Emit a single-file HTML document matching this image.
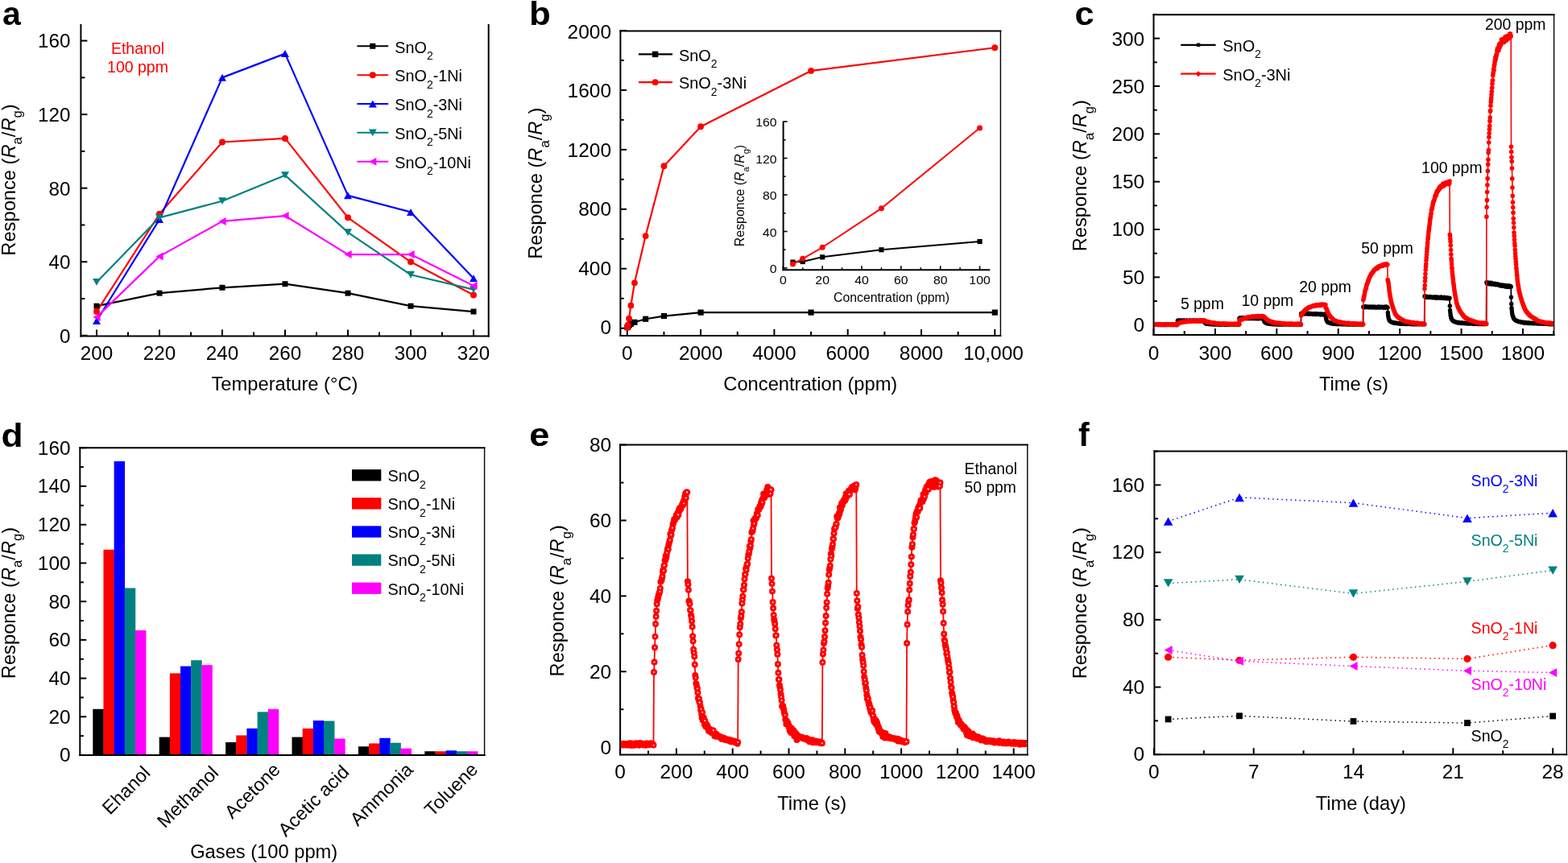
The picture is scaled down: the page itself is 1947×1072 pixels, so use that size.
<!DOCTYPE html>
<html><head><meta charset="utf-8"><title>Figure</title>
<style>html,body{margin:0;padding:0;background:#fff;overflow:hidden}svg{display:block}text{font-family:"Liberation Sans", sans-serif}</style>
</head><body>
<svg width="1947" height="1072" viewBox="0 0 1947 1072">
<rect width="1947" height="1072" fill="#fff"/>
<text x="3" y="31" font-size="41" text-anchor="start" fill="#000" font-weight="bold">a</text>
<line x1="100.4" y1="30" x2="100.4" y2="418.5" stroke="#000" stroke-width="2" />
<line x1="99.4" y1="417.5" x2="607.7" y2="417.5" stroke="#000" stroke-width="2" />
<line x1="606.7" y1="30" x2="606.7" y2="418.5" stroke="#000" stroke-width="2" />
<line x1="100.4" y1="416.8" x2="108.4" y2="416.8" stroke="#000" stroke-width="2" />
<text transform="translate(87.5,425.6) scale(1.045,1)" x="0" y="0" font-size="23.2" text-anchor="end" fill="#000" >0</text>
<line x1="100.4" y1="371.02" x2="105.4" y2="371.02" stroke="#000" stroke-width="2" />
<line x1="100.4" y1="325.25" x2="108.4" y2="325.25" stroke="#000" stroke-width="2" />
<text transform="translate(87.5,334.05) scale(1.045,1)" x="0" y="0" font-size="23.2" text-anchor="end" fill="#000" >40</text>
<line x1="100.4" y1="279.47" x2="105.4" y2="279.47" stroke="#000" stroke-width="2" />
<line x1="100.4" y1="233.7" x2="108.4" y2="233.7" stroke="#000" stroke-width="2" />
<text transform="translate(87.5,242.5) scale(1.045,1)" x="0" y="0" font-size="23.2" text-anchor="end" fill="#000" >80</text>
<line x1="100.4" y1="187.92" x2="105.4" y2="187.92" stroke="#000" stroke-width="2" />
<line x1="100.4" y1="142.14" x2="108.4" y2="142.14" stroke="#000" stroke-width="2" />
<text transform="translate(87.5,150.94) scale(1.045,1)" x="0" y="0" font-size="23.2" text-anchor="end" fill="#000" >120</text>
<line x1="100.4" y1="96.37" x2="105.4" y2="96.37" stroke="#000" stroke-width="2" />
<line x1="100.4" y1="50.59" x2="108.4" y2="50.59" stroke="#000" stroke-width="2" />
<text transform="translate(87.5,59.39) scale(1.045,1)" x="0" y="0" font-size="23.2" text-anchor="end" fill="#000" >160</text>
<line x1="120" y1="417.5" x2="120" y2="409.5" stroke="#000" stroke-width="2" />
<text transform="translate(120,447.3) scale(1.045,1)" x="0" y="0" font-size="23.2" text-anchor="middle" fill="#000" >200</text>
<line x1="159" y1="417.5" x2="159" y2="412.5" stroke="#000" stroke-width="2" />
<line x1="198" y1="417.5" x2="198" y2="409.5" stroke="#000" stroke-width="2" />
<text transform="translate(198,447.3) scale(1.045,1)" x="0" y="0" font-size="23.2" text-anchor="middle" fill="#000" >220</text>
<line x1="237" y1="417.5" x2="237" y2="412.5" stroke="#000" stroke-width="2" />
<line x1="276" y1="417.5" x2="276" y2="409.5" stroke="#000" stroke-width="2" />
<text transform="translate(276,447.3) scale(1.045,1)" x="0" y="0" font-size="23.2" text-anchor="middle" fill="#000" >240</text>
<line x1="315" y1="417.5" x2="315" y2="412.5" stroke="#000" stroke-width="2" />
<line x1="354" y1="417.5" x2="354" y2="409.5" stroke="#000" stroke-width="2" />
<text transform="translate(354,447.3) scale(1.045,1)" x="0" y="0" font-size="23.2" text-anchor="middle" fill="#000" >260</text>
<line x1="393" y1="417.5" x2="393" y2="412.5" stroke="#000" stroke-width="2" />
<line x1="432" y1="417.5" x2="432" y2="409.5" stroke="#000" stroke-width="2" />
<text transform="translate(432,447.3) scale(1.045,1)" x="0" y="0" font-size="23.2" text-anchor="middle" fill="#000" >280</text>
<line x1="471" y1="417.5" x2="471" y2="412.5" stroke="#000" stroke-width="2" />
<line x1="510" y1="417.5" x2="510" y2="409.5" stroke="#000" stroke-width="2" />
<text transform="translate(510,447.3) scale(1.045,1)" x="0" y="0" font-size="23.2" text-anchor="middle" fill="#000" >300</text>
<line x1="549" y1="417.5" x2="549" y2="412.5" stroke="#000" stroke-width="2" />
<line x1="588" y1="417.5" x2="588" y2="409.5" stroke="#000" stroke-width="2" />
<text transform="translate(588,447.3) scale(1.045,1)" x="0" y="0" font-size="23.2" text-anchor="middle" fill="#000" >320</text>
<text x="353.5" y="485.3" font-size="23.7" text-anchor="middle" fill="#000" >Temperature (°C)</text>
<text transform="translate(18.5,223.5) rotate(-90)" x="0" y="0" font-size="23.7" text-anchor="middle" fill="#000">Responce (<tspan font-style="italic">R</tspan><tspan dy="8.8" font-size="16.6">a</tspan><tspan dy="-8.8">/</tspan><tspan font-style="italic">R</tspan><tspan dy="8.8" font-size="16.6">g</tspan><tspan dy="-8.8">)</tspan></text>
<text x="171" y="67" font-size="19.5" text-anchor="middle" fill="#ff0000" >Ethanol</text>
<text x="171" y="90.1" font-size="19.5" text-anchor="middle" fill="#ff0000" >100 ppm</text>
<polyline points="120,380.18 198,364.16 276,357.29 354,352.71 432,364.16 510,380.18 588,387.05" fill="none" stroke="#000000" stroke-width="2.2" stroke-linejoin="round" />
<polyline points="120,387.05 198,265.74 276,176.48 354,171.9 432,270.32 510,325.25 588,366.45" fill="none" stroke="#ff0000" stroke-width="2.2" stroke-linejoin="round" />
<polyline points="120,398.49 198,272.61 276,96.37 354,66.61 432,242.85 510,263.45 588,345.85" fill="none" stroke="#0000ff" stroke-width="2.2" stroke-linejoin="round" />
<polyline points="120,350.42 198,270.32 276,249.72 354,217.67 432,288.63 510,341.27 588,359.58" fill="none" stroke="#008080" stroke-width="2.2" stroke-linejoin="round" />
<polyline points="120,393.91 198,318.38 276,274.89 354,268.03 432,316.09 510,316.09 588,355" fill="none" stroke="#ff00ff" stroke-width="2.2" stroke-linejoin="round" />
<rect x="116.5" y="376.68" width="7" height="7" fill="#000000"/>
<rect x="194.5" y="360.66" width="7" height="7" fill="#000000"/>
<rect x="272.5" y="353.79" width="7" height="7" fill="#000000"/>
<rect x="350.5" y="349.21" width="7" height="7" fill="#000000"/>
<rect x="428.5" y="360.66" width="7" height="7" fill="#000000"/>
<rect x="506.5" y="376.68" width="7" height="7" fill="#000000"/>
<rect x="584.5" y="383.55" width="7" height="7" fill="#000000"/>
<circle cx="120" cy="387.05" r="4" fill="#ff0000"/>
<circle cx="198" cy="265.74" r="4" fill="#ff0000"/>
<circle cx="276" cy="176.48" r="4" fill="#ff0000"/>
<circle cx="354" cy="171.9" r="4" fill="#ff0000"/>
<circle cx="432" cy="270.32" r="4" fill="#ff0000"/>
<circle cx="510" cy="325.25" r="4" fill="#ff0000"/>
<circle cx="588" cy="366.45" r="4" fill="#ff0000"/>
<polygon points="115,402.99 125,402.99 120,393.99" fill="#0000ff"/>
<polygon points="193,277.11 203,277.11 198,268.11" fill="#0000ff"/>
<polygon points="271,100.87 281,100.87 276,91.87" fill="#0000ff"/>
<polygon points="349,71.11 359,71.11 354,62.11" fill="#0000ff"/>
<polygon points="427,247.35 437,247.35 432,238.35" fill="#0000ff"/>
<polygon points="505,267.95 515,267.95 510,258.95" fill="#0000ff"/>
<polygon points="583,350.35 593,350.35 588,341.35" fill="#0000ff"/>
<polygon points="115,346.02 125,346.02 120,354.82" fill="#008080"/>
<polygon points="193,265.92 203,265.92 198,274.72" fill="#008080"/>
<polygon points="271,245.32 281,245.32 276,254.12" fill="#008080"/>
<polygon points="349,213.27 359,213.27 354,222.07" fill="#008080"/>
<polygon points="427,284.23 437,284.23 432,293.03" fill="#008080"/>
<polygon points="505,336.87 515,336.87 510,345.67" fill="#008080"/>
<polygon points="583,355.18 593,355.18 588,363.98" fill="#008080"/>
<polygon points="124.6,388.91 124.6,398.91 115.4,393.91" fill="#ff00ff"/>
<polygon points="202.6,313.38 202.6,323.38 193.4,318.38" fill="#ff00ff"/>
<polygon points="280.6,269.89 280.6,279.89 271.4,274.89" fill="#ff00ff"/>
<polygon points="358.6,263.03 358.6,273.03 349.4,268.03" fill="#ff00ff"/>
<polygon points="436.6,311.09 436.6,321.09 427.4,316.09" fill="#ff00ff"/>
<polygon points="514.6,311.09 514.6,321.09 505.4,316.09" fill="#ff00ff"/>
<polygon points="592.6,350 592.6,360 583.4,355" fill="#ff00ff"/>
<line x1="443.4" y1="57.3" x2="482.2" y2="57.3" stroke="#000000" stroke-width="2.0" />
<rect x="459.3" y="53.8" width="7" height="7" fill="#000000"/>
<text x="490.3" y="65.5" font-size="19.8" text-anchor="start" fill="#000" >SnO<tspan dy="8.4" font-size="14">2</tspan></text>
<line x1="443.4" y1="93.15" x2="482.2" y2="93.15" stroke="#ff0000" stroke-width="2.0" />
<circle cx="462.8" cy="93.15" r="4" fill="#ff0000"/>
<text x="490.3" y="101.35" font-size="19.8" text-anchor="start" fill="#000" >SnO<tspan dy="8.4" font-size="14">2</tspan><tspan dy="-8.4">-1Ni</tspan></text>
<line x1="443.4" y1="129" x2="482.2" y2="129" stroke="#0000ff" stroke-width="2.0" />
<polygon points="457.8,133.5 467.8,133.5 462.8,124.5" fill="#0000ff"/>
<text x="490.3" y="137.2" font-size="19.8" text-anchor="start" fill="#000" >SnO<tspan dy="8.4" font-size="14">2</tspan><tspan dy="-8.4">-3Ni</tspan></text>
<line x1="443.4" y1="164.85" x2="482.2" y2="164.85" stroke="#008080" stroke-width="2.0" />
<polygon points="457.8,160.45 467.8,160.45 462.8,169.25" fill="#008080"/>
<text x="490.3" y="173.05" font-size="19.8" text-anchor="start" fill="#000" >SnO<tspan dy="8.4" font-size="14">2</tspan><tspan dy="-8.4">-5Ni</tspan></text>
<line x1="443.4" y1="200.7" x2="482.2" y2="200.7" stroke="#ff00ff" stroke-width="2.0" />
<polygon points="467.4,195.7 467.4,205.7 458.2,200.7" fill="#ff00ff"/>
<text x="490.3" y="208.9" font-size="19.8" text-anchor="start" fill="#000" >SnO<tspan dy="8.4" font-size="14">2</tspan><tspan dy="-8.4">-10Ni</tspan></text>
<text transform="translate(657.1,31) scale(1.07,1)" x="0" y="0" font-size="41" text-anchor="start" fill="#000" font-weight="bold">b</text>
<line x1="770.4" y1="37.5" x2="770.4" y2="417.9" stroke="#000" stroke-width="2" />
<line x1="769.4" y1="416.9" x2="1243.4" y2="416.9" stroke="#000" stroke-width="2" />
<line x1="769.4" y1="38.5" x2="1243.4" y2="38.5" stroke="#000" stroke-width="2" />
<line x1="1242.4" y1="38.5" x2="1242.4" y2="417.9" stroke="#000" stroke-width="1.4" />
<line x1="770.4" y1="407.7" x2="778" y2="407.7" stroke="#000" stroke-width="2" />
<text transform="translate(759,415.4) scale(1.045,1)" x="0" y="0" font-size="23.4" text-anchor="end" fill="#000" >0</text>
<line x1="770.4" y1="370.73" x2="774.7" y2="370.73" stroke="#000" stroke-width="2" />
<line x1="770.4" y1="333.76" x2="778" y2="333.76" stroke="#000" stroke-width="2" />
<text transform="translate(759,341.89) scale(1.045,1)" x="0" y="0" font-size="23.4" text-anchor="end" fill="#000" >400</text>
<line x1="770.4" y1="296.79" x2="774.7" y2="296.79" stroke="#000" stroke-width="2" />
<line x1="770.4" y1="259.82" x2="778" y2="259.82" stroke="#000" stroke-width="2" />
<text transform="translate(759,268.38) scale(1.045,1)" x="0" y="0" font-size="23.4" text-anchor="end" fill="#000" >800</text>
<line x1="770.4" y1="222.85" x2="774.7" y2="222.85" stroke="#000" stroke-width="2" />
<line x1="770.4" y1="185.88" x2="778" y2="185.88" stroke="#000" stroke-width="2" />
<text transform="translate(759,194.87) scale(1.045,1)" x="0" y="0" font-size="23.4" text-anchor="end" fill="#000" >1200</text>
<line x1="770.4" y1="148.91" x2="774.7" y2="148.91" stroke="#000" stroke-width="2" />
<line x1="770.4" y1="111.94" x2="778" y2="111.94" stroke="#000" stroke-width="2" />
<text transform="translate(759,121.36) scale(1.045,1)" x="0" y="0" font-size="23.4" text-anchor="end" fill="#000" >1600</text>
<line x1="770.4" y1="74.97" x2="774.7" y2="74.97" stroke="#000" stroke-width="2" />
<line x1="770.4" y1="38" x2="778" y2="38" stroke="#000" stroke-width="2" />
<text transform="translate(759,47.85) scale(1.045,1)" x="0" y="0" font-size="23.4" text-anchor="end" fill="#000" >2000</text>
<line x1="778.8" y1="416.9" x2="778.8" y2="408.9" stroke="#000" stroke-width="2" />
<text transform="translate(778.8,447.3) scale(1.045,1)" x="0" y="0" font-size="23.4" text-anchor="middle" fill="#000" >0</text>
<line x1="824.45" y1="416.9" x2="824.45" y2="411.9" stroke="#000" stroke-width="2" />
<line x1="870.1" y1="416.9" x2="870.1" y2="408.9" stroke="#000" stroke-width="2" />
<text transform="translate(870.1,447.3) scale(1.045,1)" x="0" y="0" font-size="23.4" text-anchor="middle" fill="#000" >2000</text>
<line x1="915.75" y1="416.9" x2="915.75" y2="411.9" stroke="#000" stroke-width="2" />
<line x1="961.4" y1="416.9" x2="961.4" y2="408.9" stroke="#000" stroke-width="2" />
<text transform="translate(961.4,447.3) scale(1.045,1)" x="0" y="0" font-size="23.4" text-anchor="middle" fill="#000" >4000</text>
<line x1="1007.05" y1="416.9" x2="1007.05" y2="411.9" stroke="#000" stroke-width="2" />
<line x1="1052.7" y1="416.9" x2="1052.7" y2="408.9" stroke="#000" stroke-width="2" />
<text transform="translate(1052.7,447.3) scale(1.045,1)" x="0" y="0" font-size="23.4" text-anchor="middle" fill="#000" >6000</text>
<line x1="1098.35" y1="416.9" x2="1098.35" y2="411.9" stroke="#000" stroke-width="2" />
<line x1="1144" y1="416.9" x2="1144" y2="408.9" stroke="#000" stroke-width="2" />
<text transform="translate(1144,447.3) scale(1.045,1)" x="0" y="0" font-size="23.4" text-anchor="middle" fill="#000" >8000</text>
<line x1="1189.65" y1="416.9" x2="1189.65" y2="411.9" stroke="#000" stroke-width="2" />
<line x1="1235.3" y1="416.9" x2="1235.3" y2="408.9" stroke="#000" stroke-width="2" />
<text transform="translate(1233.5,447.3) scale(1.045,1)" x="0" y="0" font-size="23.4" text-anchor="middle" fill="#000" >10,000</text>
<text x="1006.3" y="485.3" font-size="23.7" text-anchor="middle" fill="#000" >Concentration (ppm)</text>
<text transform="translate(673,227.7) rotate(-90)" x="0" y="0" font-size="23.7" text-anchor="middle" fill="#000">Responce (<tspan font-style="italic">R</tspan><tspan dy="8.8" font-size="16.6">a</tspan><tspan dy="-8.8">/</tspan><tspan font-style="italic">R</tspan><tspan dy="8.8" font-size="16.6">g</tspan><tspan dy="-8.8">)</tspan></text>
<polyline points="779.03,406.59 779.26,406.41 779.71,405.48 781.08,404 783.37,402.34 787.93,400.31 801.62,396.24 824.45,392.54 870.1,388.11 1007.05,388.11 1235.3,388.11" fill="none" stroke="#000000" stroke-width="2.2" stroke-linejoin="round" />
<polyline points="779.03,406.87 779.26,405.8 779.71,403.54 781.08,395.68 783.37,379.42 787.93,351.32 801.62,293.09 824.45,206.21 870.1,157.23 1007.05,87.91 1235.3,59.26" fill="none" stroke="#ff0000" stroke-width="2.2" stroke-linejoin="round" />
<rect x="775.43" y="402.99" width="7.2" height="7.2" fill="#000000"/>
<rect x="775.66" y="402.81" width="7.2" height="7.2" fill="#000000"/>
<rect x="776.11" y="401.88" width="7.2" height="7.2" fill="#000000"/>
<rect x="777.48" y="400.4" width="7.2" height="7.2" fill="#000000"/>
<rect x="779.76" y="398.74" width="7.2" height="7.2" fill="#000000"/>
<rect x="784.33" y="396.71" width="7.2" height="7.2" fill="#000000"/>
<rect x="798.02" y="392.64" width="7.2" height="7.2" fill="#000000"/>
<rect x="820.85" y="388.94" width="7.2" height="7.2" fill="#000000"/>
<rect x="866.5" y="384.51" width="7.2" height="7.2" fill="#000000"/>
<rect x="1003.45" y="384.51" width="7.2" height="7.2" fill="#000000"/>
<rect x="1231.7" y="384.51" width="7.2" height="7.2" fill="#000000"/>
<circle cx="779.03" cy="406.87" r="3.9" fill="#ff0000"/>
<circle cx="779.26" cy="405.8" r="3.9" fill="#ff0000"/>
<circle cx="779.71" cy="403.54" r="3.9" fill="#ff0000"/>
<circle cx="781.08" cy="395.68" r="3.9" fill="#ff0000"/>
<circle cx="783.37" cy="379.42" r="3.9" fill="#ff0000"/>
<circle cx="787.93" cy="351.32" r="3.9" fill="#ff0000"/>
<circle cx="801.62" cy="293.09" r="3.9" fill="#ff0000"/>
<circle cx="824.45" cy="206.21" r="3.9" fill="#ff0000"/>
<circle cx="870.1" cy="157.23" r="3.9" fill="#ff0000"/>
<circle cx="1007.05" cy="87.91" r="3.9" fill="#ff0000"/>
<circle cx="1235.3" cy="59.26" r="3.9" fill="#ff0000"/>
<line x1="792.9" y1="67.4" x2="835" y2="67.4" stroke="#000000" stroke-width="2.2" />
<rect x="809.9" y="63.7" width="7.4" height="7.4" fill="#000000"/>
<text x="843" y="75.6" font-size="19.9" text-anchor="start" fill="#000" >SnO<tspan dy="8.4" font-size="14">2</tspan></text>
<line x1="792.9" y1="102.2" x2="835" y2="102.2" stroke="#ff0000" stroke-width="2.2" />
<circle cx="813.6" cy="102.2" r="3.9" fill="#ff0000"/>
<text x="843" y="110.4" font-size="19.9" text-anchor="start" fill="#000" >SnO<tspan dy="8.4" font-size="14">2</tspan><tspan dy="-8.4">-3Ni</tspan></text>
<line x1="972.6" y1="150.5" x2="972.6" y2="336.3" stroke="#000" stroke-width="2" />
<line x1="971.6" y1="335.3" x2="1229.3" y2="335.3" stroke="#000" stroke-width="2" />
<line x1="972.6" y1="333" x2="977.6" y2="333" stroke="#000" stroke-width="1.6" />
<text transform="translate(964.6,339) scale(1.04,1)" x="0" y="0" font-size="15.2" text-anchor="end" fill="#000" >0</text>
<line x1="972.6" y1="310.25" x2="975.6" y2="310.25" stroke="#000" stroke-width="1.6" />
<line x1="972.6" y1="287.5" x2="977.6" y2="287.5" stroke="#000" stroke-width="1.6" />
<text transform="translate(964.6,293.5) scale(1.04,1)" x="0" y="0" font-size="15.2" text-anchor="end" fill="#000" >40</text>
<line x1="972.6" y1="264.75" x2="975.6" y2="264.75" stroke="#000" stroke-width="1.6" />
<line x1="972.6" y1="242" x2="977.6" y2="242" stroke="#000" stroke-width="1.6" />
<text transform="translate(964.6,248) scale(1.04,1)" x="0" y="0" font-size="15.2" text-anchor="end" fill="#000" >80</text>
<line x1="972.6" y1="219.25" x2="975.6" y2="219.25" stroke="#000" stroke-width="1.6" />
<line x1="972.6" y1="196.5" x2="977.6" y2="196.5" stroke="#000" stroke-width="1.6" />
<text transform="translate(964.6,202.5) scale(1.04,1)" x="0" y="0" font-size="15.2" text-anchor="end" fill="#000" >120</text>
<line x1="972.6" y1="173.75" x2="975.6" y2="173.75" stroke="#000" stroke-width="1.6" />
<line x1="972.6" y1="151" x2="977.6" y2="151" stroke="#000" stroke-width="1.6" />
<text transform="translate(964.6,157) scale(1.04,1)" x="0" y="0" font-size="15.2" text-anchor="end" fill="#000" >160</text>
<line x1="972.3" y1="335.3" x2="972.3" y2="330.3" stroke="#000" stroke-width="1.6" />
<text transform="translate(972.3,353.4) scale(1.04,1)" x="0" y="0" font-size="15.2" text-anchor="middle" fill="#000" >0</text>
<line x1="996.72" y1="335.3" x2="996.72" y2="332.3" stroke="#000" stroke-width="1.6" />
<line x1="1021.15" y1="335.3" x2="1021.15" y2="330.3" stroke="#000" stroke-width="1.6" />
<text transform="translate(1021.15,353.4) scale(1.04,1)" x="0" y="0" font-size="15.2" text-anchor="middle" fill="#000" >20</text>
<line x1="1045.58" y1="335.3" x2="1045.58" y2="332.3" stroke="#000" stroke-width="1.6" />
<line x1="1070" y1="335.3" x2="1070" y2="330.3" stroke="#000" stroke-width="1.6" />
<text transform="translate(1070,353.4) scale(1.04,1)" x="0" y="0" font-size="15.2" text-anchor="middle" fill="#000" >40</text>
<line x1="1094.42" y1="335.3" x2="1094.42" y2="332.3" stroke="#000" stroke-width="1.6" />
<line x1="1118.85" y1="335.3" x2="1118.85" y2="330.3" stroke="#000" stroke-width="1.6" />
<text transform="translate(1118.85,353.4) scale(1.04,1)" x="0" y="0" font-size="15.2" text-anchor="middle" fill="#000" >60</text>
<line x1="1143.27" y1="335.3" x2="1143.27" y2="332.3" stroke="#000" stroke-width="1.6" />
<line x1="1167.7" y1="335.3" x2="1167.7" y2="330.3" stroke="#000" stroke-width="1.6" />
<text transform="translate(1167.7,353.4) scale(1.04,1)" x="0" y="0" font-size="15.2" text-anchor="middle" fill="#000" >80</text>
<line x1="1192.12" y1="335.3" x2="1192.12" y2="332.3" stroke="#000" stroke-width="1.6" />
<line x1="1216.55" y1="335.3" x2="1216.55" y2="330.3" stroke="#000" stroke-width="1.6" />
<text transform="translate(1216.55,353.4) scale(1.04,1)" x="0" y="0" font-size="15.2" text-anchor="middle" fill="#000" >100</text>
<text x="1107" y="375" font-size="15.8" text-anchor="middle" fill="#000" >Concentration (ppm)</text>
<text transform="translate(924.2,243) rotate(-90)" x="0" y="0" font-size="15.9" text-anchor="middle" fill="#000">Responce (<tspan font-style="italic">R</tspan><tspan dy="5.9" font-size="11.1">a</tspan><tspan dy="-5.9">/</tspan><tspan font-style="italic">R</tspan><tspan dy="5.9" font-size="11.1">g</tspan><tspan dy="-5.9">)</tspan></text>
<polyline points="984.51,325.61 996.72,325.04 1021.15,319.35 1094.42,310.25 1216.55,300.01" fill="none" stroke="#000000" stroke-width="2" stroke-linejoin="round" />
<polyline points="984.51,327.88 996.72,321.28 1021.15,307.29 1094.42,258.83 1216.55,158.96" fill="none" stroke="#ff0000" stroke-width="2" stroke-linejoin="round" />
<rect x="981.41" y="322.51" width="6.2" height="6.2" fill="#000000"/>
<rect x="993.62" y="321.94" width="6.2" height="6.2" fill="#000000"/>
<rect x="1018.05" y="316.25" width="6.2" height="6.2" fill="#000000"/>
<rect x="1091.33" y="307.15" width="6.2" height="6.2" fill="#000000"/>
<rect x="1213.45" y="296.91" width="6.2" height="6.2" fill="#000000"/>
<circle cx="984.51" cy="327.88" r="3.5" fill="#ff0000"/>
<circle cx="996.72" cy="321.28" r="3.5" fill="#ff0000"/>
<circle cx="1021.15" cy="307.29" r="3.5" fill="#ff0000"/>
<circle cx="1094.42" cy="258.83" r="3.5" fill="#ff0000"/>
<circle cx="1216.55" cy="158.96" r="3.5" fill="#ff0000"/>
<text transform="translate(1334.5,31) scale(1.06,1)" x="0" y="0" font-size="41" text-anchor="start" fill="#000" font-weight="bold">c</text>
<line x1="1432.5" y1="17.3" x2="1432.5" y2="417.1" stroke="#000" stroke-width="2" />
<line x1="1431.5" y1="416.1" x2="1930.6" y2="416.1" stroke="#000" stroke-width="2" />
<line x1="1431.5" y1="18.3" x2="1930.6" y2="18.3" stroke="#000" stroke-width="2" />
<line x1="1929.6" y1="18.3" x2="1929.6" y2="417.1" stroke="#000" stroke-width="1.4" />
<line x1="1432.5" y1="403.7" x2="1440.1" y2="403.7" stroke="#000" stroke-width="2" />
<text transform="translate(1421.2,411.6) scale(1.045,1)" x="0" y="0" font-size="23.4" text-anchor="end" fill="#000" >0</text>
<line x1="1432.5" y1="374.03" x2="1436.8" y2="374.03" stroke="#000" stroke-width="2" />
<line x1="1432.5" y1="344.37" x2="1440.1" y2="344.37" stroke="#000" stroke-width="2" />
<text transform="translate(1421.2,352.54) scale(1.045,1)" x="0" y="0" font-size="23.4" text-anchor="end" fill="#000" >50</text>
<line x1="1432.5" y1="314.7" x2="1436.8" y2="314.7" stroke="#000" stroke-width="2" />
<line x1="1432.5" y1="285.03" x2="1440.1" y2="285.03" stroke="#000" stroke-width="2" />
<text transform="translate(1421.2,293.48) scale(1.045,1)" x="0" y="0" font-size="23.4" text-anchor="end" fill="#000" >100</text>
<line x1="1432.5" y1="255.36" x2="1436.8" y2="255.36" stroke="#000" stroke-width="2" />
<line x1="1432.5" y1="225.69" x2="1440.1" y2="225.69" stroke="#000" stroke-width="2" />
<text transform="translate(1421.2,234.42) scale(1.045,1)" x="0" y="0" font-size="23.4" text-anchor="end" fill="#000" >150</text>
<line x1="1432.5" y1="196.03" x2="1436.8" y2="196.03" stroke="#000" stroke-width="2" />
<line x1="1432.5" y1="166.36" x2="1440.1" y2="166.36" stroke="#000" stroke-width="2" />
<text transform="translate(1421.2,175.37) scale(1.045,1)" x="0" y="0" font-size="23.4" text-anchor="end" fill="#000" >200</text>
<line x1="1432.5" y1="136.69" x2="1436.8" y2="136.69" stroke="#000" stroke-width="2" />
<line x1="1432.5" y1="107.02" x2="1440.1" y2="107.02" stroke="#000" stroke-width="2" />
<text transform="translate(1421.2,116.31) scale(1.045,1)" x="0" y="0" font-size="23.4" text-anchor="end" fill="#000" >250</text>
<line x1="1432.5" y1="77.36" x2="1436.8" y2="77.36" stroke="#000" stroke-width="2" />
<line x1="1432.5" y1="47.69" x2="1440.1" y2="47.69" stroke="#000" stroke-width="2" />
<text transform="translate(1421.2,57.25) scale(1.045,1)" x="0" y="0" font-size="23.4" text-anchor="end" fill="#000" >300</text>
<line x1="1432.5" y1="18.02" x2="1436.8" y2="18.02" stroke="#000" stroke-width="2" />
<line x1="1432.5" y1="416.1" x2="1432.5" y2="408.1" stroke="#000" stroke-width="2" />
<text transform="translate(1432.5,447.3) scale(1.045,1)" x="0" y="0" font-size="23.4" text-anchor="middle" fill="#000" >0</text>
<line x1="1470.7" y1="416.1" x2="1470.7" y2="411.1" stroke="#000" stroke-width="2" />
<line x1="1508.91" y1="416.1" x2="1508.91" y2="408.1" stroke="#000" stroke-width="2" />
<text transform="translate(1508.91,447.3) scale(1.045,1)" x="0" y="0" font-size="23.4" text-anchor="middle" fill="#000" >300</text>
<line x1="1547.12" y1="416.1" x2="1547.12" y2="411.1" stroke="#000" stroke-width="2" />
<line x1="1585.32" y1="416.1" x2="1585.32" y2="408.1" stroke="#000" stroke-width="2" />
<text transform="translate(1585.32,447.3) scale(1.045,1)" x="0" y="0" font-size="23.4" text-anchor="middle" fill="#000" >600</text>
<line x1="1623.53" y1="416.1" x2="1623.53" y2="411.1" stroke="#000" stroke-width="2" />
<line x1="1661.73" y1="416.1" x2="1661.73" y2="408.1" stroke="#000" stroke-width="2" />
<text transform="translate(1661.73,447.3) scale(1.045,1)" x="0" y="0" font-size="23.4" text-anchor="middle" fill="#000" >900</text>
<line x1="1699.93" y1="416.1" x2="1699.93" y2="411.1" stroke="#000" stroke-width="2" />
<line x1="1738.14" y1="416.1" x2="1738.14" y2="408.1" stroke="#000" stroke-width="2" />
<text transform="translate(1738.14,447.3) scale(1.045,1)" x="0" y="0" font-size="23.4" text-anchor="middle" fill="#000" >1200</text>
<line x1="1776.35" y1="416.1" x2="1776.35" y2="411.1" stroke="#000" stroke-width="2" />
<line x1="1814.55" y1="416.1" x2="1814.55" y2="408.1" stroke="#000" stroke-width="2" />
<text transform="translate(1814.55,447.3) scale(1.045,1)" x="0" y="0" font-size="23.4" text-anchor="middle" fill="#000" >1500</text>
<line x1="1852.76" y1="416.1" x2="1852.76" y2="411.1" stroke="#000" stroke-width="2" />
<line x1="1890.96" y1="416.1" x2="1890.96" y2="408.1" stroke="#000" stroke-width="2" />
<text transform="translate(1890.96,447.3) scale(1.045,1)" x="0" y="0" font-size="23.4" text-anchor="middle" fill="#000" >1800</text>
<line x1="1929.16" y1="416.1" x2="1929.16" y2="411.1" stroke="#000" stroke-width="2" />
<text x="1681" y="485.3" font-size="23.7" text-anchor="middle" fill="#000" >Time (s)</text>
<text transform="translate(1349,218.2) rotate(-90)" x="0" y="0" font-size="23.7" text-anchor="middle" fill="#000">Responce (<tspan font-style="italic">R</tspan><tspan dy="8.8" font-size="16.6">a</tspan><tspan dy="-8.8">/</tspan><tspan font-style="italic">R</tspan><tspan dy="8.8" font-size="16.6">g</tspan><tspan dy="-8.8">)</tspan></text>
<clipPath id="clipc"><rect x="1433.5" y="19.3" width="495.3" height="395.8"/></clipPath><g clip-path="url(#clipc)">
<polyline points="1432.5,403.09 1432.75,403.41 1433.01,403.35 1433.26,403.42 1433.52,403.28 1433.77,403.47 1434.03,403.24 1434.28,403.53 1434.54,403.24 1434.79,403.35 1435.05,403.19 1435.3,403.24 1435.56,403.25 1435.81,403.24 1436.07,403.37 1436.32,403.37 1436.58,403.37 1436.83,403.33 1437.08,403.3 1437.34,403.57 1437.59,403.38 1437.85,403.37 1438.1,403.19 1438.36,403.31 1438.61,403.59 1438.87,403.26 1439.12,403.19 1439.38,403.29 1439.63,403.17 1439.89,403.36 1440.14,403.57 1440.4,403.46 1440.65,403.03 1440.91,403.42 1441.16,403.5 1441.41,403.27 1441.67,403.26 1441.92,403.15 1442.18,403.26 1442.43,403.45 1442.69,403.24 1442.94,403.22 1443.2,403.5 1443.45,403.41 1443.71,403.47 1443.96,403.42 1444.22,403.16 1444.47,403.33 1444.73,403.22 1444.98,403.18 1445.23,403.22 1445.49,403.58 1445.74,403.23 1446,403.35 1446.25,403.03 1446.51,403.06 1446.76,403.64 1447.02,403.38 1447.27,403.27 1447.53,403.25 1447.78,403.57 1448.04,403.32 1448.29,403.51 1448.55,403.41 1448.8,403.1 1449.06,403.41 1449.31,403.23 1449.56,403.38 1449.82,403.22 1450.07,403.41 1450.33,403.57 1450.58,403.29 1450.84,403.53 1451.09,403.27 1451.35,403.42 1451.6,403.21 1451.86,403.42 1452.11,403.51 1452.37,403.27 1452.62,403.51 1452.88,403.35 1453.13,403.33 1453.39,403.25 1453.64,403.12 1453.89,403.33 1454.15,403.4 1454.4,403.4 1454.66,403.44 1454.91,403.3 1455.17,403.51 1455.42,403.55 1455.68,403.36 1455.93,403.36 1456.19,403.54 1456.44,403.13 1456.7,403.45 1456.95,403.59 1457.21,403.4 1457.46,403.4 1457.72,403.37 1457.97,403.11 1458.22,403.57 1458.48,403.18 1458.73,403.48 1458.99,403.54 1459.24,403.32 1459.5,403.12 1459.75,403.63 1460.01,403.39 1460.26,403.36 1460.52,403.28 1460.77,403.44 1461.03,403.29 1461.28,403.69 1461.54,403.24 1461.79,403.25 1462.05,403.25 1462.3,398.41 1462.55,398.28 1462.81,398.06 1463.06,398.02 1463.32,398.24 1463.57,398.42 1463.83,398.4 1464.08,398.42 1464.34,398.23 1464.59,398.3 1464.85,397.99 1465.1,398.31 1465.36,398.32 1465.61,398.16 1465.87,397.97 1466.12,398.32 1466.38,398.11 1466.63,398.18 1466.88,398.09 1467.14,398.43 1467.39,398.1 1467.65,398.46 1467.9,398.38 1468.16,398.26 1468.41,398.36 1468.67,398.33 1468.92,398.24 1469.18,398.31 1469.43,398.35 1469.69,398.48 1469.94,398.3 1470.2,398.79 1470.45,398.53 1470.7,398.31 1470.96,398.29 1471.21,398.6 1471.47,398.5 1471.72,398.24 1471.98,398.39 1472.23,398.39 1472.49,398.48 1472.74,398.56 1473,398.41 1473.25,398.1 1473.51,398.34 1473.76,398.27 1474.02,398.21 1474.27,398.24 1474.53,398.81 1474.78,398.53 1475.03,398.56 1475.29,398.41 1475.54,398.44 1475.8,398.6 1476.05,398.62 1476.31,398.12 1476.56,398.55 1476.82,398.43 1477.07,398.2 1477.33,398.18 1477.58,398.61 1477.84,398.17 1478.09,398.49 1478.35,398.24 1478.6,398.68 1478.86,398.45 1479.11,398.43 1479.36,398.6 1479.62,398.2 1479.87,398.86 1480.13,398.38 1480.38,398.14 1480.64,398.41 1480.89,398.23 1481.15,398.59 1481.4,398.5 1481.66,398.26 1481.91,398.52 1482.17,398.19 1482.42,398.53 1482.68,398.48 1482.93,398.24 1483.19,398.38 1483.44,398.27 1483.69,398.47 1483.95,398.43 1484.2,398.37 1484.46,398.39 1484.71,398.62 1484.97,398.3 1485.22,398.53 1485.48,398.5 1485.73,398.26 1485.99,398.5 1486.24,398.69 1486.5,398.54 1486.75,398.29 1487.01,398.84 1487.26,398.71 1487.52,398.88 1487.77,398.65 1488.02,398.43 1488.28,398.28 1488.53,398.77 1488.79,398.58 1489.04,398.4 1489.3,398.31 1489.55,398.54 1489.81,398.53 1490.06,398.63 1490.32,398.93 1490.57,398.27 1490.83,398.37 1491.08,398.61 1491.34,398.5 1491.59,398.8 1491.85,398.66 1492.1,398.58 1492.35,398.51 1492.61,398.61 1492.86,398.69 1493.12,398.53 1493.37,398.81 1493.63,398.58 1493.88,398.43 1494.14,398.62 1494.39,398.55 1494.65,398.63 1494.9,398.52 1495.16,398.94 1495.41,399.87 1495.67,400.2 1495.92,400.69 1496.17,400.76 1496.43,400.99 1496.68,401.32 1496.94,401.49 1497.19,401.89 1497.45,401.66 1497.7,402.02 1497.96,402.24 1498.21,401.91 1498.47,402.07 1498.72,402.17 1498.98,402.05 1499.23,402.13 1499.49,402.02 1499.74,402.34 1500,402.21 1500.25,402.39 1500.5,402.37 1500.76,402.51 1501.01,402.5 1501.27,402.62 1501.52,402.21 1501.78,402.17 1502.03,402.29 1502.29,402.74 1502.54,402.29 1502.8,402.52 1503.05,402.73 1503.31,402.64 1503.56,402.44 1503.82,402.74 1504.07,402.31 1504.33,402.74 1504.58,402.36 1504.83,402.73 1505.09,402.59 1505.34,402.89 1505.6,402.69 1505.85,403.06 1506.11,402.59 1506.36,402.67 1506.62,402.66 1506.87,402.72 1507.13,402.85 1507.38,402.61 1507.64,402.84 1507.89,402.93 1508.15,402.73 1508.4,402.7 1508.66,402.86 1508.91,402.83 1509.16,402.96 1509.42,402.77 1509.67,402.88 1509.93,402.77 1510.18,402.86 1510.44,402.78 1510.69,403.1 1510.95,402.78 1511.2,403.01 1511.46,402.79 1511.71,402.66 1511.97,402.8 1512.22,402.75 1512.48,402.83 1512.73,403.03 1512.99,403.08 1513.24,402.75 1513.49,403.31 1513.75,403.05 1514,403.12 1514.26,403.03 1514.51,402.99 1514.77,403.05 1515.02,402.95 1515.28,403.18 1515.53,402.8 1515.79,403 1516.04,403.09 1516.3,403.17 1516.55,402.83 1516.81,402.86 1517.06,402.75 1517.32,403.24 1517.57,403.04 1517.82,402.93 1518.08,402.92 1518.33,402.91 1518.59,402.83 1518.84,402.85 1519.1,402.89 1519.35,402.9 1519.61,403.02 1519.86,403.04 1520.12,403.34 1520.37,403.35 1520.63,403.06 1520.88,402.98 1521.14,403 1521.39,402.67 1521.64,403.32 1521.9,402.96 1522.15,403.14 1522.41,402.94 1522.66,403.22 1522.92,403.22 1523.17,402.84 1523.43,403.08 1523.68,403.07 1523.94,403.12 1524.19,403.27 1524.45,403.26 1524.7,402.86 1524.96,403.11 1525.21,403.15 1525.47,402.88 1525.72,403.18 1525.97,402.84 1526.23,402.98 1526.48,403.08 1526.74,402.9 1526.99,402.87 1527.25,402.93 1527.5,403.12 1527.76,403.01 1528.01,403.31 1528.27,402.97 1528.52,402.9 1528.78,403.01 1529.03,403.2 1529.29,403.16 1529.54,403.05 1529.8,403.17 1530.05,403.42 1530.3,403.19 1530.56,403.06 1530.81,403.05 1531.07,403.26 1531.32,402.94 1531.58,403.22 1531.83,403.13 1532.09,402.99 1532.34,403.13 1532.6,403.33 1532.85,403.03 1533.11,403.21 1533.36,402.96 1533.62,403.01 1533.87,402.99 1534.13,403.09 1534.38,403.13 1534.63,403.28 1534.89,403.37 1535.14,403.2 1535.4,403.24 1535.65,402.89 1535.91,402.95 1536.16,403.24 1536.42,402.97 1536.67,403.17 1536.93,403.04 1537.18,402.76 1537.44,402.72 1537.69,403.14 1537.95,402.99 1538.2,403.06 1538.46,403.28 1538.71,403.01 1538.96,395.52 1539.22,395.14 1539.47,395.01 1539.73,395.32 1539.98,394.91 1540.24,395.09 1540.49,395.35 1540.75,395.21 1541,395.2 1541.26,395 1541.51,395.07 1541.77,394.95 1542.02,395.15 1542.28,395.06 1542.53,395.51 1542.79,395.07 1543.04,394.9 1543.29,395.04 1543.55,395.1 1543.8,395.47 1544.06,395.11 1544.31,395.02 1544.57,395.6 1544.82,395.32 1545.08,395.23 1545.33,395.1 1545.59,394.8 1545.84,395.3 1546.1,395.62 1546.35,395.35 1546.61,395.64 1546.86,394.95 1547.12,395.22 1547.37,395.37 1547.62,395.03 1547.88,395.47 1548.13,394.78 1548.39,395.54 1548.64,395.1 1548.9,395.61 1549.15,395.13 1549.41,395.11 1549.66,395.32 1549.92,395.65 1550.17,395.18 1550.43,395.09 1550.68,394.99 1550.94,395.35 1551.19,395.37 1551.44,395.19 1551.7,395.05 1551.95,395.17 1552.21,395.27 1552.46,395.47 1552.72,395.37 1552.97,395.5 1553.23,395.18 1553.48,395.25 1553.74,395.01 1553.99,395.32 1554.25,395.37 1554.5,395.3 1554.76,395.23 1555.01,395.5 1555.27,395.15 1555.52,395.54 1555.77,395.41 1556.03,395.64 1556.28,395.39 1556.54,395.46 1556.79,395.01 1557.05,395.49 1557.3,395.5 1557.56,395.52 1557.81,395.76 1558.07,395.37 1558.32,395.49 1558.58,395.32 1558.83,395.58 1559.09,395.1 1559.34,395.31 1559.6,395.58 1559.85,395.59 1560.1,395.65 1560.36,395.21 1560.61,395.05 1560.87,395.89 1561.12,395.1 1561.38,395.51 1561.63,395.84 1561.89,395.3 1562.14,395.27 1562.4,395.87 1562.65,395.63 1562.91,395.43 1563.16,395.73 1563.42,395.19 1563.67,395.63 1563.93,395.58 1564.18,395.25 1564.43,395.67 1564.69,395.36 1564.94,395.49 1565.2,395.36 1565.45,395.65 1565.71,395.54 1565.96,395.34 1566.22,395.78 1566.47,395.68 1566.73,395.5 1566.98,395.39 1567.24,395.65 1567.49,395.46 1567.75,395.44 1568,395.64 1568.26,395.65 1568.51,395.73 1568.76,395.57 1569.02,395.76 1569.27,396.56 1569.53,397.64 1569.78,398.92 1570.04,399.21 1570.29,399.94 1570.55,400.16 1570.8,400.26 1571.06,400.59 1571.31,400.68 1571.57,400.81 1571.82,400.85 1572.08,401.35 1572.33,401.56 1572.59,401.49 1572.84,401.55 1573.09,401.49 1573.35,401.68 1573.6,401.6 1573.86,401.88 1574.11,401.77 1574.37,401.83 1574.62,402.06 1574.88,402.16 1575.13,402.02 1575.39,402.01 1575.64,402.21 1575.9,402.14 1576.15,402.22 1576.41,402.38 1576.66,402.03 1576.91,402.3 1577.17,402.46 1577.42,402.49 1577.68,402.48 1577.93,402.4 1578.19,402.59 1578.44,402.33 1578.7,402.53 1578.95,402.44 1579.21,402.53 1579.46,402.67 1579.72,402.58 1579.97,402.86 1580.23,402.52 1580.48,402.67 1580.74,402.28 1580.99,402.47 1581.24,402.6 1581.5,402.7 1581.75,402.62 1582.01,402.77 1582.26,402.57 1582.52,402.66 1582.77,402.55 1583.03,402.41 1583.28,402.61 1583.54,402.71 1583.79,402.71 1584.05,402.59 1584.3,403.05 1584.56,402.75 1584.81,402.95 1585.07,402.62 1585.32,402.73 1585.57,402.64 1585.83,402.65 1586.08,402.81 1586.34,402.76 1586.59,402.86 1586.85,403 1587.1,402.69 1587.36,402.63 1587.61,402.55 1587.87,402.79 1588.12,403.04 1588.38,402.92 1588.63,402.57 1588.89,402.76 1589.14,403.11 1589.4,402.84 1589.65,402.85 1589.9,402.87 1590.16,402.87 1590.41,403.1 1590.67,402.85 1590.92,402.79 1591.18,402.59 1591.43,402.67 1591.69,403.33 1591.94,403 1592.2,403.08 1592.45,403.06 1592.71,403 1592.96,402.74 1593.22,402.9 1593.47,402.74 1593.73,402.68 1593.98,402.68 1594.23,402.64 1594.49,402.7 1594.74,402.95 1595,403.06 1595.25,403 1595.51,402.85 1595.76,403.04 1596.02,403 1596.27,402.87 1596.53,403.07 1596.78,402.78 1597.04,402.74 1597.29,403 1597.55,402.92 1597.8,402.9 1598.06,402.75 1598.31,403.1 1598.56,402.86 1598.82,402.84 1599.07,403.07 1599.33,403.03 1599.58,402.81 1599.84,402.98 1600.09,403.06 1600.35,403.11 1600.6,402.8 1600.86,403.04 1601.11,403.37 1601.37,403.04 1601.62,402.76 1601.88,402.94 1602.13,402.77 1602.38,403.05 1602.64,402.96 1602.89,403.03 1603.15,402.82 1603.4,402.95 1603.66,403.05 1603.91,402.95 1604.17,402.73 1604.42,403.08 1604.68,402.96 1604.93,402.89 1605.19,402.95 1605.44,403.07 1605.7,402.85 1605.95,402.63 1606.21,403.09 1606.46,403.29 1606.71,403.12 1606.97,403.31 1607.22,402.98 1607.48,403.01 1607.73,402.77 1607.99,402.77 1608.24,403.13 1608.5,402.78 1608.75,402.92 1609.01,402.98 1609.26,402.8 1609.52,403.2 1609.77,402.99 1610.03,402.91 1610.28,402.84 1610.54,402.96 1610.79,402.82 1611.04,402.91 1611.3,403.02 1611.55,403.05 1611.81,403.06 1612.06,402.82 1612.32,402.96 1612.57,402.93 1612.83,403.34 1613.08,403.08 1613.34,403.25 1613.59,402.81 1613.85,403.15 1614.1,402.8 1614.36,402.91 1614.61,402.9 1614.87,402.99 1615.12,402.95 1615.37,403.22 1615.63,389.55 1615.88,389.48 1616.14,389.26 1616.39,389.41 1616.65,389.78 1616.9,389.13 1617.16,389.32 1617.41,389.95 1617.67,389.55 1617.92,389.46 1618.18,389.69 1618.43,389.75 1618.69,389.47 1618.94,389.55 1619.2,389.35 1619.45,389.85 1619.7,389.74 1619.96,389.98 1620.21,389.7 1620.47,389.53 1620.72,389.46 1620.98,389.62 1621.23,389.6 1621.49,389.53 1621.74,389.69 1622,389.8 1622.25,389.8 1622.51,389.82 1622.76,389.63 1623.02,389.5 1623.27,389.75 1623.53,389.9 1623.78,389.94 1624.03,389.21 1624.29,389.84 1624.54,390.03 1624.8,390.08 1625.05,389.96 1625.31,389.69 1625.56,389.47 1625.82,389.74 1626.07,390.01 1626.33,389.55 1626.58,389.81 1626.84,389.82 1627.09,390.13 1627.35,390.07 1627.6,389.96 1627.85,389.74 1628.11,389.88 1628.36,389.86 1628.62,389.9 1628.87,389.59 1629.13,389.83 1629.38,390.06 1629.64,390.3 1629.89,390.08 1630.15,390.09 1630.4,390.43 1630.66,389.97 1630.91,390.17 1631.17,390.14 1631.42,390.41 1631.68,390.06 1631.93,390.12 1632.18,389.92 1632.44,390.07 1632.69,390.32 1632.95,390.08 1633.2,390.45 1633.46,389.94 1633.71,390.31 1633.97,390.02 1634.22,390.52 1634.48,389.98 1634.73,390.26 1634.99,390.31 1635.24,389.74 1635.5,390.36 1635.75,389.97 1636.01,390.07 1636.26,390.28 1636.51,390.26 1636.77,390.22 1637.02,390.21 1637.28,390.44 1637.53,390.58 1637.79,390.18 1638.04,390.27 1638.3,390.47 1638.55,390.2 1638.81,390.31 1639.06,390.72 1639.32,390.43 1639.57,389.92 1639.83,390.48 1640.08,390.36 1640.34,390.97 1640.59,390.07 1640.84,390.78 1641.1,390.43 1641.35,390.52 1641.61,390.77 1641.86,390.57 1642.12,390.88 1642.37,390.19 1642.63,390.55 1642.88,390.73 1643.14,390.4 1643.39,390.95 1643.65,390.53 1643.9,390.6 1644.16,390.93 1644.41,390.54 1644.67,390.22 1644.92,390.23 1645.17,390.47 1645.43,390.53 1645.68,390.47 1645.94,390.62 1646.19,391.5 1646.45,394.41 1646.7,395.86 1646.96,397.3 1647.21,397.98 1647.47,398.44 1647.72,398.77 1647.98,399.09 1648.23,399.43 1648.49,400.16 1648.74,400.19 1648.99,400.13 1649.25,400.43 1649.5,400.63 1649.76,400.58 1650.01,400.79 1650.27,401 1650.52,401.05 1650.78,401.32 1651.03,401.36 1651.29,401.18 1651.54,401.36 1651.8,401.29 1652.05,401.16 1652.31,401.45 1652.56,401.28 1652.82,401.47 1653.07,401.39 1653.32,401.74 1653.58,401.93 1653.83,401.7 1654.09,401.95 1654.34,401.73 1654.6,401.92 1654.85,402.02 1655.11,402 1655.36,402.3 1655.62,402.21 1655.87,402.12 1656.13,402.24 1656.38,402.12 1656.64,402.02 1656.89,401.85 1657.15,402.16 1657.4,402.13 1657.65,402.12 1657.91,402.1 1658.16,402.17 1658.42,402.43 1658.67,402.37 1658.93,402.25 1659.18,402.25 1659.44,402.21 1659.69,402.16 1659.95,402.42 1660.2,402.54 1660.46,402.25 1660.71,402.43 1660.97,402.36 1661.22,402.35 1661.48,402.73 1661.73,402.35 1661.98,402.1 1662.24,402.29 1662.49,402.65 1662.75,402.19 1663,402.5 1663.26,402.37 1663.51,402.47 1663.77,402.66 1664.02,402.51 1664.28,402.26 1664.53,402.59 1664.79,402.15 1665.04,402.49 1665.3,402.74 1665.55,402.66 1665.81,402.8 1666.06,402.63 1666.31,402.65 1666.57,402.7 1666.82,402.54 1667.08,402.51 1667.33,402.59 1667.59,402.86 1667.84,402.31 1668.1,402.54 1668.35,402.64 1668.61,402.41 1668.86,402.86 1669.12,402.6 1669.37,402.35 1669.63,402.86 1669.88,402.84 1670.14,402.54 1670.39,402.54 1670.64,402.71 1670.9,402.43 1671.15,402.85 1671.41,402.53 1671.66,402.98 1671.92,402.76 1672.17,402.68 1672.43,402.57 1672.68,402.95 1672.94,402.73 1673.19,402.72 1673.45,402.79 1673.7,402.46 1673.96,402.66 1674.21,402.51 1674.46,402.74 1674.72,402.63 1674.97,402.93 1675.23,402.78 1675.48,402.59 1675.74,402.62 1675.99,402.54 1676.25,402.68 1676.5,402.7 1676.76,403.15 1677.01,402.98 1677.27,402.86 1677.52,402.79 1677.78,402.81 1678.03,402.65 1678.29,402.96 1678.54,402.84 1678.79,402.82 1679.05,402.77 1679.3,402.65 1679.56,402.57 1679.81,402.96 1680.07,402.85 1680.32,403.18 1680.58,402.62 1680.83,403.08 1681.09,402.78 1681.34,402.99 1681.6,402.79 1681.85,402.92 1682.11,402.65 1682.36,402.7 1682.62,402.94 1682.87,402.66 1683.12,402.88 1683.38,402.96 1683.63,402.62 1683.89,403.12 1684.14,402.99 1684.4,402.84 1684.65,402.84 1684.91,402.94 1685.16,402.78 1685.42,402.82 1685.67,402.8 1685.93,402.68 1686.18,402.72 1686.44,402.75 1686.69,402.74 1686.95,403.05 1687.2,403.08 1687.45,402.68 1687.71,403.04 1687.96,402.92 1688.22,402.78 1688.47,402.73 1688.73,402.74 1688.98,402.98 1689.24,402.78 1689.49,403.03 1689.75,402.91 1690,402.96 1690.26,403.1 1690.51,402.77 1690.77,403.04 1691.02,402.76 1691.28,403.02 1691.53,402.85 1691.78,402.92 1692.04,402.95 1692.29,402.89 1692.55,402.77 1692.8,381.23 1693.06,381.43 1693.31,381.23 1693.57,381.45 1693.82,381.04 1694.08,381.34 1694.33,381.03 1694.59,381.12 1694.84,380.93 1695.1,381.86 1695.35,381.43 1695.61,381.45 1695.86,380.87 1696.11,381.67 1696.37,381.04 1696.62,380.98 1696.88,381.14 1697.13,381.2 1697.39,380.96 1697.64,381.31 1697.9,381.29 1698.15,381.5 1698.41,381.15 1698.66,381.33 1698.92,381.75 1699.17,381.19 1699.43,381.58 1699.68,381.3 1699.93,381.48 1700.19,381.55 1700.44,381.24 1700.7,380.92 1700.95,381.12 1701.21,381.68 1701.46,381.31 1701.72,381.28 1701.97,381.66 1702.23,381.34 1702.48,381.2 1702.74,381.25 1702.99,381.38 1703.25,381.83 1703.5,381.27 1703.76,381.04 1704.01,381.55 1704.26,381.8 1704.52,381.67 1704.77,381.97 1705.03,381.12 1705.28,381.87 1705.54,381.48 1705.79,381.35 1706.05,380.92 1706.3,381.21 1706.56,381.23 1706.81,381.7 1707.07,381.22 1707.32,381.74 1707.58,381.35 1707.83,381.69 1708.09,382.13 1708.34,381.25 1708.59,381.64 1708.85,381.46 1709.1,381.76 1709.36,381.71 1709.61,382.14 1709.87,381.98 1710.12,381.77 1710.38,381.52 1710.63,381.13 1710.89,381.85 1711.14,381.68 1711.4,381.33 1711.65,380.96 1711.91,381.28 1712.16,381.65 1712.42,380.9 1712.67,382.06 1712.92,381.44 1713.18,381.35 1713.43,381.61 1713.69,381.9 1713.94,382.05 1714.2,381.89 1714.45,381.74 1714.71,381.5 1714.96,381.22 1715.22,381.52 1715.47,381.71 1715.73,381.62 1715.98,381.51 1716.24,381.67 1716.49,381.3 1716.75,381.65 1717,381.6 1717.25,381.63 1717.51,381.79 1717.76,382.3 1718.02,381.65 1718.27,381.52 1718.53,381.87 1718.78,381.66 1719.04,381.49 1719.29,381.58 1719.55,381.39 1719.8,381.46 1720.06,381.95 1720.31,382.2 1720.57,382.18 1720.82,381.66 1721.08,381.58 1721.33,381.94 1721.58,381.06 1721.84,382.1 1722.09,382.13 1722.35,381.82 1722.6,381.79 1722.86,382.04 1723.11,382.12 1723.37,388.31 1723.62,391.41 1723.88,393.24 1724.13,394.7 1724.39,395.63 1724.64,396.22 1724.9,397.24 1725.15,397.87 1725.4,398.19 1725.66,398.43 1725.91,398.62 1726.17,398.93 1726.42,399.23 1726.68,399.41 1726.93,399.58 1727.19,399.78 1727.44,399.61 1727.7,400.08 1727.95,400.32 1728.21,400.1 1728.46,400.22 1728.72,400.52 1728.97,400.42 1729.23,400.67 1729.48,400.74 1729.73,400.75 1729.99,400.93 1730.24,401.09 1730.5,401.23 1730.75,400.67 1731.01,400.81 1731.26,401.09 1731.52,401.19 1731.77,401.37 1732.03,401.07 1732.28,401.27 1732.54,400.9 1732.79,401.56 1733.05,401.51 1733.3,401.43 1733.56,401.44 1733.81,401.53 1734.06,401.49 1734.32,401.67 1734.57,401.56 1734.83,401.72 1735.08,401.43 1735.34,401.6 1735.59,401.84 1735.85,401.65 1736.1,401.91 1736.36,401.59 1736.61,401.86 1736.87,401.64 1737.12,402.1 1737.38,401.68 1737.63,401.65 1737.89,402.15 1738.14,402.13 1738.39,401.83 1738.65,402.18 1738.9,401.72 1739.16,401.86 1739.41,401.88 1739.67,401.71 1739.92,402.16 1740.18,401.99 1740.43,402.09 1740.69,401.93 1740.94,402.19 1741.2,402.07 1741.45,402.19 1741.71,402.1 1741.96,401.97 1742.22,402.21 1742.47,402.1 1742.72,402.27 1742.98,402.26 1743.23,402.2 1743.49,402.37 1743.74,402.1 1744,402.28 1744.25,402.31 1744.51,402.05 1744.76,402.51 1745.02,402.32 1745.27,402.56 1745.53,402.07 1745.78,402.52 1746.04,402.35 1746.29,402.3 1746.55,402.28 1746.8,402.41 1747.05,402.55 1747.31,402.56 1747.56,402.24 1747.82,402.36 1748.07,402.33 1748.33,402.39 1748.58,402.37 1748.84,402.41 1749.09,402.21 1749.35,402.14 1749.6,402.42 1749.86,402.58 1750.11,402.61 1750.37,402.39 1750.62,402.64 1750.88,402.61 1751.13,402.61 1751.38,402.36 1751.64,402.17 1751.89,402.31 1752.15,402.37 1752.4,402.32 1752.66,402.25 1752.91,402.47 1753.17,402.53 1753.42,402.48 1753.68,402.7 1753.93,402.57 1754.19,402.53 1754.44,402.78 1754.7,402.67 1754.95,402.23 1755.2,402.27 1755.46,402.51 1755.71,402.43 1755.97,402.5 1756.22,402.73 1756.48,402.53 1756.73,402.34 1756.99,402.74 1757.24,402.5 1757.5,402.58 1757.75,402.71 1758.01,402.68 1758.26,402.51 1758.52,402.32 1758.77,402.55 1759.03,402.62 1759.28,402.61 1759.53,402.64 1759.79,402.53 1760.04,402.54 1760.3,402.74 1760.55,402.81 1760.81,402.61 1761.06,402.62 1761.32,402.54 1761.57,402.44 1761.83,402.64 1762.08,402.6 1762.34,402.77 1762.59,402.64 1762.85,402.85 1763.1,402.76 1763.36,402.47 1763.61,402.71 1763.86,402.39 1764.12,402.53 1764.37,402.69 1764.63,402.56 1764.88,402.5 1765.14,402.7 1765.39,402.69 1765.65,402.75 1765.9,402.52 1766.16,402.81 1766.41,402.82 1766.67,402.92 1766.92,402.91 1767.18,402.81 1767.43,402.78 1767.69,402.58 1767.94,402.57 1768.19,402.85 1768.45,402.91 1768.7,402.92 1768.96,367.94 1769.21,367.75 1769.47,368.41 1769.72,368.67 1769.98,368.77 1770.23,369.02 1770.49,368.51 1770.74,368.98 1771,369.23 1771.25,368.48 1771.51,369.09 1771.76,368.68 1772.02,368.96 1772.27,368.42 1772.52,368.78 1772.78,369.37 1773.03,368.83 1773.29,369.19 1773.54,369.03 1773.8,369.48 1774.05,369.06 1774.31,368.75 1774.56,369.36 1774.82,369.21 1775.07,369.15 1775.33,369.22 1775.58,368.98 1775.84,368.45 1776.09,368.85 1776.35,369.08 1776.6,369.2 1776.85,369.43 1777.11,369.46 1777.36,369.35 1777.62,369.13 1777.87,369.62 1778.13,369.3 1778.38,369.35 1778.64,368.96 1778.89,369.71 1779.15,369.59 1779.4,369.24 1779.66,369.62 1779.91,369.5 1780.17,369.4 1780.42,369.76 1780.67,369.2 1780.93,369 1781.18,369.57 1781.44,368.98 1781.69,369.55 1781.95,369.36 1782.2,369.58 1782.46,369.72 1782.71,369.21 1782.97,369.59 1783.22,370.26 1783.48,369.35 1783.73,369.72 1783.99,369.03 1784.24,369.11 1784.5,369.31 1784.75,370.04 1785,369.32 1785.26,370.06 1785.51,369.93 1785.77,369.28 1786.02,369.83 1786.28,369.64 1786.53,369.73 1786.79,369.53 1787.04,370.09 1787.3,369.93 1787.55,369.4 1787.81,369.79 1788.06,369.25 1788.32,370.15 1788.57,369.7 1788.83,370.34 1789.08,370.35 1789.33,369.19 1789.59,369.3 1789.84,369.73 1790.1,369.17 1790.35,370.38 1790.61,369.54 1790.86,369.85 1791.12,370.17 1791.37,370.35 1791.63,369.77 1791.88,369.79 1792.14,370.39 1792.39,370.06 1792.65,370.12 1792.9,369.51 1793.16,369.81 1793.41,369.29 1793.66,369.9 1793.92,370.1 1794.17,370.12 1794.43,370.12 1794.68,370.66 1794.94,370.3 1795.19,369.94 1795.45,370.39 1795.7,370.56 1795.96,369.83 1796.21,369.78 1796.47,370.14 1796.72,370.73 1796.98,370.75 1797.23,369.75 1797.49,370.27 1797.74,370.81 1797.99,370.35 1798.25,369.91 1798.5,370.55 1798.76,370.1 1799.01,370.31 1799.27,370.45 1799.52,371.03 1799.78,370.65 1800.03,370.27 1800.29,380.01 1800.54,385.4 1800.8,388.11 1801.05,390.55 1801.31,391.95 1801.56,393.44 1801.82,394.63 1802.07,395.05 1802.32,395.9 1802.58,396.44 1802.83,396.98 1803.09,397.13 1803.34,397.52 1803.6,397.59 1803.85,398.22 1804.11,398.09 1804.36,398.28 1804.62,398.77 1804.87,398.85 1805.13,399.23 1805.38,399.34 1805.64,399.3 1805.89,399.28 1806.14,399.4 1806.4,399.84 1806.65,399.92 1806.91,399.88 1807.16,399.68 1807.42,400.03 1807.67,400.15 1807.93,400.25 1808.18,400.31 1808.44,400.42 1808.69,400.22 1808.95,400.42 1809.2,400.52 1809.46,400.38 1809.71,400.79 1809.97,401.01 1810.22,400.54 1810.47,400.88 1810.73,400.81 1810.98,400.53 1811.24,400.7 1811.49,400.73 1811.75,401.12 1812,401.01 1812.26,400.87 1812.51,401.16 1812.77,401.07 1813.02,401.14 1813.28,401.08 1813.53,401.12 1813.79,401.21 1814.04,401.07 1814.3,401.31 1814.55,401.67 1814.8,401.21 1815.06,401.57 1815.31,401.19 1815.57,401.57 1815.82,401.11 1816.08,401.17 1816.33,401.3 1816.59,401.46 1816.84,401.46 1817.1,401.46 1817.35,401.41 1817.61,401.44 1817.86,401.3 1818.12,401.4 1818.37,401.61 1818.63,401.81 1818.88,401.7 1819.13,401.62 1819.39,401.47 1819.64,401.76 1819.9,401.72 1820.15,401.9 1820.41,401.66 1820.66,401.63 1820.92,401.44 1821.17,401.64 1821.43,401.78 1821.68,401.82 1821.94,402.08 1822.19,401.67 1822.45,401.77 1822.7,401.84 1822.96,401.78 1823.21,401.42 1823.46,401.83 1823.72,402.14 1823.97,401.65 1824.23,401.88 1824.48,401.86 1824.74,401.82 1824.99,401.9 1825.25,401.83 1825.5,401.99 1825.76,401.94 1826.01,401.98 1826.27,402.15 1826.52,402.09 1826.78,402.08 1827.03,401.91 1827.28,402.03 1827.54,402.03 1827.79,401.89 1828.05,401.95 1828.3,402.27 1828.56,402.37 1828.81,402.03 1829.07,402.27 1829.32,402.31 1829.58,402.04 1829.83,401.95 1830.09,402.47 1830.34,402.08 1830.6,402.17 1830.85,402.19 1831.11,402.01 1831.36,402.25 1831.61,402.04 1831.87,402.14 1832.12,402.11 1832.38,401.98 1832.63,402.03 1832.89,402.01 1833.14,402.2 1833.4,401.96 1833.65,402.22 1833.91,402.32 1834.16,402.13 1834.42,402.23 1834.67,401.97 1834.93,402.21 1835.18,402.54 1835.44,402.11 1835.69,402.27 1835.94,402.07 1836.2,402.22 1836.45,402.09 1836.71,402.27 1836.96,402.48 1837.22,402.26 1837.47,402.32 1837.73,402.47 1837.98,402.37 1838.24,402.65 1838.49,402.23 1838.75,402.3 1839,402.29 1839.26,402.59 1839.51,402.67 1839.77,402.34 1840.02,402.42 1840.27,402.57 1840.53,402.26 1840.78,402.33 1841.04,402.38 1841.29,402.59 1841.55,402.35 1841.8,402.49 1842.06,402.4 1842.31,402.52 1842.57,402.33 1842.82,402.56 1843.08,402.55 1843.33,402.37 1843.59,402.68 1843.84,402.5 1844.1,402.67 1844.35,402.44 1844.6,402.57 1844.86,402.23 1845.11,402.54 1845.37,402.53 1845.62,402.62 1845.88,350.69 1846.13,351.29 1846.39,351.96 1846.64,351.94 1846.9,351.19 1847.15,351.74 1847.41,351.68 1847.66,351.63 1847.92,350.93 1848.17,351.11 1848.43,351.93 1848.68,352.39 1848.93,352.83 1849.19,352.42 1849.44,352.38 1849.7,352.02 1849.95,352.28 1850.21,351.87 1850.46,351.32 1850.72,352.83 1850.97,352.56 1851.23,352.1 1851.48,352.02 1851.74,352.96 1851.99,352.65 1852.25,351.45 1852.5,352 1852.76,352.96 1853.01,352.77 1853.26,352.82 1853.52,352.99 1853.77,352.62 1854.03,352.42 1854.28,353.01 1854.54,352.63 1854.79,353.04 1855.05,353.27 1855.3,352.6 1855.56,353.39 1855.81,353.04 1856.07,352.19 1856.32,352.55 1856.58,352.93 1856.83,352.46 1857.08,353.8 1857.34,353.54 1857.59,352.65 1857.85,353.36 1858.1,353.03 1858.36,353.17 1858.61,353.33 1858.87,353.44 1859.12,353.3 1859.38,352.93 1859.63,353.29 1859.89,352.94 1860.14,354.04 1860.4,353.99 1860.65,354.28 1860.91,353.54 1861.16,353.63 1861.41,353.62 1861.67,354.5 1861.92,353.74 1862.18,354.02 1862.43,354.44 1862.69,353.88 1862.94,354.15 1863.2,355.05 1863.45,353.85 1863.71,354.73 1863.96,354.58 1864.22,355.24 1864.47,354.91 1864.73,354.66 1864.98,355.31 1865.24,354.54 1865.49,353.97 1865.74,354.82 1866,354.88 1866.25,354.99 1866.51,354.08 1866.76,354.34 1867.02,354.78 1867.27,355.06 1867.53,354.73 1867.78,354.97 1868.04,354.99 1868.29,354.46 1868.55,355.35 1868.8,355.95 1869.06,354.89 1869.31,355.19 1869.57,355.11 1869.82,355.47 1870.07,355.62 1870.33,355.07 1870.58,354.88 1870.84,355.31 1871.09,355.63 1871.35,355.02 1871.6,356.47 1871.86,355.43 1872.11,355.66 1872.37,355.3 1872.62,355.34 1872.88,355.69 1873.13,355.8 1873.39,354.7 1873.64,355.65 1873.9,356.19 1874.15,356.4 1874.4,355.57 1874.66,356.39 1874.91,356.45 1875.17,356.63 1875.42,355.65 1875.68,355.57 1875.93,356.17 1876.19,356.23 1876.44,369.21 1876.7,377.41 1876.95,382.45 1877.21,384.54 1877.46,387.55 1877.72,389.67 1877.97,390.94 1878.22,391.57 1878.48,392.75 1878.73,393.27 1878.99,393.78 1879.24,394.73 1879.5,395.46 1879.75,395.71 1880.01,395.84 1880.26,396.32 1880.52,396.34 1880.77,396.92 1881.03,397.14 1881.28,397.27 1881.54,397.48 1881.79,397.53 1882.05,397.79 1882.3,397.98 1882.55,398.02 1882.81,398.51 1883.06,398.65 1883.32,398.35 1883.57,398.67 1883.83,398.67 1884.08,399.05 1884.34,398.64 1884.59,399.22 1884.85,399.09 1885.1,399.23 1885.36,399.45 1885.61,399.47 1885.87,399.22 1886.12,399.57 1886.38,399.8 1886.63,399.91 1886.88,399.76 1887.14,399.84 1887.39,399.83 1887.65,399.92 1887.9,400.08 1888.16,400.04 1888.41,400.09 1888.67,399.85 1888.92,400.19 1889.18,400.48 1889.43,400.26 1889.69,400.3 1889.94,400.34 1890.2,400.36 1890.45,400.24 1890.71,400.52 1890.96,400.52 1891.21,400.7 1891.47,400.72 1891.72,400.66 1891.98,400.7 1892.23,400.44 1892.49,400.53 1892.74,401.18 1893,400.68 1893.25,400.99 1893.51,400.9 1893.76,400.96 1894.02,400.97 1894.27,400.79 1894.53,401.01 1894.78,400.83 1895.04,400.96 1895.29,400.7 1895.54,400.94 1895.8,400.79 1896.05,401.28 1896.31,401.12 1896.56,401.45 1896.82,401.08 1897.07,401.18 1897.33,401.59 1897.58,401.31 1897.84,400.95 1898.09,401.23 1898.35,401.1 1898.6,401.05 1898.86,401.61 1899.11,401.38 1899.37,401.42 1899.62,401.32 1899.87,401.33 1900.13,401.54 1900.38,401.4 1900.64,401.61 1900.89,401.29 1901.15,401.42 1901.4,401.66 1901.66,401.38 1901.91,401.48 1902.17,401.22 1902.42,401.36 1902.68,401.49 1902.93,401.67 1903.19,401.44 1903.44,401.62 1903.69,401.78 1903.95,401.37 1904.2,401.72 1904.46,401.44 1904.71,401.47 1904.97,401.78 1905.22,401.75 1905.48,401.44 1905.73,401.58 1905.99,401.36 1906.24,401.55 1906.5,401.8 1906.75,401.63 1907.01,401.51 1907.26,401.67 1907.52,401.71 1907.77,401.5 1908.02,401.29 1908.28,401.56 1908.53,401.88 1908.79,401.78 1909.04,401.85 1909.3,401.82 1909.55,402.16 1909.81,401.74 1910.06,401.89 1910.32,401.71 1910.57,401.73 1910.83,401.73 1911.08,401.87 1911.34,401.92 1911.59,401.91 1911.85,401.74 1912.1,402 1912.35,401.91 1912.61,402.08 1912.86,401.95 1913.12,401.78 1913.37,402.13 1913.63,401.8 1913.88,402.13 1914.14,401.83 1914.39,401.98 1914.65,401.69 1914.9,401.93 1915.16,401.93 1915.41,402.11 1915.67,402.18 1915.92,401.79 1916.18,402.34 1916.43,402.28 1916.68,402.28 1916.94,402.12 1917.19,402.12 1917.45,402.16 1917.7,402.02 1917.96,402.29 1918.21,402.17 1918.47,402.16 1918.72,402.28 1918.98,402.27 1919.23,402.21 1919.49,402.33 1919.74,402.24 1920,402.34 1920.25,402.13 1920.51,402.16 1920.76,402.05 1921.01,402.28 1921.27,402.37 1921.52,402.2 1921.78,402.2 1922.03,402.39 1922.29,402.65 1922.54,402.47 1922.8,402.41 1923.05,402.41 1923.31,402.45 1923.56,402.43 1923.82,402.74 1924.07,402.36 1924.33,402.42 1924.58,402.32 1924.84,402.48 1925.09,402.67 1925.34,402.6 1925.6,402.6 1925.85,402.68 1926.11,402.6 1926.36,402.31 1926.62,402.77 1926.87,402.42 1927.13,402.41 1927.38,402.19 1927.64,402.81 1927.89,402.37 1928.15,402.23 1928.4,402.58 1928.66,402.71 1928.91,402.72 1929.16,402.84" fill="none" stroke="#000000" stroke-width="1.8" stroke-linejoin="round" />
<path d="M1432.5 403.09h0M1432.75 403.41h0M1433.01 403.35h0M1433.26 403.42h0M1433.52 403.28h0M1433.77 403.47h0M1434.03 403.24h0M1434.28 403.53h0M1434.54 403.24h0M1434.79 403.35h0M1435.05 403.19h0M1435.3 403.24h0M1435.56 403.25h0M1435.81 403.24h0M1436.07 403.37h0M1436.32 403.37h0M1436.58 403.37h0M1436.83 403.33h0M1437.08 403.3h0M1437.34 403.57h0M1437.59 403.38h0M1437.85 403.37h0M1438.1 403.19h0M1438.36 403.31h0M1438.61 403.59h0M1438.87 403.26h0M1439.12 403.19h0M1439.38 403.29h0M1439.63 403.17h0M1439.89 403.36h0M1440.14 403.57h0M1440.4 403.46h0M1440.65 403.03h0M1440.91 403.42h0M1441.16 403.5h0M1441.41 403.27h0M1441.67 403.26h0M1441.92 403.15h0M1442.18 403.26h0M1442.43 403.45h0M1442.69 403.24h0M1442.94 403.22h0M1443.2 403.5h0M1443.45 403.41h0M1443.71 403.47h0M1443.96 403.42h0M1444.22 403.16h0M1444.47 403.33h0M1444.73 403.22h0M1444.98 403.18h0M1445.23 403.22h0M1445.49 403.58h0M1445.74 403.23h0M1446 403.35h0M1446.25 403.03h0M1446.51 403.06h0M1446.76 403.64h0M1447.02 403.38h0M1447.27 403.27h0M1447.53 403.25h0M1447.78 403.57h0M1448.04 403.32h0M1448.29 403.51h0M1448.55 403.41h0M1448.8 403.1h0M1449.06 403.41h0M1449.31 403.23h0M1449.56 403.38h0M1449.82 403.22h0M1450.07 403.41h0M1450.33 403.57h0M1450.58 403.29h0M1450.84 403.53h0M1451.09 403.27h0M1451.35 403.42h0M1451.6 403.21h0M1451.86 403.42h0M1452.11 403.51h0M1452.37 403.27h0M1452.62 403.51h0M1452.88 403.35h0M1453.13 403.33h0M1453.39 403.25h0M1453.64 403.12h0M1453.89 403.33h0M1454.15 403.4h0M1454.4 403.4h0M1454.66 403.44h0M1454.91 403.3h0M1455.17 403.51h0M1455.42 403.55h0M1455.68 403.36h0M1455.93 403.36h0M1456.19 403.54h0M1456.44 403.13h0M1456.7 403.45h0M1456.95 403.59h0M1457.21 403.4h0M1457.46 403.4h0M1457.72 403.37h0M1457.97 403.11h0M1458.22 403.57h0M1458.48 403.18h0M1458.73 403.48h0M1458.99 403.54h0M1459.24 403.32h0M1459.5 403.12h0M1459.75 403.63h0M1460.01 403.39h0M1460.26 403.36h0M1460.52 403.28h0M1460.77 403.44h0M1461.03 403.29h0M1461.28 403.69h0M1461.54 403.24h0M1461.79 403.25h0M1462.05 403.25h0M1462.3 398.41h0M1462.55 398.28h0M1462.81 398.06h0M1463.06 398.02h0M1463.32 398.24h0M1463.57 398.42h0M1463.83 398.4h0M1464.08 398.42h0M1464.34 398.23h0M1464.59 398.3h0M1464.85 397.99h0M1465.1 398.31h0M1465.36 398.32h0M1465.61 398.16h0M1465.87 397.97h0M1466.12 398.32h0M1466.38 398.11h0M1466.63 398.18h0M1466.88 398.09h0M1467.14 398.43h0M1467.39 398.1h0M1467.65 398.46h0M1467.9 398.38h0M1468.16 398.26h0M1468.41 398.36h0M1468.67 398.33h0M1468.92 398.24h0M1469.18 398.31h0M1469.43 398.35h0M1469.69 398.48h0M1469.94 398.3h0M1470.2 398.79h0M1470.45 398.53h0M1470.7 398.31h0M1470.96 398.29h0M1471.21 398.6h0M1471.47 398.5h0M1471.72 398.24h0M1471.98 398.39h0M1472.23 398.39h0M1472.49 398.48h0M1472.74 398.56h0M1473 398.41h0M1473.25 398.1h0M1473.51 398.34h0M1473.76 398.27h0M1474.02 398.21h0M1474.27 398.24h0M1474.53 398.81h0M1474.78 398.53h0M1475.03 398.56h0M1475.29 398.41h0M1475.54 398.44h0M1475.8 398.6h0M1476.05 398.62h0M1476.31 398.12h0M1476.56 398.55h0M1476.82 398.43h0M1477.07 398.2h0M1477.33 398.18h0M1477.58 398.61h0M1477.84 398.17h0M1478.09 398.49h0M1478.35 398.24h0M1478.6 398.68h0M1478.86 398.45h0M1479.11 398.43h0M1479.36 398.6h0M1479.62 398.2h0M1479.87 398.86h0M1480.13 398.38h0M1480.38 398.14h0M1480.64 398.41h0M1480.89 398.23h0M1481.15 398.59h0M1481.4 398.5h0M1481.66 398.26h0M1481.91 398.52h0M1482.17 398.19h0M1482.42 398.53h0M1482.68 398.48h0M1482.93 398.24h0M1483.19 398.38h0M1483.44 398.27h0M1483.69 398.47h0M1483.95 398.43h0M1484.2 398.37h0M1484.46 398.39h0M1484.71 398.62h0M1484.97 398.3h0M1485.22 398.53h0M1485.48 398.5h0M1485.73 398.26h0M1485.99 398.5h0M1486.24 398.69h0M1486.5 398.54h0M1486.75 398.29h0M1487.01 398.84h0M1487.26 398.71h0M1487.52 398.88h0M1487.77 398.65h0M1488.02 398.43h0M1488.28 398.28h0M1488.53 398.77h0M1488.79 398.58h0M1489.04 398.4h0M1489.3 398.31h0M1489.55 398.54h0M1489.81 398.53h0M1490.06 398.63h0M1490.32 398.93h0M1490.57 398.27h0M1490.83 398.37h0M1491.08 398.61h0M1491.34 398.5h0M1491.59 398.8h0M1491.85 398.66h0M1492.1 398.58h0M1492.35 398.51h0M1492.61 398.61h0M1492.86 398.69h0M1493.12 398.53h0M1493.37 398.81h0M1493.63 398.58h0M1493.88 398.43h0M1494.14 398.62h0M1494.39 398.55h0M1494.65 398.63h0M1494.9 398.52h0M1495.16 398.94h0M1495.41 399.87h0M1495.67 400.2h0M1495.92 400.69h0M1496.17 400.76h0M1496.43 400.99h0M1496.68 401.32h0M1496.94 401.49h0M1497.19 401.89h0M1497.45 401.66h0M1497.7 402.02h0M1497.96 402.24h0M1498.21 401.91h0M1498.47 402.07h0M1498.72 402.17h0M1498.98 402.05h0M1499.23 402.13h0M1499.49 402.02h0M1499.74 402.34h0M1500 402.21h0M1500.25 402.39h0M1500.5 402.37h0M1500.76 402.51h0M1501.01 402.5h0M1501.27 402.62h0M1501.52 402.21h0M1501.78 402.17h0M1502.03 402.29h0M1502.29 402.74h0M1502.54 402.29h0M1502.8 402.52h0M1503.05 402.73h0M1503.31 402.64h0M1503.56 402.44h0M1503.82 402.74h0M1504.07 402.31h0M1504.33 402.74h0M1504.58 402.36h0M1504.83 402.73h0M1505.09 402.59h0M1505.34 402.89h0M1505.6 402.69h0M1505.85 403.06h0M1506.11 402.59h0M1506.36 402.67h0M1506.62 402.66h0M1506.87 402.72h0M1507.13 402.85h0M1507.38 402.61h0M1507.64 402.84h0M1507.89 402.93h0M1508.15 402.73h0M1508.4 402.7h0M1508.66 402.86h0M1508.91 402.83h0M1509.16 402.96h0M1509.42 402.77h0M1509.67 402.88h0M1509.93 402.77h0M1510.18 402.86h0M1510.44 402.78h0M1510.69 403.1h0M1510.95 402.78h0M1511.2 403.01h0M1511.46 402.79h0M1511.71 402.66h0M1511.97 402.8h0M1512.22 402.75h0M1512.48 402.83h0M1512.73 403.03h0M1512.99 403.08h0M1513.24 402.75h0M1513.49 403.31h0M1513.75 403.05h0M1514 403.12h0M1514.26 403.03h0M1514.51 402.99h0M1514.77 403.05h0M1515.02 402.95h0M1515.28 403.18h0M1515.53 402.8h0M1515.79 403h0M1516.04 403.09h0M1516.3 403.17h0M1516.55 402.83h0M1516.81 402.86h0M1517.06 402.75h0M1517.32 403.24h0M1517.57 403.04h0M1517.82 402.93h0M1518.08 402.92h0M1518.33 402.91h0M1518.59 402.83h0M1518.84 402.85h0M1519.1 402.89h0M1519.35 402.9h0M1519.61 403.02h0M1519.86 403.04h0M1520.12 403.34h0M1520.37 403.35h0M1520.63 403.06h0M1520.88 402.98h0M1521.14 403h0M1521.39 402.67h0M1521.64 403.32h0M1521.9 402.96h0M1522.15 403.14h0M1522.41 402.94h0M1522.66 403.22h0M1522.92 403.22h0M1523.17 402.84h0M1523.43 403.08h0M1523.68 403.07h0M1523.94 403.12h0M1524.19 403.27h0M1524.45 403.26h0M1524.7 402.86h0M1524.96 403.11h0M1525.21 403.15h0M1525.47 402.88h0M1525.72 403.18h0M1525.97 402.84h0M1526.23 402.98h0M1526.48 403.08h0M1526.74 402.9h0M1526.99 402.87h0M1527.25 402.93h0M1527.5 403.12h0M1527.76 403.01h0M1528.01 403.31h0M1528.27 402.97h0M1528.52 402.9h0M1528.78 403.01h0M1529.03 403.2h0M1529.29 403.16h0M1529.54 403.05h0M1529.8 403.17h0M1530.05 403.42h0M1530.3 403.19h0M1530.56 403.06h0M1530.81 403.05h0M1531.07 403.26h0M1531.32 402.94h0M1531.58 403.22h0M1531.83 403.13h0M1532.09 402.99h0M1532.34 403.13h0M1532.6 403.33h0M1532.85 403.03h0M1533.11 403.21h0M1533.36 402.96h0M1533.62 403.01h0M1533.87 402.99h0M1534.13 403.09h0M1534.38 403.13h0M1534.63 403.28h0M1534.89 403.37h0M1535.14 403.2h0M1535.4 403.24h0M1535.65 402.89h0M1535.91 402.95h0M1536.16 403.24h0M1536.42 402.97h0M1536.67 403.17h0M1536.93 403.04h0M1537.18 402.76h0M1537.44 402.72h0M1537.69 403.14h0M1537.95 402.99h0M1538.2 403.06h0M1538.46 403.28h0M1538.71 403.01h0M1538.96 395.52h0M1539.22 395.14h0M1539.47 395.01h0M1539.73 395.32h0M1539.98 394.91h0M1540.24 395.09h0M1540.49 395.35h0M1540.75 395.21h0M1541 395.2h0M1541.26 395h0M1541.51 395.07h0M1541.77 394.95h0M1542.02 395.15h0M1542.28 395.06h0M1542.53 395.51h0M1542.79 395.07h0M1543.04 394.9h0M1543.29 395.04h0M1543.55 395.1h0M1543.8 395.47h0M1544.06 395.11h0M1544.31 395.02h0M1544.57 395.6h0M1544.82 395.32h0M1545.08 395.23h0M1545.33 395.1h0M1545.59 394.8h0M1545.84 395.3h0M1546.1 395.62h0M1546.35 395.35h0M1546.61 395.64h0M1546.86 394.95h0M1547.12 395.22h0M1547.37 395.37h0M1547.62 395.03h0M1547.88 395.47h0M1548.13 394.78h0M1548.39 395.54h0M1548.64 395.1h0M1548.9 395.61h0M1549.15 395.13h0M1549.41 395.11h0M1549.66 395.32h0M1549.92 395.65h0M1550.17 395.18h0M1550.43 395.09h0M1550.68 394.99h0M1550.94 395.35h0M1551.19 395.37h0M1551.44 395.19h0M1551.7 395.05h0M1551.95 395.17h0M1552.21 395.27h0M1552.46 395.47h0M1552.72 395.37h0M1552.97 395.5h0M1553.23 395.18h0M1553.48 395.25h0M1553.74 395.01h0M1553.99 395.32h0M1554.25 395.37h0M1554.5 395.3h0M1554.76 395.23h0M1555.01 395.5h0M1555.27 395.15h0M1555.52 395.54h0M1555.77 395.41h0M1556.03 395.64h0M1556.28 395.39h0M1556.54 395.46h0M1556.79 395.01h0M1557.05 395.49h0M1557.3 395.5h0M1557.56 395.52h0M1557.81 395.76h0M1558.07 395.37h0M1558.32 395.49h0M1558.58 395.32h0M1558.83 395.58h0M1559.09 395.1h0M1559.34 395.31h0M1559.6 395.58h0M1559.85 395.59h0M1560.1 395.65h0M1560.36 395.21h0M1560.61 395.05h0M1560.87 395.89h0M1561.12 395.1h0M1561.38 395.51h0M1561.63 395.84h0M1561.89 395.3h0M1562.14 395.27h0M1562.4 395.87h0M1562.65 395.63h0M1562.91 395.43h0M1563.16 395.73h0M1563.42 395.19h0M1563.67 395.63h0M1563.93 395.58h0M1564.18 395.25h0M1564.43 395.67h0M1564.69 395.36h0M1564.94 395.49h0M1565.2 395.36h0M1565.45 395.65h0M1565.71 395.54h0M1565.96 395.34h0M1566.22 395.78h0M1566.47 395.68h0M1566.73 395.5h0M1566.98 395.39h0M1567.24 395.65h0M1567.49 395.46h0M1567.75 395.44h0M1568 395.64h0M1568.26 395.65h0M1568.51 395.73h0M1568.76 395.57h0M1569.02 395.76h0M1569.27 396.56h0M1569.53 397.64h0M1569.78 398.92h0M1570.04 399.21h0M1570.29 399.94h0M1570.55 400.16h0M1570.8 400.26h0M1571.06 400.59h0M1571.31 400.68h0M1571.57 400.81h0M1571.82 400.85h0M1572.08 401.35h0M1572.33 401.56h0M1572.59 401.49h0M1572.84 401.55h0M1573.09 401.49h0M1573.35 401.68h0M1573.6 401.6h0M1573.86 401.88h0M1574.11 401.77h0M1574.37 401.83h0M1574.62 402.06h0M1574.88 402.16h0M1575.13 402.02h0M1575.39 402.01h0M1575.64 402.21h0M1575.9 402.14h0M1576.15 402.22h0M1576.41 402.38h0M1576.66 402.03h0M1576.91 402.3h0M1577.17 402.46h0M1577.42 402.49h0M1577.68 402.48h0M1577.93 402.4h0M1578.19 402.59h0M1578.44 402.33h0M1578.7 402.53h0M1578.95 402.44h0M1579.21 402.53h0M1579.46 402.67h0M1579.72 402.58h0M1579.97 402.86h0M1580.23 402.52h0M1580.48 402.67h0M1580.74 402.28h0M1580.99 402.47h0M1581.24 402.6h0M1581.5 402.7h0M1581.75 402.62h0M1582.01 402.77h0M1582.26 402.57h0M1582.52 402.66h0M1582.77 402.55h0M1583.03 402.41h0M1583.28 402.61h0M1583.54 402.71h0M1583.79 402.71h0M1584.05 402.59h0M1584.3 403.05h0M1584.56 402.75h0M1584.81 402.95h0M1585.07 402.62h0M1585.32 402.73h0M1585.57 402.64h0M1585.83 402.65h0M1586.08 402.81h0M1586.34 402.76h0M1586.59 402.86h0M1586.85 403h0M1587.1 402.69h0M1587.36 402.63h0M1587.61 402.55h0M1587.87 402.79h0M1588.12 403.04h0M1588.38 402.92h0M1588.63 402.57h0M1588.89 402.76h0M1589.14 403.11h0M1589.4 402.84h0M1589.65 402.85h0M1589.9 402.87h0M1590.16 402.87h0M1590.41 403.1h0M1590.67 402.85h0M1590.92 402.79h0M1591.18 402.59h0M1591.43 402.67h0M1591.69 403.33h0M1591.94 403h0M1592.2 403.08h0M1592.45 403.06h0M1592.71 403h0M1592.96 402.74h0M1593.22 402.9h0M1593.47 402.74h0M1593.73 402.68h0M1593.98 402.68h0M1594.23 402.64h0M1594.49 402.7h0M1594.74 402.95h0M1595 403.06h0M1595.25 403h0M1595.51 402.85h0M1595.76 403.04h0M1596.02 403h0M1596.27 402.87h0M1596.53 403.07h0M1596.78 402.78h0M1597.04 402.74h0M1597.29 403h0M1597.55 402.92h0M1597.8 402.9h0M1598.06 402.75h0M1598.31 403.1h0M1598.56 402.86h0M1598.82 402.84h0M1599.07 403.07h0M1599.33 403.03h0M1599.58 402.81h0M1599.84 402.98h0M1600.09 403.06h0M1600.35 403.11h0M1600.6 402.8h0M1600.86 403.04h0M1601.11 403.37h0M1601.37 403.04h0M1601.62 402.76h0M1601.88 402.94h0M1602.13 402.77h0M1602.38 403.05h0M1602.64 402.96h0M1602.89 403.03h0M1603.15 402.82h0M1603.4 402.95h0M1603.66 403.05h0M1603.91 402.95h0M1604.17 402.73h0M1604.42 403.08h0M1604.68 402.96h0M1604.93 402.89h0M1605.19 402.95h0M1605.44 403.07h0M1605.7 402.85h0M1605.95 402.63h0M1606.21 403.09h0M1606.46 403.29h0M1606.71 403.12h0M1606.97 403.31h0M1607.22 402.98h0M1607.48 403.01h0M1607.73 402.77h0M1607.99 402.77h0M1608.24 403.13h0M1608.5 402.78h0M1608.75 402.92h0M1609.01 402.98h0M1609.26 402.8h0M1609.52 403.2h0M1609.77 402.99h0M1610.03 402.91h0M1610.28 402.84h0M1610.54 402.96h0M1610.79 402.82h0M1611.04 402.91h0M1611.3 403.02h0M1611.55 403.05h0M1611.81 403.06h0M1612.06 402.82h0M1612.32 402.96h0M1612.57 402.93h0M1612.83 403.34h0M1613.08 403.08h0M1613.34 403.25h0M1613.59 402.81h0M1613.85 403.15h0M1614.1 402.8h0M1614.36 402.91h0M1614.61 402.9h0M1614.87 402.99h0M1615.12 402.95h0M1615.37 403.22h0M1615.63 389.55h0M1615.88 389.48h0M1616.14 389.26h0M1616.39 389.41h0M1616.65 389.78h0M1616.9 389.13h0M1617.16 389.32h0M1617.41 389.95h0M1617.67 389.55h0M1617.92 389.46h0M1618.18 389.69h0M1618.43 389.75h0M1618.69 389.47h0M1618.94 389.55h0M1619.2 389.35h0M1619.45 389.85h0M1619.7 389.74h0M1619.96 389.98h0M1620.21 389.7h0M1620.47 389.53h0M1620.72 389.46h0M1620.98 389.62h0M1621.23 389.6h0M1621.49 389.53h0M1621.74 389.69h0M1622 389.8h0M1622.25 389.8h0M1622.51 389.82h0M1622.76 389.63h0M1623.02 389.5h0M1623.27 389.75h0M1623.53 389.9h0M1623.78 389.94h0M1624.03 389.21h0M1624.29 389.84h0M1624.54 390.03h0M1624.8 390.08h0M1625.05 389.96h0M1625.31 389.69h0M1625.56 389.47h0M1625.82 389.74h0M1626.07 390.01h0M1626.33 389.55h0M1626.58 389.81h0M1626.84 389.82h0M1627.09 390.13h0M1627.35 390.07h0M1627.6 389.96h0M1627.85 389.74h0M1628.11 389.88h0M1628.36 389.86h0M1628.62 389.9h0M1628.87 389.59h0M1629.13 389.83h0M1629.38 390.06h0M1629.64 390.3h0M1629.89 390.08h0M1630.15 390.09h0M1630.4 390.43h0M1630.66 389.97h0M1630.91 390.17h0M1631.17 390.14h0M1631.42 390.41h0M1631.68 390.06h0M1631.93 390.12h0M1632.18 389.92h0M1632.44 390.07h0M1632.69 390.32h0M1632.95 390.08h0M1633.2 390.45h0M1633.46 389.94h0M1633.71 390.31h0M1633.97 390.02h0M1634.22 390.52h0M1634.48 389.98h0M1634.73 390.26h0M1634.99 390.31h0M1635.24 389.74h0M1635.5 390.36h0M1635.75 389.97h0M1636.01 390.07h0M1636.26 390.28h0M1636.51 390.26h0M1636.77 390.22h0M1637.02 390.21h0M1637.28 390.44h0M1637.53 390.58h0M1637.79 390.18h0M1638.04 390.27h0M1638.3 390.47h0M1638.55 390.2h0M1638.81 390.31h0M1639.06 390.72h0M1639.32 390.43h0M1639.57 389.92h0M1639.83 390.48h0M1640.08 390.36h0M1640.34 390.97h0M1640.59 390.07h0M1640.84 390.78h0M1641.1 390.43h0M1641.35 390.52h0M1641.61 390.77h0M1641.86 390.57h0M1642.12 390.88h0M1642.37 390.19h0M1642.63 390.55h0M1642.88 390.73h0M1643.14 390.4h0M1643.39 390.95h0M1643.65 390.53h0M1643.9 390.6h0M1644.16 390.93h0M1644.41 390.54h0M1644.67 390.22h0M1644.92 390.23h0M1645.17 390.47h0M1645.43 390.53h0M1645.68 390.47h0M1645.94 390.62h0M1646.19 391.5h0M1646.45 394.41h0M1646.7 395.86h0M1646.96 397.3h0M1647.21 397.98h0M1647.47 398.44h0M1647.72 398.77h0M1647.98 399.09h0M1648.23 399.43h0M1648.49 400.16h0M1648.74 400.19h0M1648.99 400.13h0M1649.25 400.43h0M1649.5 400.63h0M1649.76 400.58h0M1650.01 400.79h0M1650.27 401h0M1650.52 401.05h0M1650.78 401.32h0M1651.03 401.36h0M1651.29 401.18h0M1651.54 401.36h0M1651.8 401.29h0M1652.05 401.16h0M1652.31 401.45h0M1652.56 401.28h0M1652.82 401.47h0M1653.07 401.39h0M1653.32 401.74h0M1653.58 401.93h0M1653.83 401.7h0M1654.09 401.95h0M1654.34 401.73h0M1654.6 401.92h0M1654.85 402.02h0M1655.11 402h0M1655.36 402.3h0M1655.62 402.21h0M1655.87 402.12h0M1656.13 402.24h0M1656.38 402.12h0M1656.64 402.02h0M1656.89 401.85h0M1657.15 402.16h0M1657.4 402.13h0M1657.65 402.12h0M1657.91 402.1h0M1658.16 402.17h0M1658.42 402.43h0M1658.67 402.37h0M1658.93 402.25h0M1659.18 402.25h0M1659.44 402.21h0M1659.69 402.16h0M1659.95 402.42h0M1660.2 402.54h0M1660.46 402.25h0M1660.71 402.43h0M1660.97 402.36h0M1661.22 402.35h0M1661.48 402.73h0M1661.73 402.35h0M1661.98 402.1h0M1662.24 402.29h0M1662.49 402.65h0M1662.75 402.19h0M1663 402.5h0M1663.26 402.37h0M1663.51 402.47h0M1663.77 402.66h0M1664.02 402.51h0M1664.28 402.26h0M1664.53 402.59h0M1664.79 402.15h0M1665.04 402.49h0M1665.3 402.74h0M1665.55 402.66h0M1665.81 402.8h0M1666.06 402.63h0M1666.31 402.65h0M1666.57 402.7h0M1666.82 402.54h0M1667.08 402.51h0M1667.33 402.59h0M1667.59 402.86h0M1667.84 402.31h0M1668.1 402.54h0M1668.35 402.64h0M1668.61 402.41h0M1668.86 402.86h0M1669.12 402.6h0M1669.37 402.35h0M1669.63 402.86h0M1669.88 402.84h0M1670.14 402.54h0M1670.39 402.54h0M1670.64 402.71h0M1670.9 402.43h0M1671.15 402.85h0M1671.41 402.53h0M1671.66 402.98h0M1671.92 402.76h0M1672.17 402.68h0M1672.43 402.57h0M1672.68 402.95h0M1672.94 402.73h0M1673.19 402.72h0M1673.45 402.79h0M1673.7 402.46h0M1673.96 402.66h0M1674.21 402.51h0M1674.46 402.74h0M1674.72 402.63h0M1674.97 402.93h0M1675.23 402.78h0M1675.48 402.59h0M1675.74 402.62h0M1675.99 402.54h0M1676.25 402.68h0M1676.5 402.7h0M1676.76 403.15h0M1677.01 402.98h0M1677.27 402.86h0M1677.52 402.79h0M1677.78 402.81h0M1678.03 402.65h0M1678.29 402.96h0M1678.54 402.84h0M1678.79 402.82h0M1679.05 402.77h0M1679.3 402.65h0M1679.56 402.57h0M1679.81 402.96h0M1680.07 402.85h0M1680.32 403.18h0M1680.58 402.62h0M1680.83 403.08h0M1681.09 402.78h0M1681.34 402.99h0M1681.6 402.79h0M1681.85 402.92h0M1682.11 402.65h0M1682.36 402.7h0M1682.62 402.94h0M1682.87 402.66h0M1683.12 402.88h0M1683.38 402.96h0M1683.63 402.62h0M1683.89 403.12h0M1684.14 402.99h0M1684.4 402.84h0M1684.65 402.84h0M1684.91 402.94h0M1685.16 402.78h0M1685.42 402.82h0M1685.67 402.8h0M1685.93 402.68h0M1686.18 402.72h0M1686.44 402.75h0M1686.69 402.74h0M1686.95 403.05h0M1687.2 403.08h0M1687.45 402.68h0M1687.71 403.04h0M1687.96 402.92h0M1688.22 402.78h0M1688.47 402.73h0M1688.73 402.74h0M1688.98 402.98h0M1689.24 402.78h0M1689.49 403.03h0M1689.75 402.91h0M1690 402.96h0M1690.26 403.1h0M1690.51 402.77h0M1690.77 403.04h0M1691.02 402.76h0M1691.28 403.02h0M1691.53 402.85h0M1691.78 402.92h0M1692.04 402.95h0M1692.29 402.89h0M1692.55 402.77h0M1692.8 381.23h0M1693.06 381.43h0M1693.31 381.23h0M1693.57 381.45h0M1693.82 381.04h0M1694.08 381.34h0M1694.33 381.03h0M1694.59 381.12h0M1694.84 380.93h0M1695.1 381.86h0M1695.35 381.43h0M1695.61 381.45h0M1695.86 380.87h0M1696.11 381.67h0M1696.37 381.04h0M1696.62 380.98h0M1696.88 381.14h0M1697.13 381.2h0M1697.39 380.96h0M1697.64 381.31h0M1697.9 381.29h0M1698.15 381.5h0M1698.41 381.15h0M1698.66 381.33h0M1698.92 381.75h0M1699.17 381.19h0M1699.43 381.58h0M1699.68 381.3h0M1699.93 381.48h0M1700.19 381.55h0M1700.44 381.24h0M1700.7 380.92h0M1700.95 381.12h0M1701.21 381.68h0M1701.46 381.31h0M1701.72 381.28h0M1701.97 381.66h0M1702.23 381.34h0M1702.48 381.2h0M1702.74 381.25h0M1702.99 381.38h0M1703.25 381.83h0M1703.5 381.27h0M1703.76 381.04h0M1704.01 381.55h0M1704.26 381.8h0M1704.52 381.67h0M1704.77 381.97h0M1705.03 381.12h0M1705.28 381.87h0M1705.54 381.48h0M1705.79 381.35h0M1706.05 380.92h0M1706.3 381.21h0M1706.56 381.23h0M1706.81 381.7h0M1707.07 381.22h0M1707.32 381.74h0M1707.58 381.35h0M1707.83 381.69h0M1708.09 382.13h0M1708.34 381.25h0M1708.59 381.64h0M1708.85 381.46h0M1709.1 381.76h0M1709.36 381.71h0M1709.61 382.14h0M1709.87 381.98h0M1710.12 381.77h0M1710.38 381.52h0M1710.63 381.13h0M1710.89 381.85h0M1711.14 381.68h0M1711.4 381.33h0M1711.65 380.96h0M1711.91 381.28h0M1712.16 381.65h0M1712.42 380.9h0M1712.67 382.06h0M1712.92 381.44h0M1713.18 381.35h0M1713.43 381.61h0M1713.69 381.9h0M1713.94 382.05h0M1714.2 381.89h0M1714.45 381.74h0M1714.71 381.5h0M1714.96 381.22h0M1715.22 381.52h0M1715.47 381.71h0M1715.73 381.62h0M1715.98 381.51h0M1716.24 381.67h0M1716.49 381.3h0M1716.75 381.65h0M1717 381.6h0M1717.25 381.63h0M1717.51 381.79h0M1717.76 382.3h0M1718.02 381.65h0M1718.27 381.52h0M1718.53 381.87h0M1718.78 381.66h0M1719.04 381.49h0M1719.29 381.58h0M1719.55 381.39h0M1719.8 381.46h0M1720.06 381.95h0M1720.31 382.2h0M1720.57 382.18h0M1720.82 381.66h0M1721.08 381.58h0M1721.33 381.94h0M1721.58 381.06h0M1721.84 382.1h0M1722.09 382.13h0M1722.35 381.82h0M1722.6 381.79h0M1722.86 382.04h0M1723.11 382.12h0M1723.37 388.31h0M1723.62 391.41h0M1723.88 393.24h0M1724.13 394.7h0M1724.39 395.63h0M1724.64 396.22h0M1724.9 397.24h0M1725.15 397.87h0M1725.4 398.19h0M1725.66 398.43h0M1725.91 398.62h0M1726.17 398.93h0M1726.42 399.23h0M1726.68 399.41h0M1726.93 399.58h0M1727.19 399.78h0M1727.44 399.61h0M1727.7 400.08h0M1727.95 400.32h0M1728.21 400.1h0M1728.46 400.22h0M1728.72 400.52h0M1728.97 400.42h0M1729.23 400.67h0M1729.48 400.74h0M1729.73 400.75h0M1729.99 400.93h0M1730.24 401.09h0M1730.5 401.23h0M1730.75 400.67h0M1731.01 400.81h0M1731.26 401.09h0M1731.52 401.19h0M1731.77 401.37h0M1732.03 401.07h0M1732.28 401.27h0M1732.54 400.9h0M1732.79 401.56h0M1733.05 401.51h0M1733.3 401.43h0M1733.56 401.44h0M1733.81 401.53h0M1734.06 401.49h0M1734.32 401.67h0M1734.57 401.56h0M1734.83 401.72h0M1735.08 401.43h0M1735.34 401.6h0M1735.59 401.84h0M1735.85 401.65h0M1736.1 401.91h0M1736.36 401.59h0M1736.61 401.86h0M1736.87 401.64h0M1737.12 402.1h0M1737.38 401.68h0M1737.63 401.65h0M1737.89 402.15h0M1738.14 402.13h0M1738.39 401.83h0M1738.65 402.18h0M1738.9 401.72h0M1739.16 401.86h0M1739.41 401.88h0M1739.67 401.71h0M1739.92 402.16h0M1740.18 401.99h0M1740.43 402.09h0M1740.69 401.93h0M1740.94 402.19h0M1741.2 402.07h0M1741.45 402.19h0M1741.71 402.1h0M1741.96 401.97h0M1742.22 402.21h0M1742.47 402.1h0M1742.72 402.27h0M1742.98 402.26h0M1743.23 402.2h0M1743.49 402.37h0M1743.74 402.1h0M1744 402.28h0M1744.25 402.31h0M1744.51 402.05h0M1744.76 402.51h0M1745.02 402.32h0M1745.27 402.56h0M1745.53 402.07h0M1745.78 402.52h0M1746.04 402.35h0M1746.29 402.3h0M1746.55 402.28h0M1746.8 402.41h0M1747.05 402.55h0M1747.31 402.56h0M1747.56 402.24h0M1747.82 402.36h0M1748.07 402.33h0M1748.33 402.39h0M1748.58 402.37h0M1748.84 402.41h0M1749.09 402.21h0M1749.35 402.14h0M1749.6 402.42h0M1749.86 402.58h0M1750.11 402.61h0M1750.37 402.39h0M1750.62 402.64h0M1750.88 402.61h0M1751.13 402.61h0M1751.38 402.36h0M1751.64 402.17h0M1751.89 402.31h0M1752.15 402.37h0M1752.4 402.32h0M1752.66 402.25h0M1752.91 402.47h0M1753.17 402.53h0M1753.42 402.48h0M1753.68 402.7h0M1753.93 402.57h0M1754.19 402.53h0M1754.44 402.78h0M1754.7 402.67h0M1754.95 402.23h0M1755.2 402.27h0M1755.46 402.51h0M1755.71 402.43h0M1755.97 402.5h0M1756.22 402.73h0M1756.48 402.53h0M1756.73 402.34h0M1756.99 402.74h0M1757.24 402.5h0M1757.5 402.58h0M1757.75 402.71h0M1758.01 402.68h0M1758.26 402.51h0M1758.52 402.32h0M1758.77 402.55h0M1759.03 402.62h0M1759.28 402.61h0M1759.53 402.64h0M1759.79 402.53h0M1760.04 402.54h0M1760.3 402.74h0M1760.55 402.81h0M1760.81 402.61h0M1761.06 402.62h0M1761.32 402.54h0M1761.57 402.44h0M1761.83 402.64h0M1762.08 402.6h0M1762.34 402.77h0M1762.59 402.64h0M1762.85 402.85h0M1763.1 402.76h0M1763.36 402.47h0M1763.61 402.71h0M1763.86 402.39h0M1764.12 402.53h0M1764.37 402.69h0M1764.63 402.56h0M1764.88 402.5h0M1765.14 402.7h0M1765.39 402.69h0M1765.65 402.75h0M1765.9 402.52h0M1766.16 402.81h0M1766.41 402.82h0M1766.67 402.92h0M1766.92 402.91h0M1767.18 402.81h0M1767.43 402.78h0M1767.69 402.58h0M1767.94 402.57h0M1768.19 402.85h0M1768.45 402.91h0M1768.7 402.92h0M1768.96 367.94h0M1769.21 367.75h0M1769.47 368.41h0M1769.72 368.67h0M1769.98 368.77h0M1770.23 369.02h0M1770.49 368.51h0M1770.74 368.98h0M1771 369.23h0M1771.25 368.48h0M1771.51 369.09h0M1771.76 368.68h0M1772.02 368.96h0M1772.27 368.42h0M1772.52 368.78h0M1772.78 369.37h0M1773.03 368.83h0M1773.29 369.19h0M1773.54 369.03h0M1773.8 369.48h0M1774.05 369.06h0M1774.31 368.75h0M1774.56 369.36h0M1774.82 369.21h0M1775.07 369.15h0M1775.33 369.22h0M1775.58 368.98h0M1775.84 368.45h0M1776.09 368.85h0M1776.35 369.08h0M1776.6 369.2h0M1776.85 369.43h0M1777.11 369.46h0M1777.36 369.35h0M1777.62 369.13h0M1777.87 369.62h0M1778.13 369.3h0M1778.38 369.35h0M1778.64 368.96h0M1778.89 369.71h0M1779.15 369.59h0M1779.4 369.24h0M1779.66 369.62h0M1779.91 369.5h0M1780.17 369.4h0M1780.42 369.76h0M1780.67 369.2h0M1780.93 369h0M1781.18 369.57h0M1781.44 368.98h0M1781.69 369.55h0M1781.95 369.36h0M1782.2 369.58h0M1782.46 369.72h0M1782.71 369.21h0M1782.97 369.59h0M1783.22 370.26h0M1783.48 369.35h0M1783.73 369.72h0M1783.99 369.03h0M1784.24 369.11h0M1784.5 369.31h0M1784.75 370.04h0M1785 369.32h0M1785.26 370.06h0M1785.51 369.93h0M1785.77 369.28h0M1786.02 369.83h0M1786.28 369.64h0M1786.53 369.73h0M1786.79 369.53h0M1787.04 370.09h0M1787.3 369.93h0M1787.55 369.4h0M1787.81 369.79h0M1788.06 369.25h0M1788.32 370.15h0M1788.57 369.7h0M1788.83 370.34h0M1789.08 370.35h0M1789.33 369.19h0M1789.59 369.3h0M1789.84 369.73h0M1790.1 369.17h0M1790.35 370.38h0M1790.61 369.54h0M1790.86 369.85h0M1791.12 370.17h0M1791.37 370.35h0M1791.63 369.77h0M1791.88 369.79h0M1792.14 370.39h0M1792.39 370.06h0M1792.65 370.12h0M1792.9 369.51h0M1793.16 369.81h0M1793.41 369.29h0M1793.66 369.9h0M1793.92 370.1h0M1794.17 370.12h0M1794.43 370.12h0M1794.68 370.66h0M1794.94 370.3h0M1795.19 369.94h0M1795.45 370.39h0M1795.7 370.56h0M1795.96 369.83h0M1796.21 369.78h0M1796.47 370.14h0M1796.72 370.73h0M1796.98 370.75h0M1797.23 369.75h0M1797.49 370.27h0M1797.74 370.81h0M1797.99 370.35h0M1798.25 369.91h0M1798.5 370.55h0M1798.76 370.1h0M1799.01 370.31h0M1799.27 370.45h0M1799.52 371.03h0M1799.78 370.65h0M1800.03 370.27h0M1800.29 380.01h0M1800.54 385.4h0M1800.8 388.11h0M1801.05 390.55h0M1801.31 391.95h0M1801.56 393.44h0M1801.82 394.63h0M1802.07 395.05h0M1802.32 395.9h0M1802.58 396.44h0M1802.83 396.98h0M1803.09 397.13h0M1803.34 397.52h0M1803.6 397.59h0M1803.85 398.22h0M1804.11 398.09h0M1804.36 398.28h0M1804.62 398.77h0M1804.87 398.85h0M1805.13 399.23h0M1805.38 399.34h0M1805.64 399.3h0M1805.89 399.28h0M1806.14 399.4h0M1806.4 399.84h0M1806.65 399.92h0M1806.91 399.88h0M1807.16 399.68h0M1807.42 400.03h0M1807.67 400.15h0M1807.93 400.25h0M1808.18 400.31h0M1808.44 400.42h0M1808.69 400.22h0M1808.95 400.42h0M1809.2 400.52h0M1809.46 400.38h0M1809.71 400.79h0M1809.97 401.01h0M1810.22 400.54h0M1810.47 400.88h0M1810.73 400.81h0M1810.98 400.53h0M1811.24 400.7h0M1811.49 400.73h0M1811.75 401.12h0M1812 401.01h0M1812.26 400.87h0M1812.51 401.16h0M1812.77 401.07h0M1813.02 401.14h0M1813.28 401.08h0M1813.53 401.12h0M1813.79 401.21h0M1814.04 401.07h0M1814.3 401.31h0M1814.55 401.67h0M1814.8 401.21h0M1815.06 401.57h0M1815.31 401.19h0M1815.57 401.57h0M1815.82 401.11h0M1816.08 401.17h0M1816.33 401.3h0M1816.59 401.46h0M1816.84 401.46h0M1817.1 401.46h0M1817.35 401.41h0M1817.61 401.44h0M1817.86 401.3h0M1818.12 401.4h0M1818.37 401.61h0M1818.63 401.81h0M1818.88 401.7h0M1819.13 401.62h0M1819.39 401.47h0M1819.64 401.76h0M1819.9 401.72h0M1820.15 401.9h0M1820.41 401.66h0M1820.66 401.63h0M1820.92 401.44h0M1821.17 401.64h0M1821.43 401.78h0M1821.68 401.82h0M1821.94 402.08h0M1822.19 401.67h0M1822.45 401.77h0M1822.7 401.84h0M1822.96 401.78h0M1823.21 401.42h0M1823.46 401.83h0M1823.72 402.14h0M1823.97 401.65h0M1824.23 401.88h0M1824.48 401.86h0M1824.74 401.82h0M1824.99 401.9h0M1825.25 401.83h0M1825.5 401.99h0M1825.76 401.94h0M1826.01 401.98h0M1826.27 402.15h0M1826.52 402.09h0M1826.78 402.08h0M1827.03 401.91h0M1827.28 402.03h0M1827.54 402.03h0M1827.79 401.89h0M1828.05 401.95h0M1828.3 402.27h0M1828.56 402.37h0M1828.81 402.03h0M1829.07 402.27h0M1829.32 402.31h0M1829.58 402.04h0M1829.83 401.95h0M1830.09 402.47h0M1830.34 402.08h0M1830.6 402.17h0M1830.85 402.19h0M1831.11 402.01h0M1831.36 402.25h0M1831.61 402.04h0M1831.87 402.14h0M1832.12 402.11h0M1832.38 401.98h0M1832.63 402.03h0M1832.89 402.01h0M1833.14 402.2h0M1833.4 401.96h0M1833.65 402.22h0M1833.91 402.32h0M1834.16 402.13h0M1834.42 402.23h0M1834.67 401.97h0M1834.93 402.21h0M1835.18 402.54h0M1835.44 402.11h0M1835.69 402.27h0M1835.94 402.07h0M1836.2 402.22h0M1836.45 402.09h0M1836.71 402.27h0M1836.96 402.48h0M1837.22 402.26h0M1837.47 402.32h0M1837.73 402.47h0M1837.98 402.37h0M1838.24 402.65h0M1838.49 402.23h0M1838.75 402.3h0M1839 402.29h0M1839.26 402.59h0M1839.51 402.67h0M1839.77 402.34h0M1840.02 402.42h0M1840.27 402.57h0M1840.53 402.26h0M1840.78 402.33h0M1841.04 402.38h0M1841.29 402.59h0M1841.55 402.35h0M1841.8 402.49h0M1842.06 402.4h0M1842.31 402.52h0M1842.57 402.33h0M1842.82 402.56h0M1843.08 402.55h0M1843.33 402.37h0M1843.59 402.68h0M1843.84 402.5h0M1844.1 402.67h0M1844.35 402.44h0M1844.6 402.57h0M1844.86 402.23h0M1845.11 402.54h0M1845.37 402.53h0M1845.62 402.62h0M1845.88 350.69h0M1846.13 351.29h0M1846.39 351.96h0M1846.64 351.94h0M1846.9 351.19h0M1847.15 351.74h0M1847.41 351.68h0M1847.66 351.63h0M1847.92 350.93h0M1848.17 351.11h0M1848.43 351.93h0M1848.68 352.39h0M1848.93 352.83h0M1849.19 352.42h0M1849.44 352.38h0M1849.7 352.02h0M1849.95 352.28h0M1850.21 351.87h0M1850.46 351.32h0M1850.72 352.83h0M1850.97 352.56h0M1851.23 352.1h0M1851.48 352.02h0M1851.74 352.96h0M1851.99 352.65h0M1852.25 351.45h0M1852.5 352h0M1852.76 352.96h0M1853.01 352.77h0M1853.26 352.82h0M1853.52 352.99h0M1853.77 352.62h0M1854.03 352.42h0M1854.28 353.01h0M1854.54 352.63h0M1854.79 353.04h0M1855.05 353.27h0M1855.3 352.6h0M1855.56 353.39h0M1855.81 353.04h0M1856.07 352.19h0M1856.32 352.55h0M1856.58 352.93h0M1856.83 352.46h0M1857.08 353.8h0M1857.34 353.54h0M1857.59 352.65h0M1857.85 353.36h0M1858.1 353.03h0M1858.36 353.17h0M1858.61 353.33h0M1858.87 353.44h0M1859.12 353.3h0M1859.38 352.93h0M1859.63 353.29h0M1859.89 352.94h0M1860.14 354.04h0M1860.4 353.99h0M1860.65 354.28h0M1860.91 353.54h0M1861.16 353.63h0M1861.41 353.62h0M1861.67 354.5h0M1861.92 353.74h0M1862.18 354.02h0M1862.43 354.44h0M1862.69 353.88h0M1862.94 354.15h0M1863.2 355.05h0M1863.45 353.85h0M1863.71 354.73h0M1863.96 354.58h0M1864.22 355.24h0M1864.47 354.91h0M1864.73 354.66h0M1864.98 355.31h0M1865.24 354.54h0M1865.49 353.97h0M1865.74 354.82h0M1866 354.88h0M1866.25 354.99h0M1866.51 354.08h0M1866.76 354.34h0M1867.02 354.78h0M1867.27 355.06h0M1867.53 354.73h0M1867.78 354.97h0M1868.04 354.99h0M1868.29 354.46h0M1868.55 355.35h0M1868.8 355.95h0M1869.06 354.89h0M1869.31 355.19h0M1869.57 355.11h0M1869.82 355.47h0M1870.07 355.62h0M1870.33 355.07h0M1870.58 354.88h0M1870.84 355.31h0M1871.09 355.63h0M1871.35 355.02h0M1871.6 356.47h0M1871.86 355.43h0M1872.11 355.66h0M1872.37 355.3h0M1872.62 355.34h0M1872.88 355.69h0M1873.13 355.8h0M1873.39 354.7h0M1873.64 355.65h0M1873.9 356.19h0M1874.15 356.4h0M1874.4 355.57h0M1874.66 356.39h0M1874.91 356.45h0M1875.17 356.63h0M1875.42 355.65h0M1875.68 355.57h0M1875.93 356.17h0M1876.19 356.23h0M1876.44 369.21h0M1876.7 377.41h0M1876.95 382.45h0M1877.21 384.54h0M1877.46 387.55h0M1877.72 389.67h0M1877.97 390.94h0M1878.22 391.57h0M1878.48 392.75h0M1878.73 393.27h0M1878.99 393.78h0M1879.24 394.73h0M1879.5 395.46h0M1879.75 395.71h0M1880.01 395.84h0M1880.26 396.32h0M1880.52 396.34h0M1880.77 396.92h0M1881.03 397.14h0M1881.28 397.27h0M1881.54 397.48h0M1881.79 397.53h0M1882.05 397.79h0M1882.3 397.98h0M1882.55 398.02h0M1882.81 398.51h0M1883.06 398.65h0M1883.32 398.35h0M1883.57 398.67h0M1883.83 398.67h0M1884.08 399.05h0M1884.34 398.64h0M1884.59 399.22h0M1884.85 399.09h0M1885.1 399.23h0M1885.36 399.45h0M1885.61 399.47h0M1885.87 399.22h0M1886.12 399.57h0M1886.38 399.8h0M1886.63 399.91h0M1886.88 399.76h0M1887.14 399.84h0M1887.39 399.83h0M1887.65 399.92h0M1887.9 400.08h0M1888.16 400.04h0M1888.41 400.09h0M1888.67 399.85h0M1888.92 400.19h0M1889.18 400.48h0M1889.43 400.26h0M1889.69 400.3h0M1889.94 400.34h0M1890.2 400.36h0M1890.45 400.24h0M1890.71 400.52h0M1890.96 400.52h0M1891.21 400.7h0M1891.47 400.72h0M1891.72 400.66h0M1891.98 400.7h0M1892.23 400.44h0M1892.49 400.53h0M1892.74 401.18h0M1893 400.68h0M1893.25 400.99h0M1893.51 400.9h0M1893.76 400.96h0M1894.02 400.97h0M1894.27 400.79h0M1894.53 401.01h0M1894.78 400.83h0M1895.04 400.96h0M1895.29 400.7h0M1895.54 400.94h0M1895.8 400.79h0M1896.05 401.28h0M1896.31 401.12h0M1896.56 401.45h0M1896.82 401.08h0M1897.07 401.18h0M1897.33 401.59h0M1897.58 401.31h0M1897.84 400.95h0M1898.09 401.23h0M1898.35 401.1h0M1898.6 401.05h0M1898.86 401.61h0M1899.11 401.38h0M1899.37 401.42h0M1899.62 401.32h0M1899.87 401.33h0M1900.13 401.54h0M1900.38 401.4h0M1900.64 401.61h0M1900.89 401.29h0M1901.15 401.42h0M1901.4 401.66h0M1901.66 401.38h0M1901.91 401.48h0M1902.17 401.22h0M1902.42 401.36h0M1902.68 401.49h0M1902.93 401.67h0M1903.19 401.44h0M1903.44 401.62h0M1903.69 401.78h0M1903.95 401.37h0M1904.2 401.72h0M1904.46 401.44h0M1904.71 401.47h0M1904.97 401.78h0M1905.22 401.75h0M1905.48 401.44h0M1905.73 401.58h0M1905.99 401.36h0M1906.24 401.55h0M1906.5 401.8h0M1906.75 401.63h0M1907.01 401.51h0M1907.26 401.67h0M1907.52 401.71h0M1907.77 401.5h0M1908.02 401.29h0M1908.28 401.56h0M1908.53 401.88h0M1908.79 401.78h0M1909.04 401.85h0M1909.3 401.82h0M1909.55 402.16h0M1909.81 401.74h0M1910.06 401.89h0M1910.32 401.71h0M1910.57 401.73h0M1910.83 401.73h0M1911.08 401.87h0M1911.34 401.92h0M1911.59 401.91h0M1911.85 401.74h0M1912.1 402h0M1912.35 401.91h0M1912.61 402.08h0M1912.86 401.95h0M1913.12 401.78h0M1913.37 402.13h0M1913.63 401.8h0M1913.88 402.13h0M1914.14 401.83h0M1914.39 401.98h0M1914.65 401.69h0M1914.9 401.93h0M1915.16 401.93h0M1915.41 402.11h0M1915.67 402.18h0M1915.92 401.79h0M1916.18 402.34h0M1916.43 402.28h0M1916.68 402.28h0M1916.94 402.12h0M1917.19 402.12h0M1917.45 402.16h0M1917.7 402.02h0M1917.96 402.29h0M1918.21 402.17h0M1918.47 402.16h0M1918.72 402.28h0M1918.98 402.27h0M1919.23 402.21h0M1919.49 402.33h0M1919.74 402.24h0M1920 402.34h0M1920.25 402.13h0M1920.51 402.16h0M1920.76 402.05h0M1921.01 402.28h0M1921.27 402.37h0M1921.52 402.2h0M1921.78 402.2h0M1922.03 402.39h0M1922.29 402.65h0M1922.54 402.47h0M1922.8 402.41h0M1923.05 402.41h0M1923.31 402.45h0M1923.56 402.43h0M1923.82 402.74h0M1924.07 402.36h0M1924.33 402.42h0M1924.58 402.32h0M1924.84 402.48h0M1925.09 402.67h0M1925.34 402.6h0M1925.6 402.6h0M1925.85 402.68h0M1926.11 402.6h0M1926.36 402.31h0M1926.62 402.77h0M1926.87 402.42h0M1927.13 402.41h0M1927.38 402.19h0M1927.64 402.81h0M1927.89 402.37h0M1928.15 402.23h0M1928.4 402.58h0M1928.66 402.71h0M1928.91 402.72h0M1929.16 402.84h0" fill="none" stroke="#000000" stroke-width="5.4" stroke-linecap="round" stroke-linecap="square"/>
<polyline points="1432.5,403.15 1432.75,403.49 1433.01,403.15 1433.26,403.06 1433.52,403.26 1433.77,403.18 1434.03,403.03 1434.28,403.27 1434.54,402.88 1434.79,403.21 1435.05,403.15 1435.3,402.88 1435.56,403.1 1435.81,403.2 1436.07,403.19 1436.32,403.18 1436.58,403.16 1436.83,403.1 1437.08,402.9 1437.34,402.92 1437.59,403.29 1437.85,403.09 1438.1,403.26 1438.36,403.09 1438.61,403.28 1438.87,403.01 1439.12,403.03 1439.38,403.09 1439.63,403.23 1439.89,403.05 1440.14,402.92 1440.4,403.12 1440.65,403.23 1440.91,402.88 1441.16,403.17 1441.41,403.04 1441.67,403.05 1441.92,402.96 1442.18,403.21 1442.43,403.38 1442.69,403.37 1442.94,402.84 1443.2,403.21 1443.45,402.99 1443.71,403.13 1443.96,403.14 1444.22,403.25 1444.47,403.07 1444.73,403.29 1444.98,403.04 1445.23,403.1 1445.49,403.2 1445.74,403.1 1446,402.85 1446.25,403.11 1446.51,403.4 1446.76,402.98 1447.02,403.02 1447.27,403.12 1447.53,403.08 1447.78,403.07 1448.04,402.84 1448.29,403.1 1448.55,403.13 1448.8,403.05 1449.06,403.08 1449.31,403.25 1449.56,402.88 1449.82,403.11 1450.07,403.13 1450.33,402.97 1450.58,403.09 1450.84,403.21 1451.09,403.07 1451.35,403.03 1451.6,403.2 1451.86,403.23 1452.11,402.99 1452.37,403.06 1452.62,403.26 1452.88,403.17 1453.13,403.21 1453.39,402.85 1453.64,402.87 1453.89,402.97 1454.15,402.97 1454.4,403.18 1454.66,403.01 1454.91,403.08 1455.17,403.09 1455.42,402.89 1455.68,403.08 1455.93,403.34 1456.19,403.11 1456.44,403.27 1456.7,403.11 1456.95,403.35 1457.21,403.11 1457.46,402.88 1457.72,403.05 1457.97,402.86 1458.22,403.16 1458.48,403.31 1458.73,403.29 1458.99,403.27 1459.24,402.92 1459.5,403.1 1459.75,403.11 1460.01,403.06 1460.26,403.37 1460.52,403.41 1460.77,403.06 1461.03,402.88 1461.28,403.06 1461.54,403.15 1461.79,403.27 1462.05,403.03 1462.3,401.72 1462.55,401.64 1462.81,401.43 1463.06,401.2 1463.32,401.33 1463.57,401.35 1463.83,401.1 1464.08,401.07 1464.34,401.08 1464.59,400.72 1464.85,400.99 1465.1,400.87 1465.36,400.51 1465.61,400.49 1465.87,400.69 1466.12,400.56 1466.38,400.52 1466.63,400.27 1466.88,400.33 1467.14,400.59 1467.39,400.22 1467.65,400.32 1467.9,400.45 1468.16,400.27 1468.41,399.98 1468.67,399.97 1468.92,400 1469.18,399.67 1469.43,399.66 1469.69,399.76 1469.94,399.95 1470.2,399.55 1470.45,399.91 1470.7,399.71 1470.96,399.73 1471.21,399.51 1471.47,399.58 1471.72,399.39 1471.98,399.6 1472.23,399.81 1472.49,399.64 1472.74,399.43 1473,399.17 1473.25,399.7 1473.51,399.53 1473.76,399.31 1474.02,399.26 1474.27,399.33 1474.53,399.45 1474.78,399.31 1475.03,398.95 1475.29,398.98 1475.54,398.9 1475.8,399.04 1476.05,399.05 1476.31,399.36 1476.56,399.04 1476.82,399.27 1477.07,399.03 1477.33,398.96 1477.58,399.07 1477.84,399.2 1478.09,398.86 1478.35,398.81 1478.6,398.59 1478.86,398.9 1479.11,398.93 1479.36,398.93 1479.62,399.08 1479.87,398.76 1480.13,398.71 1480.38,398.93 1480.64,398.72 1480.89,398.62 1481.15,399 1481.4,399.02 1481.66,398.81 1481.91,398.88 1482.17,398.68 1482.42,398.61 1482.68,398.6 1482.93,398.73 1483.19,398.6 1483.44,398.57 1483.69,398.76 1483.95,398.82 1484.2,398.63 1484.46,398.71 1484.71,398.76 1484.97,398.64 1485.22,398.89 1485.48,399.15 1485.73,398.62 1485.99,398.8 1486.24,398.47 1486.5,398.49 1486.75,398.44 1487.01,398.7 1487.26,398.68 1487.52,398.86 1487.77,398.62 1488.02,398.56 1488.28,398.8 1488.53,398.46 1488.79,398.65 1489.04,398.31 1489.3,398.55 1489.55,398.44 1489.81,398.3 1490.06,398.4 1490.32,398.33 1490.57,398.46 1490.83,398.72 1491.08,398.69 1491.34,398.35 1491.59,398.57 1491.85,398.03 1492.1,398.4 1492.35,398.37 1492.61,398.63 1492.86,398.14 1493.12,398.47 1493.37,398.41 1493.63,398.5 1493.88,398.49 1494.14,398.25 1494.39,398.2 1494.65,398.45 1494.9,398.34 1495.16,398.35 1495.41,398.4 1495.67,398.71 1495.92,398.64 1496.17,398.72 1496.43,398.9 1496.68,398.59 1496.94,398.64 1497.19,398.9 1497.45,399.03 1497.7,399.01 1497.96,399.08 1498.21,399.19 1498.47,399.64 1498.72,399.65 1498.98,399.72 1499.23,399.68 1499.49,400.15 1499.74,399.81 1500,400.07 1500.25,400.07 1500.5,400.21 1500.76,400.36 1501.01,400.03 1501.27,400.16 1501.52,400.34 1501.78,400.46 1502.03,400.51 1502.29,400.5 1502.54,400.71 1502.8,400.82 1503.05,400.65 1503.31,400.68 1503.56,401 1503.82,400.86 1504.07,400.96 1504.33,400.88 1504.58,401.08 1504.83,401.02 1505.09,400.73 1505.34,401.36 1505.6,401.06 1505.85,401.28 1506.11,401.3 1506.36,401.23 1506.62,401.23 1506.87,401.14 1507.13,401.35 1507.38,401.49 1507.64,401.55 1507.89,401.17 1508.15,401.22 1508.4,401.53 1508.66,401.53 1508.91,401.46 1509.16,401.6 1509.42,401.69 1509.67,401.61 1509.93,401.74 1510.18,401.83 1510.44,401.8 1510.69,401.86 1510.95,401.8 1511.2,401.76 1511.46,401.8 1511.71,401.97 1511.97,401.98 1512.22,401.8 1512.48,401.88 1512.73,401.92 1512.99,401.71 1513.24,402.28 1513.49,401.88 1513.75,402.01 1514,402.09 1514.26,402.03 1514.51,401.91 1514.77,401.96 1515.02,402.09 1515.28,402.44 1515.53,402.37 1515.79,402.25 1516.04,402.19 1516.3,402.41 1516.55,402.36 1516.81,402.16 1517.06,402.2 1517.32,402.38 1517.57,402.11 1517.82,402.37 1518.08,402.37 1518.33,402.3 1518.59,402.28 1518.84,402.35 1519.1,402.38 1519.35,402.33 1519.61,402.43 1519.86,402.31 1520.12,402.21 1520.37,402.43 1520.63,402.3 1520.88,402.42 1521.14,402.29 1521.39,402.38 1521.64,402.5 1521.9,401.96 1522.15,402.51 1522.41,402.42 1522.66,402.33 1522.92,402.52 1523.17,402.68 1523.43,402.25 1523.68,402.66 1523.94,402.39 1524.19,402.61 1524.45,402.7 1524.7,402.55 1524.96,402.48 1525.21,402.73 1525.47,402.43 1525.72,402.46 1525.97,402.5 1526.23,402.76 1526.48,402.86 1526.74,402.62 1526.99,402.71 1527.25,402.84 1527.5,402.53 1527.76,402.63 1528.01,402.43 1528.27,402.46 1528.52,402.69 1528.78,402.25 1529.03,402.59 1529.29,402.4 1529.54,402.82 1529.8,402.88 1530.05,403.07 1530.3,402.85 1530.56,402.81 1530.81,402.43 1531.07,402.87 1531.32,402.35 1531.58,402.96 1531.83,402.77 1532.09,402.87 1532.34,402.77 1532.6,402.96 1532.85,402.65 1533.11,402.5 1533.36,402.67 1533.62,402.69 1533.87,402.62 1534.13,403.06 1534.38,402.88 1534.63,402.67 1534.89,402.64 1535.14,402.95 1535.4,402.43 1535.65,402.82 1535.91,402.51 1536.16,402.83 1536.42,402.73 1536.67,402.55 1536.93,402.67 1537.18,402.72 1537.44,402.75 1537.69,402.78 1537.95,402.71 1538.2,403.03 1538.46,402.85 1538.71,402.6 1538.96,398.45 1539.22,398.26 1539.47,398.21 1539.73,397.72 1539.98,397.79 1540.24,397.68 1540.49,397.29 1540.75,397.44 1541,396.82 1541.26,396.92 1541.51,396.68 1541.77,396.92 1542.02,396.68 1542.28,396.45 1542.53,396.12 1542.79,396.51 1543.04,396.07 1543.29,395.98 1543.55,395.97 1543.8,395.89 1544.06,395.68 1544.31,395.61 1544.57,395.37 1544.82,395.65 1545.08,395.57 1545.33,395.41 1545.59,395.21 1545.84,395.21 1546.1,395.17 1546.35,395 1546.61,394.86 1546.86,394.88 1547.12,394.66 1547.37,394.75 1547.62,394.57 1547.88,394.87 1548.13,394.41 1548.39,394.4 1548.64,394.36 1548.9,393.99 1549.15,394.31 1549.41,394.27 1549.66,394.01 1549.92,393.95 1550.17,393.95 1550.43,393.76 1550.68,393.84 1550.94,393.83 1551.19,394.1 1551.44,393.81 1551.7,394.24 1551.95,393.68 1552.21,393.5 1552.46,393.68 1552.72,393.71 1552.97,393.7 1553.23,393.63 1553.48,393.76 1553.74,393.72 1553.99,393.46 1554.25,393.4 1554.5,393.2 1554.76,393.41 1555.01,393.38 1555.27,393.37 1555.52,393.52 1555.77,393.4 1556.03,393.03 1556.28,393.34 1556.54,393.35 1556.79,393.5 1557.05,393.5 1557.3,393.01 1557.56,393.36 1557.81,393.32 1558.07,393.33 1558.32,393.08 1558.58,393.23 1558.83,393.48 1559.09,393.47 1559.34,393.21 1559.6,392.99 1559.85,392.91 1560.1,393.04 1560.36,393.3 1560.61,392.95 1560.87,392.84 1561.12,393.14 1561.38,393.01 1561.63,393.04 1561.89,393.16 1562.14,392.64 1562.4,393.38 1562.65,392.91 1562.91,393.2 1563.16,393.15 1563.42,393.19 1563.67,392.82 1563.93,393.18 1564.18,392.92 1564.43,393.05 1564.69,393.04 1564.94,392.8 1565.2,393.3 1565.45,393.01 1565.71,392.8 1565.96,393.02 1566.22,392.9 1566.47,392.6 1566.73,392.91 1566.98,393.04 1567.24,392.94 1567.49,392.66 1567.75,392.76 1568,392.83 1568.26,392.68 1568.51,392.9 1568.76,392.74 1569.02,392.93 1569.27,394.06 1569.53,393.87 1569.78,394.26 1570.04,394.33 1570.29,394.14 1570.55,394.59 1570.8,394.83 1571.06,394.89 1571.31,395.32 1571.57,395.42 1571.82,395.73 1572.08,396.15 1572.33,396.3 1572.59,396.36 1572.84,396.85 1573.09,396.96 1573.35,396.81 1573.6,397.34 1573.86,397.16 1574.11,397.45 1574.37,398.06 1574.62,398.09 1574.88,398.07 1575.13,397.96 1575.39,398.25 1575.64,398.21 1575.9,398.83 1576.15,398.58 1576.41,398.73 1576.66,398.92 1576.91,398.99 1577.17,399.16 1577.42,399.22 1577.68,399.12 1577.93,399.23 1578.19,399.47 1578.44,399.45 1578.7,399.67 1578.95,399.79 1579.21,399.74 1579.46,400.2 1579.72,399.95 1579.97,399.86 1580.23,400.06 1580.48,400.23 1580.74,400.01 1580.99,400.42 1581.24,400.24 1581.5,400.67 1581.75,400.45 1582.01,400.61 1582.26,400.71 1582.52,400.65 1582.77,401.08 1583.03,400.84 1583.28,401.02 1583.54,401.41 1583.79,400.97 1584.05,401.21 1584.3,401.32 1584.56,400.98 1584.81,401.21 1585.07,401.16 1585.32,401.71 1585.57,401.3 1585.83,401.5 1586.08,401.15 1586.34,401.41 1586.59,401.25 1586.85,401.55 1587.1,401.5 1587.36,401.46 1587.61,401.58 1587.87,401.53 1588.12,401.38 1588.38,401.45 1588.63,401.49 1588.89,401.76 1589.14,401.6 1589.4,401.45 1589.65,401.63 1589.9,401.68 1590.16,401.8 1590.41,401.9 1590.67,401.62 1590.92,402.02 1591.18,401.8 1591.43,402.01 1591.69,402.01 1591.94,401.87 1592.2,402.06 1592.45,401.92 1592.71,401.75 1592.96,401.85 1593.22,401.96 1593.47,402.14 1593.73,402.04 1593.98,401.71 1594.23,402.23 1594.49,402.13 1594.74,402.14 1595,402.08 1595.25,401.96 1595.51,402.54 1595.76,402.32 1596.02,402.28 1596.27,402.22 1596.53,402.15 1596.78,402.23 1597.04,402.18 1597.29,402.31 1597.55,402.19 1597.8,402.14 1598.06,402.45 1598.31,402.32 1598.56,402.19 1598.82,402.24 1599.07,402.29 1599.33,402.3 1599.58,402.47 1599.84,402.01 1600.09,402.47 1600.35,402.62 1600.6,402.51 1600.86,402.54 1601.11,402.32 1601.37,402.45 1601.62,402.47 1601.88,402.43 1602.13,402.67 1602.38,402.8 1602.64,402.39 1602.89,402.19 1603.15,402.2 1603.4,402.23 1603.66,402.45 1603.91,402.58 1604.17,402.32 1604.42,402.42 1604.68,402.51 1604.93,402.61 1605.19,402.5 1605.44,402.62 1605.7,402.55 1605.95,402.25 1606.21,402.52 1606.46,402.68 1606.71,402.7 1606.97,402.56 1607.22,402.72 1607.48,402.47 1607.73,402.81 1607.99,402.87 1608.24,402.68 1608.5,402.54 1608.75,402.4 1609.01,402.71 1609.26,402.68 1609.52,402.91 1609.77,402.38 1610.03,402.65 1610.28,402.89 1610.54,402.75 1610.79,402.8 1611.04,402.65 1611.3,402.58 1611.55,402.48 1611.81,403.02 1612.06,402.5 1612.32,402.5 1612.57,402.83 1612.83,402.87 1613.08,402.64 1613.34,402.86 1613.59,402.83 1613.85,402.87 1614.1,402.62 1614.36,402.5 1614.61,402.55 1614.87,402.62 1615.12,402.65 1615.37,402.79 1615.63,392.02 1615.88,391.1 1616.14,390.99 1616.39,390.31 1616.65,390.11 1616.9,389.43 1617.16,389.3 1617.41,389.19 1617.67,388.61 1617.92,388.81 1618.18,387.95 1618.43,387.74 1618.69,387.31 1618.94,386.92 1619.2,386.85 1619.45,386.65 1619.7,386.24 1619.96,386.13 1620.21,385.42 1620.47,385.5 1620.72,385.19 1620.98,384.76 1621.23,384.74 1621.49,384.68 1621.74,384.81 1622,383.8 1622.25,383.95 1622.51,383.99 1622.76,383.58 1623.02,383.6 1623.27,383.31 1623.53,382.82 1623.78,383.07 1624.03,382.76 1624.29,382.49 1624.54,382.37 1624.8,382.42 1625.05,381.87 1625.31,381.62 1625.56,382.08 1625.82,381.9 1626.07,381.4 1626.33,381.53 1626.58,381.39 1626.84,381.26 1627.09,381.1 1627.35,381.42 1627.6,380.98 1627.85,380.86 1628.11,381.02 1628.36,380.72 1628.62,380.86 1628.87,380.43 1629.13,380.51 1629.38,380.23 1629.64,380.49 1629.89,380.17 1630.15,379.9 1630.4,379.8 1630.66,379.88 1630.91,379.8 1631.17,379.92 1631.42,379.79 1631.68,380.32 1631.93,379.89 1632.18,379.92 1632.44,379.4 1632.69,379.21 1632.95,379.66 1633.2,379.99 1633.46,379.63 1633.71,379.22 1633.97,379.4 1634.22,379.86 1634.48,379.36 1634.73,378.85 1634.99,379.19 1635.24,379.09 1635.5,379.41 1635.75,379.47 1636.01,378.75 1636.26,378.91 1636.51,378.73 1636.77,379.22 1637.02,378.98 1637.28,379.05 1637.53,379.17 1637.79,379.39 1638.04,378.91 1638.3,378.55 1638.55,379.01 1638.81,378.62 1639.06,378.77 1639.32,378.71 1639.57,378.94 1639.83,379.05 1640.08,378.59 1640.34,378.37 1640.59,379.36 1640.84,378.57 1641.1,378.39 1641.35,378.34 1641.61,378.54 1641.86,378.74 1642.12,378.71 1642.37,378.75 1642.63,378.55 1642.88,378.5 1643.14,378.61 1643.39,378.16 1643.65,378.53 1643.9,378.66 1644.16,378.51 1644.41,378.25 1644.67,378.66 1644.92,378.45 1645.17,378.71 1645.43,378.68 1645.68,378.75 1645.94,378.54 1646.19,382.28 1646.45,382.82 1646.7,382.94 1646.96,383.28 1647.21,383.85 1647.47,384.37 1647.72,385.38 1647.98,386.12 1648.23,386.42 1648.49,387.25 1648.74,388.24 1648.99,388.33 1649.25,388.72 1649.5,389.59 1649.76,390.13 1650.01,390.21 1650.27,390.84 1650.52,391.24 1650.78,392.39 1651.03,392.38 1651.29,392.56 1651.54,392.67 1651.8,393.3 1652.05,393.26 1652.31,393.88 1652.56,393.87 1652.82,394.31 1653.07,394.26 1653.32,394.43 1653.58,394.89 1653.83,395.17 1654.09,395.61 1654.34,395.6 1654.6,396.07 1654.85,396.01 1655.11,396.55 1655.36,396.97 1655.62,397.23 1655.87,397.14 1656.13,397.36 1656.38,397.78 1656.64,398.14 1656.89,398.1 1657.15,398.09 1657.4,398.31 1657.65,398.59 1657.91,398.5 1658.16,398.4 1658.42,398.77 1658.67,398.8 1658.93,398.76 1659.18,399 1659.44,398.9 1659.69,398.82 1659.95,399.2 1660.2,399.44 1660.46,399.2 1660.71,399.41 1660.97,399.47 1661.22,399.7 1661.48,399.94 1661.73,399.78 1661.98,399.82 1662.24,400.08 1662.49,399.92 1662.75,399.95 1663,400.01 1663.26,400.06 1663.51,400.35 1663.77,400.32 1664.02,400.5 1664.28,400.25 1664.53,400.28 1664.79,400.41 1665.04,400.34 1665.3,400.64 1665.55,400.48 1665.81,400.6 1666.06,400.74 1666.31,400.52 1666.57,400.98 1666.82,400.93 1667.08,400.9 1667.33,400.92 1667.59,401.29 1667.84,401.2 1668.1,401.23 1668.35,401.14 1668.61,401.18 1668.86,401.4 1669.12,401.09 1669.37,400.93 1669.63,401.31 1669.88,401.29 1670.14,401.65 1670.39,401.29 1670.64,401.52 1670.9,401.49 1671.15,401.48 1671.41,401.42 1671.66,401.76 1671.92,401.56 1672.17,401.8 1672.43,401.56 1672.68,401.8 1672.94,401.91 1673.19,401.67 1673.45,401.63 1673.7,401.84 1673.96,401.83 1674.21,401.59 1674.46,401.89 1674.72,401.83 1674.97,401.99 1675.23,401.53 1675.48,401.67 1675.74,401.69 1675.99,402.08 1676.25,401.83 1676.5,401.88 1676.76,401.93 1677.01,401.83 1677.27,402.03 1677.52,402.31 1677.78,402.21 1678.03,402.12 1678.29,401.87 1678.54,402.21 1678.79,402.11 1679.05,402.25 1679.3,402.06 1679.56,402.04 1679.81,401.98 1680.07,402.13 1680.32,402.35 1680.58,402.01 1680.83,402.14 1681.09,402.02 1681.34,402.47 1681.6,402.32 1681.85,402.37 1682.11,402.38 1682.36,402.17 1682.62,402.13 1682.87,402.23 1683.12,402.18 1683.38,402.24 1683.63,402.52 1683.89,402.23 1684.14,402.41 1684.4,402.45 1684.65,402.52 1684.91,402.4 1685.16,402.46 1685.42,402.32 1685.67,402.44 1685.93,402.55 1686.18,402.3 1686.44,402.53 1686.69,402.4 1686.95,402.52 1687.2,402.43 1687.45,402.36 1687.71,402.66 1687.96,402.54 1688.22,402.58 1688.47,402.62 1688.73,402.77 1688.98,402.56 1689.24,402.5 1689.49,402.78 1689.75,402.61 1690,402.61 1690.26,402.54 1690.51,402.75 1690.77,402.45 1691.02,402.76 1691.28,402.91 1691.53,402.63 1691.78,402.34 1692.04,402.69 1692.29,402.71 1692.55,402.72 1692.8,372.48 1693.06,371.98 1693.31,370.46 1693.57,368.9 1693.82,368.11 1694.08,367.04 1694.33,365.53 1694.59,363.51 1694.84,362.79 1695.1,361.23 1695.35,360.5 1695.61,359.8 1695.86,359.25 1696.11,357.84 1696.37,357.63 1696.62,356.03 1696.88,354.13 1697.13,353.78 1697.39,353.43 1697.64,352.58 1697.9,351.84 1698.15,351.19 1698.41,350.72 1698.66,349.04 1698.92,349.49 1699.17,348.47 1699.43,347.3 1699.68,347.16 1699.93,346.85 1700.19,345.74 1700.44,344.92 1700.7,344.61 1700.95,343.95 1701.21,343.41 1701.46,342.77 1701.72,342.49 1701.97,342.18 1702.23,341.35 1702.48,341.02 1702.74,340.17 1702.99,340.53 1703.25,339.9 1703.5,339.67 1703.76,339.49 1704.01,338.79 1704.26,338.01 1704.52,338.55 1704.77,337.36 1705.03,337.83 1705.28,337.29 1705.54,337.02 1705.79,336.94 1706.05,336.07 1706.3,336.1 1706.56,334.97 1706.81,335.34 1707.07,334.97 1707.32,335.09 1707.58,334.52 1707.83,334.29 1708.09,334.17 1708.34,333.59 1708.59,333.67 1708.85,333.62 1709.1,333.99 1709.36,333.73 1709.61,332.53 1709.87,333.16 1710.12,333.47 1710.38,333.31 1710.63,333.02 1710.89,332.34 1711.14,332.12 1711.4,331.37 1711.65,332.23 1711.91,331.26 1712.16,331.98 1712.42,330.74 1712.67,330.48 1712.92,330.91 1713.18,331.16 1713.43,330.36 1713.69,331.27 1713.94,330.23 1714.2,330.62 1714.45,330.1 1714.71,330.62 1714.96,329.98 1715.22,330.27 1715.47,330.1 1715.73,329.71 1715.98,329.93 1716.24,329.43 1716.49,329.1 1716.75,330.14 1717,329.43 1717.25,329.21 1717.51,329.31 1717.76,328.51 1718.02,329.37 1718.27,329.28 1718.53,328.74 1718.78,329.35 1719.04,328.79 1719.29,329.07 1719.55,329.28 1719.8,328.15 1720.06,328.67 1720.31,328.71 1720.57,329.28 1720.82,328.15 1721.08,328.69 1721.33,328.54 1721.58,327.87 1721.84,328.78 1722.09,328.17 1722.35,329.07 1722.6,328.57 1722.86,328.47 1723.11,347.61 1723.37,348.98 1723.62,349.12 1723.88,351.1 1724.13,351.81 1724.39,354.23 1724.64,356.52 1724.9,358.8 1725.15,361.49 1725.4,363.29 1725.66,364.46 1725.91,366.53 1726.17,368.03 1726.42,369.2 1726.68,370.35 1726.93,372.27 1727.19,373.66 1727.44,375.03 1727.7,375.49 1727.95,376.73 1728.21,377.86 1728.46,378.5 1728.72,378.83 1728.97,380.05 1729.23,380.93 1729.48,381.36 1729.73,382.74 1729.99,383.25 1730.24,384.25 1730.5,385.28 1730.75,385.49 1731.01,385.98 1731.26,386.99 1731.52,387.36 1731.77,387.87 1732.03,388.52 1732.28,389.52 1732.54,389.55 1732.79,390.4 1733.05,390.78 1733.3,391.12 1733.56,391.37 1733.81,391.84 1734.06,391.87 1734.32,392.53 1734.57,392.84 1734.83,392.69 1735.08,393.09 1735.34,393.04 1735.59,393.6 1735.85,393.51 1736.1,394.19 1736.36,393.96 1736.61,394.38 1736.87,394.63 1737.12,394.74 1737.38,395.19 1737.63,395.2 1737.89,395.29 1738.14,395.25 1738.39,395.35 1738.65,395.81 1738.9,395.79 1739.16,396.09 1739.41,396.14 1739.67,396.78 1739.92,396.73 1740.18,396.72 1740.43,396.94 1740.69,396.87 1740.94,397.27 1741.2,396.94 1741.45,397.45 1741.71,397.7 1741.96,397.78 1742.22,397.88 1742.47,398.12 1742.72,397.95 1742.98,398.1 1743.23,398.51 1743.49,398.76 1743.74,398.48 1744,398.87 1744.25,398.76 1744.51,398.99 1744.76,398.93 1745.02,399.19 1745.27,399.04 1745.53,399.38 1745.78,399.38 1746.04,399.28 1746.29,399.71 1746.55,399.45 1746.8,399.52 1747.05,399.68 1747.31,399.69 1747.56,400.06 1747.82,399.69 1748.07,399.61 1748.33,399.57 1748.58,400.16 1748.84,400.13 1749.09,399.81 1749.35,400 1749.6,400.26 1749.86,400.11 1750.11,400.3 1750.37,400.24 1750.62,400.55 1750.88,400.26 1751.13,400.58 1751.38,400.34 1751.64,400.53 1751.89,400.84 1752.15,400.47 1752.4,400.72 1752.66,400.43 1752.91,400.71 1753.17,400.8 1753.42,401 1753.68,400.88 1753.93,400.73 1754.19,401.06 1754.44,401.01 1754.7,401.27 1754.95,401.33 1755.2,400.59 1755.46,401.17 1755.71,401.28 1755.97,401.06 1756.22,400.98 1756.48,401.21 1756.73,401.51 1756.99,401.29 1757.24,401.41 1757.5,401.44 1757.75,401.64 1758.01,401.46 1758.26,401.71 1758.52,401.19 1758.77,401.71 1759.03,401.5 1759.28,401.37 1759.53,401.55 1759.79,401.38 1760.04,401.68 1760.3,401.82 1760.55,401.33 1760.81,401.88 1761.06,401.81 1761.32,402.17 1761.57,401.92 1761.83,401.68 1762.08,402.1 1762.34,401.89 1762.59,402.01 1762.85,402.03 1763.1,402.2 1763.36,402.05 1763.61,401.97 1763.86,402.36 1764.12,402.11 1764.37,401.96 1764.63,402.25 1764.88,402.23 1765.14,402.41 1765.39,402.13 1765.65,402.23 1765.9,402.27 1766.16,402 1766.41,402.63 1766.67,402.32 1766.92,402.46 1767.18,402.33 1767.43,402.32 1767.69,401.83 1767.94,402.23 1768.19,402.33 1768.45,402.36 1768.7,402.2 1768.96,358.87 1769.21,354.53 1769.47,349.34 1769.72,345.04 1769.98,340.18 1770.23,335.34 1770.49,331.15 1770.74,327.97 1771,323.43 1771.25,320.13 1771.51,316.51 1771.76,312.85 1772.02,309.24 1772.27,307.13 1772.52,303.55 1772.78,300.97 1773.03,297.14 1773.29,295.32 1773.54,292.73 1773.8,289.45 1774.05,287.26 1774.31,285.47 1774.56,283.4 1774.82,281.33 1775.07,279.64 1775.33,277.11 1775.58,274.46 1775.84,272.13 1776.09,271.14 1776.35,269.16 1776.6,267.74 1776.85,265.91 1777.11,264.97 1777.36,261.36 1777.62,261.05 1777.87,259.97 1778.13,258.4 1778.38,258.65 1778.64,256.57 1778.89,255.5 1779.15,253.79 1779.4,252.95 1779.66,251.17 1779.91,250.95 1780.17,250.15 1780.42,249.23 1780.67,249.37 1780.93,248.3 1781.18,247.2 1781.44,246.31 1781.69,244.89 1781.95,243.51 1782.2,244.18 1782.46,243.65 1782.71,241.97 1782.97,241.85 1783.22,240.47 1783.48,242.24 1783.73,240.06 1783.99,239.24 1784.24,237.65 1784.5,239.19 1784.75,238.17 1785,237.12 1785.26,236.43 1785.51,236.91 1785.77,236.07 1786.02,236.4 1786.28,235.17 1786.53,235.66 1786.79,233.98 1787.04,233.8 1787.3,234.21 1787.55,234.7 1787.81,231.97 1788.06,233.55 1788.32,231.75 1788.57,232.3 1788.83,232.18 1789.08,232.24 1789.33,230.74 1789.59,231.5 1789.84,231.64 1790.1,231.53 1790.35,231.29 1790.61,231.14 1790.86,231.72 1791.12,231.44 1791.37,230.39 1791.63,228.38 1791.88,230.76 1792.14,230.98 1792.39,230.37 1792.65,230.36 1792.9,229.52 1793.16,229.37 1793.41,230.2 1793.66,227.66 1793.92,227.87 1794.17,227.59 1794.43,226.94 1794.68,227.65 1794.94,228.56 1795.19,228.64 1795.45,227.52 1795.7,228.14 1795.96,228.54 1796.21,228.68 1796.47,227.61 1796.72,226.95 1796.98,226.35 1797.23,228.03 1797.49,227.57 1797.74,228.07 1797.99,227.29 1798.25,227.63 1798.5,226.58 1798.76,227.31 1799.01,227.54 1799.27,228.82 1799.52,226.2 1799.78,227.84 1800.03,225.06 1800.29,291.18 1800.54,292.95 1800.8,296.69 1801.05,300.07 1801.31,304.73 1801.56,310.53 1801.82,316.03 1802.07,321.38 1802.32,324.18 1802.58,327.95 1802.83,332.22 1803.09,334.24 1803.34,337.62 1803.6,340.7 1803.85,343.29 1804.11,345.82 1804.36,347.69 1804.62,350.45 1804.87,352.21 1805.13,354.02 1805.38,356.11 1805.64,358.25 1805.89,360.32 1806.14,361.79 1806.4,363.08 1806.65,364.82 1806.91,366.64 1807.16,367.93 1807.42,369.24 1807.67,370.5 1807.93,372.19 1808.18,373.49 1808.44,374.95 1808.69,376.4 1808.95,376.99 1809.2,378.05 1809.46,378.53 1809.71,379.69 1809.97,380.2 1810.22,381.06 1810.47,381.4 1810.73,381.64 1810.98,383.11 1811.24,383.09 1811.49,383.77 1811.75,384.25 1812,384.37 1812.26,384.95 1812.51,385.67 1812.77,386.29 1813.02,386.85 1813.28,387.12 1813.53,387.25 1813.79,387.86 1814.04,387.93 1814.3,388.25 1814.55,388.8 1814.8,389.19 1815.06,389.54 1815.31,389.83 1815.57,390.21 1815.82,390.31 1816.08,390.89 1816.33,391.2 1816.59,391.71 1816.84,391.61 1817.1,392.45 1817.35,392.6 1817.61,392.82 1817.86,392.98 1818.12,393.46 1818.37,393.43 1818.63,393.8 1818.88,393.91 1819.13,394.45 1819.39,394.26 1819.64,394.4 1819.9,394.87 1820.15,395.41 1820.41,394.92 1820.66,395.17 1820.92,395.69 1821.17,395.23 1821.43,395.39 1821.68,395.97 1821.94,395.91 1822.19,396.04 1822.45,396.15 1822.7,396.69 1822.96,396.43 1823.21,396.72 1823.46,397.06 1823.72,397.08 1823.97,396.97 1824.23,397.19 1824.48,397.07 1824.74,397.33 1824.99,397.36 1825.25,397.46 1825.5,397.85 1825.76,397.72 1826.01,397.89 1826.27,397.74 1826.52,398.02 1826.78,398.31 1827.03,398.44 1827.28,398.35 1827.54,398.53 1827.79,398.24 1828.05,398.62 1828.3,398.3 1828.56,398.91 1828.81,398.72 1829.07,398.82 1829.32,398.86 1829.58,399.06 1829.83,399.09 1830.09,399.11 1830.34,399.16 1830.6,399.28 1830.85,399.41 1831.11,399.65 1831.36,399.64 1831.61,399.67 1831.87,399.7 1832.12,400.05 1832.38,399.77 1832.63,400.31 1832.89,400.29 1833.14,400.23 1833.4,400.12 1833.65,400.27 1833.91,400.58 1834.16,400.36 1834.42,400.31 1834.67,400.68 1834.93,400.6 1835.18,400.55 1835.44,400.73 1835.69,400.9 1835.94,400.99 1836.2,400.96 1836.45,400.77 1836.71,401.04 1836.96,401.25 1837.22,401.06 1837.47,401.35 1837.73,401.65 1837.98,401.63 1838.24,401.44 1838.49,401.5 1838.75,401.06 1839,401.29 1839.26,401.45 1839.51,401.34 1839.77,401.24 1840.02,401.43 1840.27,401.44 1840.53,401.45 1840.78,401.53 1841.04,401.55 1841.29,401.6 1841.55,401.56 1841.8,401.76 1842.06,401.74 1842.31,401.58 1842.57,401.79 1842.82,401.61 1843.08,401.49 1843.33,401.75 1843.59,401.66 1843.84,402.03 1844.1,401.86 1844.35,402.15 1844.6,401.86 1844.86,401.86 1845.11,401.92 1845.37,401.85 1845.62,401.89 1845.88,269.13 1846.13,257.19 1846.39,248.67 1846.64,238.52 1846.9,229.81 1847.15,221.65 1847.41,212.38 1847.66,204.16 1847.92,198.37 1848.17,189.68 1848.43,186.56 1848.68,176.99 1848.93,170.19 1849.19,165.47 1849.44,160.63 1849.7,156.2 1849.95,150.38 1850.21,146.09 1850.46,138.23 1850.72,137.4 1850.97,131.24 1851.23,126.82 1851.48,123.89 1851.74,121.35 1851.99,117.7 1852.25,113.92 1852.5,109.2 1852.76,108.94 1853.01,103.88 1853.26,100.09 1853.52,99.81 1853.77,93.72 1854.03,91.52 1854.28,90.23 1854.54,86.14 1854.79,87.14 1855.05,87.09 1855.3,82.81 1855.56,80.39 1855.81,79.99 1856.07,77.23 1856.32,74.54 1856.58,75.68 1856.83,71.34 1857.08,73.74 1857.34,72.4 1857.59,70.41 1857.85,68.45 1858.1,67.68 1858.36,68.67 1858.61,66.83 1858.87,62.75 1859.12,63.88 1859.38,60.23 1859.63,63.15 1859.89,61.2 1860.14,59.82 1860.4,60.83 1860.65,60.88 1860.91,62.57 1861.16,56.91 1861.41,57.68 1861.67,57.11 1861.92,54.47 1862.18,58.98 1862.43,57.22 1862.69,54.54 1862.94,55.04 1863.2,54.73 1863.45,55.46 1863.71,55.66 1863.96,52.69 1864.22,52.26 1864.47,49.07 1864.73,51.58 1864.98,50.34 1865.24,52.13 1865.49,51.38 1865.74,48.68 1866,49.68 1866.25,52.09 1866.51,49.57 1866.76,48.44 1867.02,48.93 1867.27,50.24 1867.53,52.51 1867.78,50.68 1868.04,50.66 1868.29,47.77 1868.55,47.59 1868.8,50.77 1869.06,45.71 1869.31,46.98 1869.57,45.46 1869.82,50.38 1870.07,47.64 1870.33,48.69 1870.58,49.95 1870.84,49.07 1871.09,48.27 1871.35,44.77 1871.6,47.75 1871.86,48.5 1872.11,47.15 1872.37,48.17 1872.62,47.16 1872.88,47.78 1873.13,46.55 1873.39,45.08 1873.64,46.33 1873.9,44.75 1874.15,47.57 1874.4,47.29 1874.66,42.06 1874.91,46.82 1875.17,45.98 1875.42,42.09 1875.68,45.22 1875.93,44.2 1876.19,45.02 1876.44,182.25 1876.7,188.55 1876.95,195.2 1877.21,200.53 1877.46,209.1 1877.72,221.88 1877.97,232.94 1878.22,243.21 1878.48,251.28 1878.73,257.62 1878.99,264.15 1879.24,271.5 1879.5,276.68 1879.75,282.49 1880.01,289.02 1880.26,293 1880.52,297.67 1880.77,302.3 1881.03,305.21 1881.28,310.35 1881.54,314.64 1881.79,318.26 1882.05,321.4 1882.3,325.33 1882.55,328.49 1882.81,332.61 1883.06,334.68 1883.32,338.04 1883.57,341.18 1883.83,342.94 1884.08,346.3 1884.34,348.97 1884.59,351.04 1884.85,353.07 1885.1,354.27 1885.36,355.81 1885.61,357.36 1885.87,359.03 1886.12,360.75 1886.38,361.44 1886.63,362.87 1886.88,363.72 1887.14,364.72 1887.39,365.54 1887.65,367.26 1887.9,367.76 1888.16,368.74 1888.41,370.28 1888.67,370.42 1888.92,371.32 1889.18,372.18 1889.43,373.1 1889.69,373.9 1889.94,374.84 1890.2,375.41 1890.45,376.14 1890.71,376.96 1890.96,377.17 1891.21,378.27 1891.47,378.87 1891.72,379.66 1891.98,380.11 1892.23,380.79 1892.49,381.46 1892.74,382.38 1893,382.81 1893.25,383.72 1893.51,383.45 1893.76,384.06 1894.02,384.64 1894.27,385.49 1894.53,385.89 1894.78,386.5 1895.04,386.72 1895.29,387.22 1895.54,387.28 1895.8,387.45 1896.05,387.63 1896.31,388.2 1896.56,388.31 1896.82,388.89 1897.07,388.95 1897.33,389.52 1897.58,389.79 1897.84,390.21 1898.09,390.53 1898.35,390.55 1898.6,390.42 1898.86,391.38 1899.11,391.22 1899.37,391.34 1899.62,391.95 1899.87,392.08 1900.13,392.15 1900.38,392.18 1900.64,392.82 1900.89,392.76 1901.15,392.94 1901.4,393.32 1901.66,393.25 1901.91,393.31 1902.17,393.67 1902.42,393.63 1902.68,394.03 1902.93,393.98 1903.19,394.34 1903.44,394.35 1903.69,394.59 1903.95,394.91 1904.2,395.26 1904.46,395.29 1904.71,395.56 1904.97,395.13 1905.22,395.65 1905.48,395.96 1905.73,396.06 1905.99,396.3 1906.24,396.17 1906.5,396.83 1906.75,396.82 1907.01,396.8 1907.26,396.98 1907.52,396.83 1907.77,397.43 1908.02,397.53 1908.28,397.84 1908.53,397.56 1908.79,398.15 1909.04,397.99 1909.3,398.42 1909.55,398.53 1909.81,398.6 1910.06,398.3 1910.32,398.83 1910.57,399.01 1910.83,398.71 1911.08,398.85 1911.34,399.36 1911.59,399.27 1911.85,399.29 1912.1,399.45 1912.35,399.37 1912.61,399.62 1912.86,399.72 1913.12,399.62 1913.37,399.81 1913.63,399.81 1913.88,399.68 1914.14,400.1 1914.39,399.62 1914.65,399.78 1914.9,400.18 1915.16,400.13 1915.41,399.99 1915.67,400.21 1915.92,400.08 1916.18,400.36 1916.43,400.25 1916.68,400.36 1916.94,400.31 1917.19,400.4 1917.45,400.61 1917.7,400.51 1917.96,400.77 1918.21,400.46 1918.47,400.85 1918.72,400.86 1918.98,400.62 1919.23,400.8 1919.49,400.9 1919.74,401.16 1920,401.21 1920.25,401.12 1920.51,401.23 1920.76,400.92 1921.01,401.11 1921.27,401.15 1921.52,401.05 1921.78,401.24 1922.03,401.45 1922.29,401.22 1922.54,401.26 1922.8,401.36 1923.05,401.65 1923.31,401.34 1923.56,401.37 1923.82,401.34 1924.07,401.4 1924.33,401.44 1924.58,401.6 1924.84,401.49 1925.09,401.51 1925.34,401.7 1925.6,401.62 1925.85,401.5 1926.11,401.83 1926.36,401.74 1926.62,401.75 1926.87,401.58 1927.13,401.82 1927.38,401.85 1927.64,401.57 1927.89,401.74 1928.15,401.76 1928.4,401.86 1928.66,401.87 1928.91,402.09 1929.16,401.99" fill="none" stroke="#ff0000" stroke-width="1.6" stroke-linejoin="round" />
<path d="M1432.5 403.15h0M1432.75 403.49h0M1433.01 403.15h0M1433.26 403.06h0M1433.52 403.26h0M1433.77 403.18h0M1434.03 403.03h0M1434.28 403.27h0M1434.54 402.88h0M1434.79 403.21h0M1435.05 403.15h0M1435.3 402.88h0M1435.56 403.1h0M1435.81 403.2h0M1436.07 403.19h0M1436.32 403.18h0M1436.58 403.16h0M1436.83 403.1h0M1437.08 402.9h0M1437.34 402.92h0M1437.59 403.29h0M1437.85 403.09h0M1438.1 403.26h0M1438.36 403.09h0M1438.61 403.28h0M1438.87 403.01h0M1439.12 403.03h0M1439.38 403.09h0M1439.63 403.23h0M1439.89 403.05h0M1440.14 402.92h0M1440.4 403.12h0M1440.65 403.23h0M1440.91 402.88h0M1441.16 403.17h0M1441.41 403.04h0M1441.67 403.05h0M1441.92 402.96h0M1442.18 403.21h0M1442.43 403.38h0M1442.69 403.37h0M1442.94 402.84h0M1443.2 403.21h0M1443.45 402.99h0M1443.71 403.13h0M1443.96 403.14h0M1444.22 403.25h0M1444.47 403.07h0M1444.73 403.29h0M1444.98 403.04h0M1445.23 403.1h0M1445.49 403.2h0M1445.74 403.1h0M1446 402.85h0M1446.25 403.11h0M1446.51 403.4h0M1446.76 402.98h0M1447.02 403.02h0M1447.27 403.12h0M1447.53 403.08h0M1447.78 403.07h0M1448.04 402.84h0M1448.29 403.1h0M1448.55 403.13h0M1448.8 403.05h0M1449.06 403.08h0M1449.31 403.25h0M1449.56 402.88h0M1449.82 403.11h0M1450.07 403.13h0M1450.33 402.97h0M1450.58 403.09h0M1450.84 403.21h0M1451.09 403.07h0M1451.35 403.03h0M1451.6 403.2h0M1451.86 403.23h0M1452.11 402.99h0M1452.37 403.06h0M1452.62 403.26h0M1452.88 403.17h0M1453.13 403.21h0M1453.39 402.85h0M1453.64 402.87h0M1453.89 402.97h0M1454.15 402.97h0M1454.4 403.18h0M1454.66 403.01h0M1454.91 403.08h0M1455.17 403.09h0M1455.42 402.89h0M1455.68 403.08h0M1455.93 403.34h0M1456.19 403.11h0M1456.44 403.27h0M1456.7 403.11h0M1456.95 403.35h0M1457.21 403.11h0M1457.46 402.88h0M1457.72 403.05h0M1457.97 402.86h0M1458.22 403.16h0M1458.48 403.31h0M1458.73 403.29h0M1458.99 403.27h0M1459.24 402.92h0M1459.5 403.1h0M1459.75 403.11h0M1460.01 403.06h0M1460.26 403.37h0M1460.52 403.41h0M1460.77 403.06h0M1461.03 402.88h0M1461.28 403.06h0M1461.54 403.15h0M1461.79 403.27h0M1462.05 403.03h0M1462.3 401.72h0M1462.55 401.64h0M1462.81 401.43h0M1463.06 401.2h0M1463.32 401.33h0M1463.57 401.35h0M1463.83 401.1h0M1464.08 401.07h0M1464.34 401.08h0M1464.59 400.72h0M1464.85 400.99h0M1465.1 400.87h0M1465.36 400.51h0M1465.61 400.49h0M1465.87 400.69h0M1466.12 400.56h0M1466.38 400.52h0M1466.63 400.27h0M1466.88 400.33h0M1467.14 400.59h0M1467.39 400.22h0M1467.65 400.32h0M1467.9 400.45h0M1468.16 400.27h0M1468.41 399.98h0M1468.67 399.97h0M1468.92 400h0M1469.18 399.67h0M1469.43 399.66h0M1469.69 399.76h0M1469.94 399.95h0M1470.2 399.55h0M1470.45 399.91h0M1470.7 399.71h0M1470.96 399.73h0M1471.21 399.51h0M1471.47 399.58h0M1471.72 399.39h0M1471.98 399.6h0M1472.23 399.81h0M1472.49 399.64h0M1472.74 399.43h0M1473 399.17h0M1473.25 399.7h0M1473.51 399.53h0M1473.76 399.31h0M1474.02 399.26h0M1474.27 399.33h0M1474.53 399.45h0M1474.78 399.31h0M1475.03 398.95h0M1475.29 398.98h0M1475.54 398.9h0M1475.8 399.04h0M1476.05 399.05h0M1476.31 399.36h0M1476.56 399.04h0M1476.82 399.27h0M1477.07 399.03h0M1477.33 398.96h0M1477.58 399.07h0M1477.84 399.2h0M1478.09 398.86h0M1478.35 398.81h0M1478.6 398.59h0M1478.86 398.9h0M1479.11 398.93h0M1479.36 398.93h0M1479.62 399.08h0M1479.87 398.76h0M1480.13 398.71h0M1480.38 398.93h0M1480.64 398.72h0M1480.89 398.62h0M1481.15 399h0M1481.4 399.02h0M1481.66 398.81h0M1481.91 398.88h0M1482.17 398.68h0M1482.42 398.61h0M1482.68 398.6h0M1482.93 398.73h0M1483.19 398.6h0M1483.44 398.57h0M1483.69 398.76h0M1483.95 398.82h0M1484.2 398.63h0M1484.46 398.71h0M1484.71 398.76h0M1484.97 398.64h0M1485.22 398.89h0M1485.48 399.15h0M1485.73 398.62h0M1485.99 398.8h0M1486.24 398.47h0M1486.5 398.49h0M1486.75 398.44h0M1487.01 398.7h0M1487.26 398.68h0M1487.52 398.86h0M1487.77 398.62h0M1488.02 398.56h0M1488.28 398.8h0M1488.53 398.46h0M1488.79 398.65h0M1489.04 398.31h0M1489.3 398.55h0M1489.55 398.44h0M1489.81 398.3h0M1490.06 398.4h0M1490.32 398.33h0M1490.57 398.46h0M1490.83 398.72h0M1491.08 398.69h0M1491.34 398.35h0M1491.59 398.57h0M1491.85 398.03h0M1492.1 398.4h0M1492.35 398.37h0M1492.61 398.63h0M1492.86 398.14h0M1493.12 398.47h0M1493.37 398.41h0M1493.63 398.5h0M1493.88 398.49h0M1494.14 398.25h0M1494.39 398.2h0M1494.65 398.45h0M1494.9 398.34h0M1495.16 398.35h0M1495.41 398.4h0M1495.67 398.71h0M1495.92 398.64h0M1496.17 398.72h0M1496.43 398.9h0M1496.68 398.59h0M1496.94 398.64h0M1497.19 398.9h0M1497.45 399.03h0M1497.7 399.01h0M1497.96 399.08h0M1498.21 399.19h0M1498.47 399.64h0M1498.72 399.65h0M1498.98 399.72h0M1499.23 399.68h0M1499.49 400.15h0M1499.74 399.81h0M1500 400.07h0M1500.25 400.07h0M1500.5 400.21h0M1500.76 400.36h0M1501.01 400.03h0M1501.27 400.16h0M1501.52 400.34h0M1501.78 400.46h0M1502.03 400.51h0M1502.29 400.5h0M1502.54 400.71h0M1502.8 400.82h0M1503.05 400.65h0M1503.31 400.68h0M1503.56 401h0M1503.82 400.86h0M1504.07 400.96h0M1504.33 400.88h0M1504.58 401.08h0M1504.83 401.02h0M1505.09 400.73h0M1505.34 401.36h0M1505.6 401.06h0M1505.85 401.28h0M1506.11 401.3h0M1506.36 401.23h0M1506.62 401.23h0M1506.87 401.14h0M1507.13 401.35h0M1507.38 401.49h0M1507.64 401.55h0M1507.89 401.17h0M1508.15 401.22h0M1508.4 401.53h0M1508.66 401.53h0M1508.91 401.46h0M1509.16 401.6h0M1509.42 401.69h0M1509.67 401.61h0M1509.93 401.74h0M1510.18 401.83h0M1510.44 401.8h0M1510.69 401.86h0M1510.95 401.8h0M1511.2 401.76h0M1511.46 401.8h0M1511.71 401.97h0M1511.97 401.98h0M1512.22 401.8h0M1512.48 401.88h0M1512.73 401.92h0M1512.99 401.71h0M1513.24 402.28h0M1513.49 401.88h0M1513.75 402.01h0M1514 402.09h0M1514.26 402.03h0M1514.51 401.91h0M1514.77 401.96h0M1515.02 402.09h0M1515.28 402.44h0M1515.53 402.37h0M1515.79 402.25h0M1516.04 402.19h0M1516.3 402.41h0M1516.55 402.36h0M1516.81 402.16h0M1517.06 402.2h0M1517.32 402.38h0M1517.57 402.11h0M1517.82 402.37h0M1518.08 402.37h0M1518.33 402.3h0M1518.59 402.28h0M1518.84 402.35h0M1519.1 402.38h0M1519.35 402.33h0M1519.61 402.43h0M1519.86 402.31h0M1520.12 402.21h0M1520.37 402.43h0M1520.63 402.3h0M1520.88 402.42h0M1521.14 402.29h0M1521.39 402.38h0M1521.64 402.5h0M1521.9 401.96h0M1522.15 402.51h0M1522.41 402.42h0M1522.66 402.33h0M1522.92 402.52h0M1523.17 402.68h0M1523.43 402.25h0M1523.68 402.66h0M1523.94 402.39h0M1524.19 402.61h0M1524.45 402.7h0M1524.7 402.55h0M1524.96 402.48h0M1525.21 402.73h0M1525.47 402.43h0M1525.72 402.46h0M1525.97 402.5h0M1526.23 402.76h0M1526.48 402.86h0M1526.74 402.62h0M1526.99 402.71h0M1527.25 402.84h0M1527.5 402.53h0M1527.76 402.63h0M1528.01 402.43h0M1528.27 402.46h0M1528.52 402.69h0M1528.78 402.25h0M1529.03 402.59h0M1529.29 402.4h0M1529.54 402.82h0M1529.8 402.88h0M1530.05 403.07h0M1530.3 402.85h0M1530.56 402.81h0M1530.81 402.43h0M1531.07 402.87h0M1531.32 402.35h0M1531.58 402.96h0M1531.83 402.77h0M1532.09 402.87h0M1532.34 402.77h0M1532.6 402.96h0M1532.85 402.65h0M1533.11 402.5h0M1533.36 402.67h0M1533.62 402.69h0M1533.87 402.62h0M1534.13 403.06h0M1534.38 402.88h0M1534.63 402.67h0M1534.89 402.64h0M1535.14 402.95h0M1535.4 402.43h0M1535.65 402.82h0M1535.91 402.51h0M1536.16 402.83h0M1536.42 402.73h0M1536.67 402.55h0M1536.93 402.67h0M1537.18 402.72h0M1537.44 402.75h0M1537.69 402.78h0M1537.95 402.71h0M1538.2 403.03h0M1538.46 402.85h0M1538.71 402.6h0M1538.96 398.45h0M1539.22 398.26h0M1539.47 398.21h0M1539.73 397.72h0M1539.98 397.79h0M1540.24 397.68h0M1540.49 397.29h0M1540.75 397.44h0M1541 396.82h0M1541.26 396.92h0M1541.51 396.68h0M1541.77 396.92h0M1542.02 396.68h0M1542.28 396.45h0M1542.53 396.12h0M1542.79 396.51h0M1543.04 396.07h0M1543.29 395.98h0M1543.55 395.97h0M1543.8 395.89h0M1544.06 395.68h0M1544.31 395.61h0M1544.57 395.37h0M1544.82 395.65h0M1545.08 395.57h0M1545.33 395.41h0M1545.59 395.21h0M1545.84 395.21h0M1546.1 395.17h0M1546.35 395h0M1546.61 394.86h0M1546.86 394.88h0M1547.12 394.66h0M1547.37 394.75h0M1547.62 394.57h0M1547.88 394.87h0M1548.13 394.41h0M1548.39 394.4h0M1548.64 394.36h0M1548.9 393.99h0M1549.15 394.31h0M1549.41 394.27h0M1549.66 394.01h0M1549.92 393.95h0M1550.17 393.95h0M1550.43 393.76h0M1550.68 393.84h0M1550.94 393.83h0M1551.19 394.1h0M1551.44 393.81h0M1551.7 394.24h0M1551.95 393.68h0M1552.21 393.5h0M1552.46 393.68h0M1552.72 393.71h0M1552.97 393.7h0M1553.23 393.63h0M1553.48 393.76h0M1553.74 393.72h0M1553.99 393.46h0M1554.25 393.4h0M1554.5 393.2h0M1554.76 393.41h0M1555.01 393.38h0M1555.27 393.37h0M1555.52 393.52h0M1555.77 393.4h0M1556.03 393.03h0M1556.28 393.34h0M1556.54 393.35h0M1556.79 393.5h0M1557.05 393.5h0M1557.3 393.01h0M1557.56 393.36h0M1557.81 393.32h0M1558.07 393.33h0M1558.32 393.08h0M1558.58 393.23h0M1558.83 393.48h0M1559.09 393.47h0M1559.34 393.21h0M1559.6 392.99h0M1559.85 392.91h0M1560.1 393.04h0M1560.36 393.3h0M1560.61 392.95h0M1560.87 392.84h0M1561.12 393.14h0M1561.38 393.01h0M1561.63 393.04h0M1561.89 393.16h0M1562.14 392.64h0M1562.4 393.38h0M1562.65 392.91h0M1562.91 393.2h0M1563.16 393.15h0M1563.42 393.19h0M1563.67 392.82h0M1563.93 393.18h0M1564.18 392.92h0M1564.43 393.05h0M1564.69 393.04h0M1564.94 392.8h0M1565.2 393.3h0M1565.45 393.01h0M1565.71 392.8h0M1565.96 393.02h0M1566.22 392.9h0M1566.47 392.6h0M1566.73 392.91h0M1566.98 393.04h0M1567.24 392.94h0M1567.49 392.66h0M1567.75 392.76h0M1568 392.83h0M1568.26 392.68h0M1568.51 392.9h0M1568.76 392.74h0M1569.02 392.93h0M1569.27 394.06h0M1569.53 393.87h0M1569.78 394.26h0M1570.04 394.33h0M1570.29 394.14h0M1570.55 394.59h0M1570.8 394.83h0M1571.06 394.89h0M1571.31 395.32h0M1571.57 395.42h0M1571.82 395.73h0M1572.08 396.15h0M1572.33 396.3h0M1572.59 396.36h0M1572.84 396.85h0M1573.09 396.96h0M1573.35 396.81h0M1573.6 397.34h0M1573.86 397.16h0M1574.11 397.45h0M1574.37 398.06h0M1574.62 398.09h0M1574.88 398.07h0M1575.13 397.96h0M1575.39 398.25h0M1575.64 398.21h0M1575.9 398.83h0M1576.15 398.58h0M1576.41 398.73h0M1576.66 398.92h0M1576.91 398.99h0M1577.17 399.16h0M1577.42 399.22h0M1577.68 399.12h0M1577.93 399.23h0M1578.19 399.47h0M1578.44 399.45h0M1578.7 399.67h0M1578.95 399.79h0M1579.21 399.74h0M1579.46 400.2h0M1579.72 399.95h0M1579.97 399.86h0M1580.23 400.06h0M1580.48 400.23h0M1580.74 400.01h0M1580.99 400.42h0M1581.24 400.24h0M1581.5 400.67h0M1581.75 400.45h0M1582.01 400.61h0M1582.26 400.71h0M1582.52 400.65h0M1582.77 401.08h0M1583.03 400.84h0M1583.28 401.02h0M1583.54 401.41h0M1583.79 400.97h0M1584.05 401.21h0M1584.3 401.32h0M1584.56 400.98h0M1584.81 401.21h0M1585.07 401.16h0M1585.32 401.71h0M1585.57 401.3h0M1585.83 401.5h0M1586.08 401.15h0M1586.34 401.41h0M1586.59 401.25h0M1586.85 401.55h0M1587.1 401.5h0M1587.36 401.46h0M1587.61 401.58h0M1587.87 401.53h0M1588.12 401.38h0M1588.38 401.45h0M1588.63 401.49h0M1588.89 401.76h0M1589.14 401.6h0M1589.4 401.45h0M1589.65 401.63h0M1589.9 401.68h0M1590.16 401.8h0M1590.41 401.9h0M1590.67 401.62h0M1590.92 402.02h0M1591.18 401.8h0M1591.43 402.01h0M1591.69 402.01h0M1591.94 401.87h0M1592.2 402.06h0M1592.45 401.92h0M1592.71 401.75h0M1592.96 401.85h0M1593.22 401.96h0M1593.47 402.14h0M1593.73 402.04h0M1593.98 401.71h0M1594.23 402.23h0M1594.49 402.13h0M1594.74 402.14h0M1595 402.08h0M1595.25 401.96h0M1595.51 402.54h0M1595.76 402.32h0M1596.02 402.28h0M1596.27 402.22h0M1596.53 402.15h0M1596.78 402.23h0M1597.04 402.18h0M1597.29 402.31h0M1597.55 402.19h0M1597.8 402.14h0M1598.06 402.45h0M1598.31 402.32h0M1598.56 402.19h0M1598.82 402.24h0M1599.07 402.29h0M1599.33 402.3h0M1599.58 402.47h0M1599.84 402.01h0M1600.09 402.47h0M1600.35 402.62h0M1600.6 402.51h0M1600.86 402.54h0M1601.11 402.32h0M1601.37 402.45h0M1601.62 402.47h0M1601.88 402.43h0M1602.13 402.67h0M1602.38 402.8h0M1602.64 402.39h0M1602.89 402.19h0M1603.15 402.2h0M1603.4 402.23h0M1603.66 402.45h0M1603.91 402.58h0M1604.17 402.32h0M1604.42 402.42h0M1604.68 402.51h0M1604.93 402.61h0M1605.19 402.5h0M1605.44 402.62h0M1605.7 402.55h0M1605.95 402.25h0M1606.21 402.52h0M1606.46 402.68h0M1606.71 402.7h0M1606.97 402.56h0M1607.22 402.72h0M1607.48 402.47h0M1607.73 402.81h0M1607.99 402.87h0M1608.24 402.68h0M1608.5 402.54h0M1608.75 402.4h0M1609.01 402.71h0M1609.26 402.68h0M1609.52 402.91h0M1609.77 402.38h0M1610.03 402.65h0M1610.28 402.89h0M1610.54 402.75h0M1610.79 402.8h0M1611.04 402.65h0M1611.3 402.58h0M1611.55 402.48h0M1611.81 403.02h0M1612.06 402.5h0M1612.32 402.5h0M1612.57 402.83h0M1612.83 402.87h0M1613.08 402.64h0M1613.34 402.86h0M1613.59 402.83h0M1613.85 402.87h0M1614.1 402.62h0M1614.36 402.5h0M1614.61 402.55h0M1614.87 402.62h0M1615.12 402.65h0M1615.37 402.79h0M1615.63 392.02h0M1615.88 391.1h0M1616.14 390.99h0M1616.39 390.31h0M1616.65 390.11h0M1616.9 389.43h0M1617.16 389.3h0M1617.41 389.19h0M1617.67 388.61h0M1617.92 388.81h0M1618.18 387.95h0M1618.43 387.74h0M1618.69 387.31h0M1618.94 386.92h0M1619.2 386.85h0M1619.45 386.65h0M1619.7 386.24h0M1619.96 386.13h0M1620.21 385.42h0M1620.47 385.5h0M1620.72 385.19h0M1620.98 384.76h0M1621.23 384.74h0M1621.49 384.68h0M1621.74 384.81h0M1622 383.8h0M1622.25 383.95h0M1622.51 383.99h0M1622.76 383.58h0M1623.02 383.6h0M1623.27 383.31h0M1623.53 382.82h0M1623.78 383.07h0M1624.03 382.76h0M1624.29 382.49h0M1624.54 382.37h0M1624.8 382.42h0M1625.05 381.87h0M1625.31 381.62h0M1625.56 382.08h0M1625.82 381.9h0M1626.07 381.4h0M1626.33 381.53h0M1626.58 381.39h0M1626.84 381.26h0M1627.09 381.1h0M1627.35 381.42h0M1627.6 380.98h0M1627.85 380.86h0M1628.11 381.02h0M1628.36 380.72h0M1628.62 380.86h0M1628.87 380.43h0M1629.13 380.51h0M1629.38 380.23h0M1629.64 380.49h0M1629.89 380.17h0M1630.15 379.9h0M1630.4 379.8h0M1630.66 379.88h0M1630.91 379.8h0M1631.17 379.92h0M1631.42 379.79h0M1631.68 380.32h0M1631.93 379.89h0M1632.18 379.92h0M1632.44 379.4h0M1632.69 379.21h0M1632.95 379.66h0M1633.2 379.99h0M1633.46 379.63h0M1633.71 379.22h0M1633.97 379.4h0M1634.22 379.86h0M1634.48 379.36h0M1634.73 378.85h0M1634.99 379.19h0M1635.24 379.09h0M1635.5 379.41h0M1635.75 379.47h0M1636.01 378.75h0M1636.26 378.91h0M1636.51 378.73h0M1636.77 379.22h0M1637.02 378.98h0M1637.28 379.05h0M1637.53 379.17h0M1637.79 379.39h0M1638.04 378.91h0M1638.3 378.55h0M1638.55 379.01h0M1638.81 378.62h0M1639.06 378.77h0M1639.32 378.71h0M1639.57 378.94h0M1639.83 379.05h0M1640.08 378.59h0M1640.34 378.37h0M1640.59 379.36h0M1640.84 378.57h0M1641.1 378.39h0M1641.35 378.34h0M1641.61 378.54h0M1641.86 378.74h0M1642.12 378.71h0M1642.37 378.75h0M1642.63 378.55h0M1642.88 378.5h0M1643.14 378.61h0M1643.39 378.16h0M1643.65 378.53h0M1643.9 378.66h0M1644.16 378.51h0M1644.41 378.25h0M1644.67 378.66h0M1644.92 378.45h0M1645.17 378.71h0M1645.43 378.68h0M1645.68 378.75h0M1645.94 378.54h0M1646.19 382.28h0M1646.45 382.82h0M1646.7 382.94h0M1646.96 383.28h0M1647.21 383.85h0M1647.47 384.37h0M1647.72 385.38h0M1647.98 386.12h0M1648.23 386.42h0M1648.49 387.25h0M1648.74 388.24h0M1648.99 388.33h0M1649.25 388.72h0M1649.5 389.59h0M1649.76 390.13h0M1650.01 390.21h0M1650.27 390.84h0M1650.52 391.24h0M1650.78 392.39h0M1651.03 392.38h0M1651.29 392.56h0M1651.54 392.67h0M1651.8 393.3h0M1652.05 393.26h0M1652.31 393.88h0M1652.56 393.87h0M1652.82 394.31h0M1653.07 394.26h0M1653.32 394.43h0M1653.58 394.89h0M1653.83 395.17h0M1654.09 395.61h0M1654.34 395.6h0M1654.6 396.07h0M1654.85 396.01h0M1655.11 396.55h0M1655.36 396.97h0M1655.62 397.23h0M1655.87 397.14h0M1656.13 397.36h0M1656.38 397.78h0M1656.64 398.14h0M1656.89 398.1h0M1657.15 398.09h0M1657.4 398.31h0M1657.65 398.59h0M1657.91 398.5h0M1658.16 398.4h0M1658.42 398.77h0M1658.67 398.8h0M1658.93 398.76h0M1659.18 399h0M1659.44 398.9h0M1659.69 398.82h0M1659.95 399.2h0M1660.2 399.44h0M1660.46 399.2h0M1660.71 399.41h0M1660.97 399.47h0M1661.22 399.7h0M1661.48 399.94h0M1661.73 399.78h0M1661.98 399.82h0M1662.24 400.08h0M1662.49 399.92h0M1662.75 399.95h0M1663 400.01h0M1663.26 400.06h0M1663.51 400.35h0M1663.77 400.32h0M1664.02 400.5h0M1664.28 400.25h0M1664.53 400.28h0M1664.79 400.41h0M1665.04 400.34h0M1665.3 400.64h0M1665.55 400.48h0M1665.81 400.6h0M1666.06 400.74h0M1666.31 400.52h0M1666.57 400.98h0M1666.82 400.93h0M1667.08 400.9h0M1667.33 400.92h0M1667.59 401.29h0M1667.84 401.2h0M1668.1 401.23h0M1668.35 401.14h0M1668.61 401.18h0M1668.86 401.4h0M1669.12 401.09h0M1669.37 400.93h0M1669.63 401.31h0M1669.88 401.29h0M1670.14 401.65h0M1670.39 401.29h0M1670.64 401.52h0M1670.9 401.49h0M1671.15 401.48h0M1671.41 401.42h0M1671.66 401.76h0M1671.92 401.56h0M1672.17 401.8h0M1672.43 401.56h0M1672.68 401.8h0M1672.94 401.91h0M1673.19 401.67h0M1673.45 401.63h0M1673.7 401.84h0M1673.96 401.83h0M1674.21 401.59h0M1674.46 401.89h0M1674.72 401.83h0M1674.97 401.99h0M1675.23 401.53h0M1675.48 401.67h0M1675.74 401.69h0M1675.99 402.08h0M1676.25 401.83h0M1676.5 401.88h0M1676.76 401.93h0M1677.01 401.83h0M1677.27 402.03h0M1677.52 402.31h0M1677.78 402.21h0M1678.03 402.12h0M1678.29 401.87h0M1678.54 402.21h0M1678.79 402.11h0M1679.05 402.25h0M1679.3 402.06h0M1679.56 402.04h0M1679.81 401.98h0M1680.07 402.13h0M1680.32 402.35h0M1680.58 402.01h0M1680.83 402.14h0M1681.09 402.02h0M1681.34 402.47h0M1681.6 402.32h0M1681.85 402.37h0M1682.11 402.38h0M1682.36 402.17h0M1682.62 402.13h0M1682.87 402.23h0M1683.12 402.18h0M1683.38 402.24h0M1683.63 402.52h0M1683.89 402.23h0M1684.14 402.41h0M1684.4 402.45h0M1684.65 402.52h0M1684.91 402.4h0M1685.16 402.46h0M1685.42 402.32h0M1685.67 402.44h0M1685.93 402.55h0M1686.18 402.3h0M1686.44 402.53h0M1686.69 402.4h0M1686.95 402.52h0M1687.2 402.43h0M1687.45 402.36h0M1687.71 402.66h0M1687.96 402.54h0M1688.22 402.58h0M1688.47 402.62h0M1688.73 402.77h0M1688.98 402.56h0M1689.24 402.5h0M1689.49 402.78h0M1689.75 402.61h0M1690 402.61h0M1690.26 402.54h0M1690.51 402.75h0M1690.77 402.45h0M1691.02 402.76h0M1691.28 402.91h0M1691.53 402.63h0M1691.78 402.34h0M1692.04 402.69h0M1692.29 402.71h0M1692.55 402.72h0M1692.8 372.48h0M1693.06 371.98h0M1693.31 370.46h0M1693.57 368.9h0M1693.82 368.11h0M1694.08 367.04h0M1694.33 365.53h0M1694.59 363.51h0M1694.84 362.79h0M1695.1 361.23h0M1695.35 360.5h0M1695.61 359.8h0M1695.86 359.25h0M1696.11 357.84h0M1696.37 357.63h0M1696.62 356.03h0M1696.88 354.13h0M1697.13 353.78h0M1697.39 353.43h0M1697.64 352.58h0M1697.9 351.84h0M1698.15 351.19h0M1698.41 350.72h0M1698.66 349.04h0M1698.92 349.49h0M1699.17 348.47h0M1699.43 347.3h0M1699.68 347.16h0M1699.93 346.85h0M1700.19 345.74h0M1700.44 344.92h0M1700.7 344.61h0M1700.95 343.95h0M1701.21 343.41h0M1701.46 342.77h0M1701.72 342.49h0M1701.97 342.18h0M1702.23 341.35h0M1702.48 341.02h0M1702.74 340.17h0M1702.99 340.53h0M1703.25 339.9h0M1703.5 339.67h0M1703.76 339.49h0M1704.01 338.79h0M1704.26 338.01h0M1704.52 338.55h0M1704.77 337.36h0M1705.03 337.83h0M1705.28 337.29h0M1705.54 337.02h0M1705.79 336.94h0M1706.05 336.07h0M1706.3 336.1h0M1706.56 334.97h0M1706.81 335.34h0M1707.07 334.97h0M1707.32 335.09h0M1707.58 334.52h0M1707.83 334.29h0M1708.09 334.17h0M1708.34 333.59h0M1708.59 333.67h0M1708.85 333.62h0M1709.1 333.99h0M1709.36 333.73h0M1709.61 332.53h0M1709.87 333.16h0M1710.12 333.47h0M1710.38 333.31h0M1710.63 333.02h0M1710.89 332.34h0M1711.14 332.12h0M1711.4 331.37h0M1711.65 332.23h0M1711.91 331.26h0M1712.16 331.98h0M1712.42 330.74h0M1712.67 330.48h0M1712.92 330.91h0M1713.18 331.16h0M1713.43 330.36h0M1713.69 331.27h0M1713.94 330.23h0M1714.2 330.62h0M1714.45 330.1h0M1714.71 330.62h0M1714.96 329.98h0M1715.22 330.27h0M1715.47 330.1h0M1715.73 329.71h0M1715.98 329.93h0M1716.24 329.43h0M1716.49 329.1h0M1716.75 330.14h0M1717 329.43h0M1717.25 329.21h0M1717.51 329.31h0M1717.76 328.51h0M1718.02 329.37h0M1718.27 329.28h0M1718.53 328.74h0M1718.78 329.35h0M1719.04 328.79h0M1719.29 329.07h0M1719.55 329.28h0M1719.8 328.15h0M1720.06 328.67h0M1720.31 328.71h0M1720.57 329.28h0M1720.82 328.15h0M1721.08 328.69h0M1721.33 328.54h0M1721.58 327.87h0M1721.84 328.78h0M1722.09 328.17h0M1722.35 329.07h0M1722.6 328.57h0M1722.86 328.47h0M1723.11 347.61h0M1723.37 348.98h0M1723.62 349.12h0M1723.88 351.1h0M1724.13 351.81h0M1724.39 354.23h0M1724.64 356.52h0M1724.9 358.8h0M1725.15 361.49h0M1725.4 363.29h0M1725.66 364.46h0M1725.91 366.53h0M1726.17 368.03h0M1726.42 369.2h0M1726.68 370.35h0M1726.93 372.27h0M1727.19 373.66h0M1727.44 375.03h0M1727.7 375.49h0M1727.95 376.73h0M1728.21 377.86h0M1728.46 378.5h0M1728.72 378.83h0M1728.97 380.05h0M1729.23 380.93h0M1729.48 381.36h0M1729.73 382.74h0M1729.99 383.25h0M1730.24 384.25h0M1730.5 385.28h0M1730.75 385.49h0M1731.01 385.98h0M1731.26 386.99h0M1731.52 387.36h0M1731.77 387.87h0M1732.03 388.52h0M1732.28 389.52h0M1732.54 389.55h0M1732.79 390.4h0M1733.05 390.78h0M1733.3 391.12h0M1733.56 391.37h0M1733.81 391.84h0M1734.06 391.87h0M1734.32 392.53h0M1734.57 392.84h0M1734.83 392.69h0M1735.08 393.09h0M1735.34 393.04h0M1735.59 393.6h0M1735.85 393.51h0M1736.1 394.19h0M1736.36 393.96h0M1736.61 394.38h0M1736.87 394.63h0M1737.12 394.74h0M1737.38 395.19h0M1737.63 395.2h0M1737.89 395.29h0M1738.14 395.25h0M1738.39 395.35h0M1738.65 395.81h0M1738.9 395.79h0M1739.16 396.09h0M1739.41 396.14h0M1739.67 396.78h0M1739.92 396.73h0M1740.18 396.72h0M1740.43 396.94h0M1740.69 396.87h0M1740.94 397.27h0M1741.2 396.94h0M1741.45 397.45h0M1741.71 397.7h0M1741.96 397.78h0M1742.22 397.88h0M1742.47 398.12h0M1742.72 397.95h0M1742.98 398.1h0M1743.23 398.51h0M1743.49 398.76h0M1743.74 398.48h0M1744 398.87h0M1744.25 398.76h0M1744.51 398.99h0M1744.76 398.93h0M1745.02 399.19h0M1745.27 399.04h0M1745.53 399.38h0M1745.78 399.38h0M1746.04 399.28h0M1746.29 399.71h0M1746.55 399.45h0M1746.8 399.52h0M1747.05 399.68h0M1747.31 399.69h0M1747.56 400.06h0M1747.82 399.69h0M1748.07 399.61h0M1748.33 399.57h0M1748.58 400.16h0M1748.84 400.13h0M1749.09 399.81h0M1749.35 400h0M1749.6 400.26h0M1749.86 400.11h0M1750.11 400.3h0M1750.37 400.24h0M1750.62 400.55h0M1750.88 400.26h0M1751.13 400.58h0M1751.38 400.34h0M1751.64 400.53h0M1751.89 400.84h0M1752.15 400.47h0M1752.4 400.72h0M1752.66 400.43h0M1752.91 400.71h0M1753.17 400.8h0M1753.42 401h0M1753.68 400.88h0M1753.93 400.73h0M1754.19 401.06h0M1754.44 401.01h0M1754.7 401.27h0M1754.95 401.33h0M1755.2 400.59h0M1755.46 401.17h0M1755.71 401.28h0M1755.97 401.06h0M1756.22 400.98h0M1756.48 401.21h0M1756.73 401.51h0M1756.99 401.29h0M1757.24 401.41h0M1757.5 401.44h0M1757.75 401.64h0M1758.01 401.46h0M1758.26 401.71h0M1758.52 401.19h0M1758.77 401.71h0M1759.03 401.5h0M1759.28 401.37h0M1759.53 401.55h0M1759.79 401.38h0M1760.04 401.68h0M1760.3 401.82h0M1760.55 401.33h0M1760.81 401.88h0M1761.06 401.81h0M1761.32 402.17h0M1761.57 401.92h0M1761.83 401.68h0M1762.08 402.1h0M1762.34 401.89h0M1762.59 402.01h0M1762.85 402.03h0M1763.1 402.2h0M1763.36 402.05h0M1763.61 401.97h0M1763.86 402.36h0M1764.12 402.11h0M1764.37 401.96h0M1764.63 402.25h0M1764.88 402.23h0M1765.14 402.41h0M1765.39 402.13h0M1765.65 402.23h0M1765.9 402.27h0M1766.16 402h0M1766.41 402.63h0M1766.67 402.32h0M1766.92 402.46h0M1767.18 402.33h0M1767.43 402.32h0M1767.69 401.83h0M1767.94 402.23h0M1768.19 402.33h0M1768.45 402.36h0M1768.7 402.2h0M1768.96 358.87h0M1769.21 354.53h0M1769.47 349.34h0M1769.72 345.04h0M1769.98 340.18h0M1770.23 335.34h0M1770.49 331.15h0M1770.74 327.97h0M1771 323.43h0M1771.25 320.13h0M1771.51 316.51h0M1771.76 312.85h0M1772.02 309.24h0M1772.27 307.13h0M1772.52 303.55h0M1772.78 300.97h0M1773.03 297.14h0M1773.29 295.32h0M1773.54 292.73h0M1773.8 289.45h0M1774.05 287.26h0M1774.31 285.47h0M1774.56 283.4h0M1774.82 281.33h0M1775.07 279.64h0M1775.33 277.11h0M1775.58 274.46h0M1775.84 272.13h0M1776.09 271.14h0M1776.35 269.16h0M1776.6 267.74h0M1776.85 265.91h0M1777.11 264.97h0M1777.36 261.36h0M1777.62 261.05h0M1777.87 259.97h0M1778.13 258.4h0M1778.38 258.65h0M1778.64 256.57h0M1778.89 255.5h0M1779.15 253.79h0M1779.4 252.95h0M1779.66 251.17h0M1779.91 250.95h0M1780.17 250.15h0M1780.42 249.23h0M1780.67 249.37h0M1780.93 248.3h0M1781.18 247.2h0M1781.44 246.31h0M1781.69 244.89h0M1781.95 243.51h0M1782.2 244.18h0M1782.46 243.65h0M1782.71 241.97h0M1782.97 241.85h0M1783.22 240.47h0M1783.48 242.24h0M1783.73 240.06h0M1783.99 239.24h0M1784.24 237.65h0M1784.5 239.19h0M1784.75 238.17h0M1785 237.12h0M1785.26 236.43h0M1785.51 236.91h0M1785.77 236.07h0M1786.02 236.4h0M1786.28 235.17h0M1786.53 235.66h0M1786.79 233.98h0M1787.04 233.8h0M1787.3 234.21h0M1787.55 234.7h0M1787.81 231.97h0M1788.06 233.55h0M1788.32 231.75h0M1788.57 232.3h0M1788.83 232.18h0M1789.08 232.24h0M1789.33 230.74h0M1789.59 231.5h0M1789.84 231.64h0M1790.1 231.53h0M1790.35 231.29h0M1790.61 231.14h0M1790.86 231.72h0M1791.12 231.44h0M1791.37 230.39h0M1791.63 228.38h0M1791.88 230.76h0M1792.14 230.98h0M1792.39 230.37h0M1792.65 230.36h0M1792.9 229.52h0M1793.16 229.37h0M1793.41 230.2h0M1793.66 227.66h0M1793.92 227.87h0M1794.17 227.59h0M1794.43 226.94h0M1794.68 227.65h0M1794.94 228.56h0M1795.19 228.64h0M1795.45 227.52h0M1795.7 228.14h0M1795.96 228.54h0M1796.21 228.68h0M1796.47 227.61h0M1796.72 226.95h0M1796.98 226.35h0M1797.23 228.03h0M1797.49 227.57h0M1797.74 228.07h0M1797.99 227.29h0M1798.25 227.63h0M1798.5 226.58h0M1798.76 227.31h0M1799.01 227.54h0M1799.27 228.82h0M1799.52 226.2h0M1799.78 227.84h0M1800.03 225.06h0M1800.29 291.18h0M1800.54 292.95h0M1800.8 296.69h0M1801.05 300.07h0M1801.31 304.73h0M1801.56 310.53h0M1801.82 316.03h0M1802.07 321.38h0M1802.32 324.18h0M1802.58 327.95h0M1802.83 332.22h0M1803.09 334.24h0M1803.34 337.62h0M1803.6 340.7h0M1803.85 343.29h0M1804.11 345.82h0M1804.36 347.69h0M1804.62 350.45h0M1804.87 352.21h0M1805.13 354.02h0M1805.38 356.11h0M1805.64 358.25h0M1805.89 360.32h0M1806.14 361.79h0M1806.4 363.08h0M1806.65 364.82h0M1806.91 366.64h0M1807.16 367.93h0M1807.42 369.24h0M1807.67 370.5h0M1807.93 372.19h0M1808.18 373.49h0M1808.44 374.95h0M1808.69 376.4h0M1808.95 376.99h0M1809.2 378.05h0M1809.46 378.53h0M1809.71 379.69h0M1809.97 380.2h0M1810.22 381.06h0M1810.47 381.4h0M1810.73 381.64h0M1810.98 383.11h0M1811.24 383.09h0M1811.49 383.77h0M1811.75 384.25h0M1812 384.37h0M1812.26 384.95h0M1812.51 385.67h0M1812.77 386.29h0M1813.02 386.85h0M1813.28 387.12h0M1813.53 387.25h0M1813.79 387.86h0M1814.04 387.93h0M1814.3 388.25h0M1814.55 388.8h0M1814.8 389.19h0M1815.06 389.54h0M1815.31 389.83h0M1815.57 390.21h0M1815.82 390.31h0M1816.08 390.89h0M1816.33 391.2h0M1816.59 391.71h0M1816.84 391.61h0M1817.1 392.45h0M1817.35 392.6h0M1817.61 392.82h0M1817.86 392.98h0M1818.12 393.46h0M1818.37 393.43h0M1818.63 393.8h0M1818.88 393.91h0M1819.13 394.45h0M1819.39 394.26h0M1819.64 394.4h0M1819.9 394.87h0M1820.15 395.41h0M1820.41 394.92h0M1820.66 395.17h0M1820.92 395.69h0M1821.17 395.23h0M1821.43 395.39h0M1821.68 395.97h0M1821.94 395.91h0M1822.19 396.04h0M1822.45 396.15h0M1822.7 396.69h0M1822.96 396.43h0M1823.21 396.72h0M1823.46 397.06h0M1823.72 397.08h0M1823.97 396.97h0M1824.23 397.19h0M1824.48 397.07h0M1824.74 397.33h0M1824.99 397.36h0M1825.25 397.46h0M1825.5 397.85h0M1825.76 397.72h0M1826.01 397.89h0M1826.27 397.74h0M1826.52 398.02h0M1826.78 398.31h0M1827.03 398.44h0M1827.28 398.35h0M1827.54 398.53h0M1827.79 398.24h0M1828.05 398.62h0M1828.3 398.3h0M1828.56 398.91h0M1828.81 398.72h0M1829.07 398.82h0M1829.32 398.86h0M1829.58 399.06h0M1829.83 399.09h0M1830.09 399.11h0M1830.34 399.16h0M1830.6 399.28h0M1830.85 399.41h0M1831.11 399.65h0M1831.36 399.64h0M1831.61 399.67h0M1831.87 399.7h0M1832.12 400.05h0M1832.38 399.77h0M1832.63 400.31h0M1832.89 400.29h0M1833.14 400.23h0M1833.4 400.12h0M1833.65 400.27h0M1833.91 400.58h0M1834.16 400.36h0M1834.42 400.31h0M1834.67 400.68h0M1834.93 400.6h0M1835.18 400.55h0M1835.44 400.73h0M1835.69 400.9h0M1835.94 400.99h0M1836.2 400.96h0M1836.45 400.77h0M1836.71 401.04h0M1836.96 401.25h0M1837.22 401.06h0M1837.47 401.35h0M1837.73 401.65h0M1837.98 401.63h0M1838.24 401.44h0M1838.49 401.5h0M1838.75 401.06h0M1839 401.29h0M1839.26 401.45h0M1839.51 401.34h0M1839.77 401.24h0M1840.02 401.43h0M1840.27 401.44h0M1840.53 401.45h0M1840.78 401.53h0M1841.04 401.55h0M1841.29 401.6h0M1841.55 401.56h0M1841.8 401.76h0M1842.06 401.74h0M1842.31 401.58h0M1842.57 401.79h0M1842.82 401.61h0M1843.08 401.49h0M1843.33 401.75h0M1843.59 401.66h0M1843.84 402.03h0M1844.1 401.86h0M1844.35 402.15h0M1844.6 401.86h0M1844.86 401.86h0M1845.11 401.92h0M1845.37 401.85h0M1845.62 401.89h0M1845.88 269.13h0M1846.13 257.19h0M1846.39 248.67h0M1846.64 238.52h0M1846.9 229.81h0M1847.15 221.65h0M1847.41 212.38h0M1847.66 204.16h0M1847.92 198.37h0M1848.17 189.68h0M1848.43 186.56h0M1848.68 176.99h0M1848.93 170.19h0M1849.19 165.47h0M1849.44 160.63h0M1849.7 156.2h0M1849.95 150.38h0M1850.21 146.09h0M1850.46 138.23h0M1850.72 137.4h0M1850.97 131.24h0M1851.23 126.82h0M1851.48 123.89h0M1851.74 121.35h0M1851.99 117.7h0M1852.25 113.92h0M1852.5 109.2h0M1852.76 108.94h0M1853.01 103.88h0M1853.26 100.09h0M1853.52 99.81h0M1853.77 93.72h0M1854.03 91.52h0M1854.28 90.23h0M1854.54 86.14h0M1854.79 87.14h0M1855.05 87.09h0M1855.3 82.81h0M1855.56 80.39h0M1855.81 79.99h0M1856.07 77.23h0M1856.32 74.54h0M1856.58 75.68h0M1856.83 71.34h0M1857.08 73.74h0M1857.34 72.4h0M1857.59 70.41h0M1857.85 68.45h0M1858.1 67.68h0M1858.36 68.67h0M1858.61 66.83h0M1858.87 62.75h0M1859.12 63.88h0M1859.38 60.23h0M1859.63 63.15h0M1859.89 61.2h0M1860.14 59.82h0M1860.4 60.83h0M1860.65 60.88h0M1860.91 62.57h0M1861.16 56.91h0M1861.41 57.68h0M1861.67 57.11h0M1861.92 54.47h0M1862.18 58.98h0M1862.43 57.22h0M1862.69 54.54h0M1862.94 55.04h0M1863.2 54.73h0M1863.45 55.46h0M1863.71 55.66h0M1863.96 52.69h0M1864.22 52.26h0M1864.47 49.07h0M1864.73 51.58h0M1864.98 50.34h0M1865.24 52.13h0M1865.49 51.38h0M1865.74 48.68h0M1866 49.68h0M1866.25 52.09h0M1866.51 49.57h0M1866.76 48.44h0M1867.02 48.93h0M1867.27 50.24h0M1867.53 52.51h0M1867.78 50.68h0M1868.04 50.66h0M1868.29 47.77h0M1868.55 47.59h0M1868.8 50.77h0M1869.06 45.71h0M1869.31 46.98h0M1869.57 45.46h0M1869.82 50.38h0M1870.07 47.64h0M1870.33 48.69h0M1870.58 49.95h0M1870.84 49.07h0M1871.09 48.27h0M1871.35 44.77h0M1871.6 47.75h0M1871.86 48.5h0M1872.11 47.15h0M1872.37 48.17h0M1872.62 47.16h0M1872.88 47.78h0M1873.13 46.55h0M1873.39 45.08h0M1873.64 46.33h0M1873.9 44.75h0M1874.15 47.57h0M1874.4 47.29h0M1874.66 42.06h0M1874.91 46.82h0M1875.17 45.98h0M1875.42 42.09h0M1875.68 45.22h0M1875.93 44.2h0M1876.19 45.02h0M1876.44 182.25h0M1876.7 188.55h0M1876.95 195.2h0M1877.21 200.53h0M1877.46 209.1h0M1877.72 221.88h0M1877.97 232.94h0M1878.22 243.21h0M1878.48 251.28h0M1878.73 257.62h0M1878.99 264.15h0M1879.24 271.5h0M1879.5 276.68h0M1879.75 282.49h0M1880.01 289.02h0M1880.26 293h0M1880.52 297.67h0M1880.77 302.3h0M1881.03 305.21h0M1881.28 310.35h0M1881.54 314.64h0M1881.79 318.26h0M1882.05 321.4h0M1882.3 325.33h0M1882.55 328.49h0M1882.81 332.61h0M1883.06 334.68h0M1883.32 338.04h0M1883.57 341.18h0M1883.83 342.94h0M1884.08 346.3h0M1884.34 348.97h0M1884.59 351.04h0M1884.85 353.07h0M1885.1 354.27h0M1885.36 355.81h0M1885.61 357.36h0M1885.87 359.03h0M1886.12 360.75h0M1886.38 361.44h0M1886.63 362.87h0M1886.88 363.72h0M1887.14 364.72h0M1887.39 365.54h0M1887.65 367.26h0M1887.9 367.76h0M1888.16 368.74h0M1888.41 370.28h0M1888.67 370.42h0M1888.92 371.32h0M1889.18 372.18h0M1889.43 373.1h0M1889.69 373.9h0M1889.94 374.84h0M1890.2 375.41h0M1890.45 376.14h0M1890.71 376.96h0M1890.96 377.17h0M1891.21 378.27h0M1891.47 378.87h0M1891.72 379.66h0M1891.98 380.11h0M1892.23 380.79h0M1892.49 381.46h0M1892.74 382.38h0M1893 382.81h0M1893.25 383.72h0M1893.51 383.45h0M1893.76 384.06h0M1894.02 384.64h0M1894.27 385.49h0M1894.53 385.89h0M1894.78 386.5h0M1895.04 386.72h0M1895.29 387.22h0M1895.54 387.28h0M1895.8 387.45h0M1896.05 387.63h0M1896.31 388.2h0M1896.56 388.31h0M1896.82 388.89h0M1897.07 388.95h0M1897.33 389.52h0M1897.58 389.79h0M1897.84 390.21h0M1898.09 390.53h0M1898.35 390.55h0M1898.6 390.42h0M1898.86 391.38h0M1899.11 391.22h0M1899.37 391.34h0M1899.62 391.95h0M1899.87 392.08h0M1900.13 392.15h0M1900.38 392.18h0M1900.64 392.82h0M1900.89 392.76h0M1901.15 392.94h0M1901.4 393.32h0M1901.66 393.25h0M1901.91 393.31h0M1902.17 393.67h0M1902.42 393.63h0M1902.68 394.03h0M1902.93 393.98h0M1903.19 394.34h0M1903.44 394.35h0M1903.69 394.59h0M1903.95 394.91h0M1904.2 395.26h0M1904.46 395.29h0M1904.71 395.56h0M1904.97 395.13h0M1905.22 395.65h0M1905.48 395.96h0M1905.73 396.06h0M1905.99 396.3h0M1906.24 396.17h0M1906.5 396.83h0M1906.75 396.82h0M1907.01 396.8h0M1907.26 396.98h0M1907.52 396.83h0M1907.77 397.43h0M1908.02 397.53h0M1908.28 397.84h0M1908.53 397.56h0M1908.79 398.15h0M1909.04 397.99h0M1909.3 398.42h0M1909.55 398.53h0M1909.81 398.6h0M1910.06 398.3h0M1910.32 398.83h0M1910.57 399.01h0M1910.83 398.71h0M1911.08 398.85h0M1911.34 399.36h0M1911.59 399.27h0M1911.85 399.29h0M1912.1 399.45h0M1912.35 399.37h0M1912.61 399.62h0M1912.86 399.72h0M1913.12 399.62h0M1913.37 399.81h0M1913.63 399.81h0M1913.88 399.68h0M1914.14 400.1h0M1914.39 399.62h0M1914.65 399.78h0M1914.9 400.18h0M1915.16 400.13h0M1915.41 399.99h0M1915.67 400.21h0M1915.92 400.08h0M1916.18 400.36h0M1916.43 400.25h0M1916.68 400.36h0M1916.94 400.31h0M1917.19 400.4h0M1917.45 400.61h0M1917.7 400.51h0M1917.96 400.77h0M1918.21 400.46h0M1918.47 400.85h0M1918.72 400.86h0M1918.98 400.62h0M1919.23 400.8h0M1919.49 400.9h0M1919.74 401.16h0M1920 401.21h0M1920.25 401.12h0M1920.51 401.23h0M1920.76 400.92h0M1921.01 401.11h0M1921.27 401.15h0M1921.52 401.05h0M1921.78 401.24h0M1922.03 401.45h0M1922.29 401.22h0M1922.54 401.26h0M1922.8 401.36h0M1923.05 401.65h0M1923.31 401.34h0M1923.56 401.37h0M1923.82 401.34h0M1924.07 401.4h0M1924.33 401.44h0M1924.58 401.6h0M1924.84 401.49h0M1925.09 401.51h0M1925.34 401.7h0M1925.6 401.62h0M1925.85 401.5h0M1926.11 401.83h0M1926.36 401.74h0M1926.62 401.75h0M1926.87 401.58h0M1927.13 401.82h0M1927.38 401.85h0M1927.64 401.57h0M1927.89 401.74h0M1928.15 401.76h0M1928.4 401.86h0M1928.66 401.87h0M1928.91 402.09h0M1929.16 401.99h0" fill="none" stroke="#ff0000" stroke-width="5.6" stroke-linecap="round" />
</g>
<text x="1465.9" y="383.7" font-size="19.4" text-anchor="start" fill="#000" >5 ppm</text>
<text x="1541.5" y="379.6" font-size="19.4" text-anchor="start" fill="#000" >10 ppm</text>
<text x="1613.2" y="363.2" font-size="19.4" text-anchor="start" fill="#000" >20 ppm</text>
<text x="1690.3" y="314.5" font-size="19.4" text-anchor="start" fill="#000" >50 ppm</text>
<text x="1765.1" y="214.5" font-size="19.4" text-anchor="start" fill="#000" >100 ppm</text>
<text x="1843.9" y="37.3" font-size="19.4" text-anchor="start" fill="#000" >200 ppm</text>
<line x1="1466.2" y1="55.8" x2="1509.6" y2="55.8" stroke="#000000" stroke-width="2.2" />
<rect x="1485.75" y="53.55" width="4.5" height="4.5" fill="#000000"/>
<text x="1518.3" y="64" font-size="19.9" text-anchor="start" fill="#000" >SnO<tspan dy="8.4" font-size="14">2</tspan></text>
<line x1="1466.2" y1="91.7" x2="1509.6" y2="91.7" stroke="#ff0000" stroke-width="2.2" />
<polygon points="1488,88.2 1491.5,91.7 1488,95.2 1484.5,91.7" fill="#ff0000"/>
<text x="1518.3" y="99.9" font-size="19.9" text-anchor="start" fill="#000" >SnO<tspan dy="8.4" font-size="14">2</tspan><tspan dy="-8.4">-3Ni</tspan></text>
<text transform="translate(1.5,554.6) scale(1.08,1)" x="0" y="0" font-size="41" text-anchor="start" fill="#000" font-weight="bold">d</text>
<rect x="115.3" y="880.75" width="13.46" height="57.25" fill="#000000"/>
<rect x="128.46" y="682.74" width="13.46" height="255.26" fill="#ff0000"/>
<rect x="141.62" y="573" width="13.46" height="365" fill="#0000ff"/>
<rect x="154.78" y="730.45" width="13.46" height="207.55" fill="#008080"/>
<rect x="167.94" y="782.94" width="13.46" height="155.06" fill="#ff00ff"/>
<rect x="197.7" y="915.58" width="13.46" height="22.42" fill="#000000"/>
<rect x="210.86" y="836.37" width="13.46" height="101.63" fill="#ff0000"/>
<rect x="224.02" y="827.55" width="13.46" height="110.45" fill="#0000ff"/>
<rect x="237.18" y="820.15" width="13.46" height="117.85" fill="#008080"/>
<rect x="250.34" y="826.12" width="13.46" height="111.88" fill="#ff00ff"/>
<rect x="280.1" y="922.02" width="13.46" height="15.98" fill="#000000"/>
<rect x="293.26" y="913.43" width="13.46" height="24.57" fill="#ff0000"/>
<rect x="306.42" y="904.84" width="13.46" height="33.16" fill="#0000ff"/>
<rect x="319.58" y="884.32" width="13.46" height="53.68" fill="#008080"/>
<rect x="332.74" y="880.75" width="13.46" height="57.25" fill="#ff00ff"/>
<rect x="362.5" y="915.58" width="13.46" height="22.42" fill="#000000"/>
<rect x="375.66" y="904.84" width="13.46" height="33.16" fill="#ff0000"/>
<rect x="388.82" y="895.06" width="13.46" height="42.94" fill="#0000ff"/>
<rect x="401.98" y="895.54" width="13.46" height="42.46" fill="#008080"/>
<rect x="415.14" y="917.48" width="13.46" height="20.52" fill="#ff00ff"/>
<rect x="444.9" y="927.26" width="13.46" height="10.74" fill="#000000"/>
<rect x="458.06" y="923.45" width="13.46" height="14.55" fill="#ff0000"/>
<rect x="471.22" y="916.77" width="13.46" height="21.23" fill="#0000ff"/>
<rect x="484.38" y="922.73" width="13.46" height="15.27" fill="#008080"/>
<rect x="497.54" y="929.65" width="13.46" height="8.35" fill="#ff00ff"/>
<rect x="527.3" y="933.23" width="13.46" height="4.77" fill="#000000"/>
<rect x="540.46" y="933.23" width="13.46" height="4.77" fill="#ff0000"/>
<rect x="553.62" y="932.27" width="13.46" height="5.73" fill="#0000ff"/>
<rect x="566.78" y="933.23" width="13.46" height="4.77" fill="#008080"/>
<rect x="579.94" y="933.23" width="13.46" height="4.77" fill="#ff00ff"/>
<line x1="99.3" y1="555.3" x2="99.3" y2="939" stroke="#000" stroke-width="2" />
<line x1="98.3" y1="938" x2="602.6" y2="938" stroke="#000" stroke-width="2" />
<line x1="98.3" y1="556.3" x2="602.6" y2="556.3" stroke="#000" stroke-width="2" />
<line x1="601.6" y1="556.3" x2="601.6" y2="939" stroke="#000" stroke-width="1.4" />
<line x1="99.3" y1="938" x2="107.3" y2="938" stroke="#000" stroke-width="2" />
<text transform="translate(87.6,946.4) scale(1.045,1)" x="0" y="0" font-size="23.4" text-anchor="end" fill="#000" >0</text>
<line x1="99.3" y1="914.14" x2="103.9" y2="914.14" stroke="#000" stroke-width="2" />
<line x1="99.3" y1="890.29" x2="107.3" y2="890.29" stroke="#000" stroke-width="2" />
<text transform="translate(87.6,898.69) scale(1.045,1)" x="0" y="0" font-size="23.4" text-anchor="end" fill="#000" >20</text>
<line x1="99.3" y1="866.43" x2="103.9" y2="866.43" stroke="#000" stroke-width="2" />
<line x1="99.3" y1="842.58" x2="107.3" y2="842.58" stroke="#000" stroke-width="2" />
<text transform="translate(87.6,850.98) scale(1.045,1)" x="0" y="0" font-size="23.4" text-anchor="end" fill="#000" >40</text>
<line x1="99.3" y1="818.72" x2="103.9" y2="818.72" stroke="#000" stroke-width="2" />
<line x1="99.3" y1="794.86" x2="107.3" y2="794.86" stroke="#000" stroke-width="2" />
<text transform="translate(87.6,803.26) scale(1.045,1)" x="0" y="0" font-size="23.4" text-anchor="end" fill="#000" >60</text>
<line x1="99.3" y1="771.01" x2="103.9" y2="771.01" stroke="#000" stroke-width="2" />
<line x1="99.3" y1="747.15" x2="107.3" y2="747.15" stroke="#000" stroke-width="2" />
<text transform="translate(87.6,755.55) scale(1.045,1)" x="0" y="0" font-size="23.4" text-anchor="end" fill="#000" >80</text>
<line x1="99.3" y1="723.3" x2="103.9" y2="723.3" stroke="#000" stroke-width="2" />
<line x1="99.3" y1="699.44" x2="107.3" y2="699.44" stroke="#000" stroke-width="2" />
<text transform="translate(87.6,707.84) scale(1.045,1)" x="0" y="0" font-size="23.4" text-anchor="end" fill="#000" >100</text>
<line x1="99.3" y1="675.58" x2="103.9" y2="675.58" stroke="#000" stroke-width="2" />
<line x1="99.3" y1="651.73" x2="107.3" y2="651.73" stroke="#000" stroke-width="2" />
<text transform="translate(87.6,660.13) scale(1.045,1)" x="0" y="0" font-size="23.4" text-anchor="end" fill="#000" >120</text>
<line x1="99.3" y1="627.87" x2="103.9" y2="627.87" stroke="#000" stroke-width="2" />
<line x1="99.3" y1="604.02" x2="107.3" y2="604.02" stroke="#000" stroke-width="2" />
<text transform="translate(87.6,612.42) scale(1.045,1)" x="0" y="0" font-size="23.4" text-anchor="end" fill="#000" >140</text>
<line x1="99.3" y1="580.16" x2="103.9" y2="580.16" stroke="#000" stroke-width="2" />
<line x1="99.3" y1="556.3" x2="107.3" y2="556.3" stroke="#000" stroke-width="2" />
<text transform="translate(87.6,564.7) scale(1.045,1)" x="0" y="0" font-size="23.4" text-anchor="end" fill="#000" >160</text>
<text transform="translate(188,961.4) rotate(-45)" x="0" y="0" font-size="23.4" text-anchor="end">Ehanol</text>
<text transform="translate(272.8,961.4) rotate(-45)" x="0" y="0" font-size="23.4" text-anchor="end">Methanol</text>
<text transform="translate(349.3,957.6) rotate(-45)" x="0" y="0" font-size="23.4" text-anchor="end">Acetone</text>
<text transform="translate(434.9,960.4) rotate(-45)" x="0" y="0" font-size="23.4" text-anchor="end">Acetic acid</text>
<text transform="translate(514.1,957.5) rotate(-45)" x="0" y="0" font-size="23.4" text-anchor="end">Ammonia</text>
<text transform="translate(594.8,957.3) rotate(-45)" x="0" y="0" font-size="23.4" text-anchor="end">Toluene</text>
<text x="327.7" y="1065.7" font-size="23.7" text-anchor="middle" fill="#000" >Gases (100 ppm)</text>
<text transform="translate(18.5,749) rotate(-90)" x="0" y="0" font-size="23.7" text-anchor="middle" fill="#000">Responce (<tspan font-style="italic">R</tspan><tspan dy="8.8" font-size="16.6">a</tspan><tspan dy="-8.8">/</tspan><tspan font-style="italic">R</tspan><tspan dy="8.8" font-size="16.6">g</tspan><tspan dy="-8.8">)</tspan></text>
<rect x="437" y="583.15" width="36.3" height="14.3" fill="#000000"/>
<text x="481.5" y="598.1" font-size="19.8" text-anchor="start" fill="#000" >SnO<tspan dy="8.4" font-size="14">2</tspan></text>
<rect x="437" y="618.25" width="36.3" height="14.3" fill="#ff0000"/>
<text x="481.5" y="633.2" font-size="19.8" text-anchor="start" fill="#000" >SnO<tspan dy="8.4" font-size="14">2</tspan><tspan dy="-8.4">-1Ni</tspan></text>
<rect x="437" y="653.35" width="36.3" height="14.3" fill="#0000ff"/>
<text x="481.5" y="668.3" font-size="19.8" text-anchor="start" fill="#000" >SnO<tspan dy="8.4" font-size="14">2</tspan><tspan dy="-8.4">-3Ni</tspan></text>
<rect x="437" y="688.45" width="36.3" height="14.3" fill="#008080"/>
<text x="481.5" y="703.4" font-size="19.8" text-anchor="start" fill="#000" >SnO<tspan dy="8.4" font-size="14">2</tspan><tspan dy="-8.4">-5Ni</tspan></text>
<rect x="437" y="723.55" width="36.3" height="14.3" fill="#ff00ff"/>
<text x="481.5" y="738.5" font-size="19.8" text-anchor="start" fill="#000" >SnO<tspan dy="8.4" font-size="14">2</tspan><tspan dy="-8.4">-10Ni</tspan></text>
<text transform="translate(657.3,553.5) scale(1.1,1)" x="0" y="0" font-size="41" text-anchor="start" fill="#000" font-weight="bold">e</text>
<line x1="770.1" y1="551.5" x2="770.1" y2="938.5" stroke="#000" stroke-width="2" />
<line x1="769.1" y1="937.5" x2="1276.8" y2="937.5" stroke="#000" stroke-width="2" />
<line x1="769.1" y1="552.5" x2="1276.8" y2="552.5" stroke="#000" stroke-width="2" />
<line x1="1275.8" y1="552.5" x2="1275.8" y2="938.5" stroke="#000" stroke-width="1.4" />
<line x1="770.1" y1="928.1" x2="777.7" y2="928.1" stroke="#000" stroke-width="2" />
<text transform="translate(759.1,936.5) scale(1.045,1)" x="0" y="0" font-size="23.4" text-anchor="end" fill="#000" >0</text>
<line x1="770.1" y1="881.16" x2="774.4" y2="881.16" stroke="#000" stroke-width="2" />
<line x1="770.1" y1="834.22" x2="777.7" y2="834.22" stroke="#000" stroke-width="2" />
<text transform="translate(759.1,842.62) scale(1.045,1)" x="0" y="0" font-size="23.4" text-anchor="end" fill="#000" >20</text>
<line x1="770.1" y1="787.29" x2="774.4" y2="787.29" stroke="#000" stroke-width="2" />
<line x1="770.1" y1="740.35" x2="777.7" y2="740.35" stroke="#000" stroke-width="2" />
<text transform="translate(759.1,748.75) scale(1.045,1)" x="0" y="0" font-size="23.4" text-anchor="end" fill="#000" >40</text>
<line x1="770.1" y1="693.41" x2="774.4" y2="693.41" stroke="#000" stroke-width="2" />
<line x1="770.1" y1="646.47" x2="777.7" y2="646.47" stroke="#000" stroke-width="2" />
<text transform="translate(759.1,654.87) scale(1.045,1)" x="0" y="0" font-size="23.4" text-anchor="end" fill="#000" >60</text>
<line x1="770.1" y1="599.53" x2="774.4" y2="599.53" stroke="#000" stroke-width="2" />
<line x1="770.1" y1="552.6" x2="777.7" y2="552.6" stroke="#000" stroke-width="2" />
<text transform="translate(759.1,561) scale(1.045,1)" x="0" y="0" font-size="23.4" text-anchor="end" fill="#000" >80</text>
<line x1="770.1" y1="937.5" x2="770.1" y2="929.5" stroke="#000" stroke-width="2" />
<text transform="translate(770.1,966.7) scale(1.045,1)" x="0" y="0" font-size="23.4" text-anchor="middle" fill="#000" >0</text>
<line x1="805" y1="937.5" x2="805" y2="932.5" stroke="#000" stroke-width="2" />
<line x1="839.9" y1="937.5" x2="839.9" y2="929.5" stroke="#000" stroke-width="2" />
<text transform="translate(839.9,966.7) scale(1.045,1)" x="0" y="0" font-size="23.4" text-anchor="middle" fill="#000" >200</text>
<line x1="874.8" y1="937.5" x2="874.8" y2="932.5" stroke="#000" stroke-width="2" />
<line x1="909.7" y1="937.5" x2="909.7" y2="929.5" stroke="#000" stroke-width="2" />
<text transform="translate(909.7,966.7) scale(1.045,1)" x="0" y="0" font-size="23.4" text-anchor="middle" fill="#000" >400</text>
<line x1="944.6" y1="937.5" x2="944.6" y2="932.5" stroke="#000" stroke-width="2" />
<line x1="979.5" y1="937.5" x2="979.5" y2="929.5" stroke="#000" stroke-width="2" />
<text transform="translate(979.5,966.7) scale(1.045,1)" x="0" y="0" font-size="23.4" text-anchor="middle" fill="#000" >600</text>
<line x1="1014.4" y1="937.5" x2="1014.4" y2="932.5" stroke="#000" stroke-width="2" />
<line x1="1049.3" y1="937.5" x2="1049.3" y2="929.5" stroke="#000" stroke-width="2" />
<text transform="translate(1049.3,966.7) scale(1.045,1)" x="0" y="0" font-size="23.4" text-anchor="middle" fill="#000" >800</text>
<line x1="1084.2" y1="937.5" x2="1084.2" y2="932.5" stroke="#000" stroke-width="2" />
<line x1="1119.1" y1="937.5" x2="1119.1" y2="929.5" stroke="#000" stroke-width="2" />
<text transform="translate(1119.1,966.7) scale(1.045,1)" x="0" y="0" font-size="23.4" text-anchor="middle" fill="#000" >1000</text>
<line x1="1154" y1="937.5" x2="1154" y2="932.5" stroke="#000" stroke-width="2" />
<line x1="1188.9" y1="937.5" x2="1188.9" y2="929.5" stroke="#000" stroke-width="2" />
<text transform="translate(1188.9,966.7) scale(1.045,1)" x="0" y="0" font-size="23.4" text-anchor="middle" fill="#000" >1200</text>
<line x1="1223.8" y1="937.5" x2="1223.8" y2="932.5" stroke="#000" stroke-width="2" />
<line x1="1258.7" y1="937.5" x2="1258.7" y2="929.5" stroke="#000" stroke-width="2" />
<text transform="translate(1258.7,966.7) scale(1.045,1)" x="0" y="0" font-size="23.4" text-anchor="middle" fill="#000" >1400</text>
<text x="1008.2" y="1005.7" font-size="23.7" text-anchor="middle" fill="#000" >Time (s)</text>
<text transform="translate(700.3,746.3) rotate(-90)" x="0" y="0" font-size="23.7" text-anchor="middle" fill="#000">Responce (<tspan font-style="italic">R</tspan><tspan dy="8.8" font-size="16.6">a</tspan><tspan dy="-8.8">/</tspan><tspan font-style="italic">R</tspan><tspan dy="8.8" font-size="16.6">g</tspan><tspan dy="-8.8">)</tspan></text>
<text x="1197.6" y="588.5" font-size="19.3" text-anchor="start" fill="#000" >Ethanol</text>
<text x="1197.6" y="611.6" font-size="19.3" text-anchor="start" fill="#000" >50 ppm</text>
<clipPath id="clipe"><rect x="771.1" y="553.5" width="503.9" height="383"/></clipPath><g clip-path="url(#clipe)">
<polyline points="770.1,923.41 770.62,924.78 771.15,924.46 771.67,924.23 772.19,924.99 772.72,924.48 773.24,924.49 773.76,925.6 774.29,923.84 774.81,924.11 775.34,924.88 775.86,924.59 776.38,924.17 776.91,924.65 777.43,924.64 777.95,925.41 778.48,924.13 779,924.41 779.52,924.31 780.05,925.45 780.57,923.44 781.09,924.39 781.62,924.73 782.14,923.2 782.66,924.51 783.19,925.41 783.71,924.74 784.23,925.94 784.76,923.82 785.28,924.75 785.81,924.96 786.33,923.81 786.85,925.53 787.38,924.15 787.9,925.79 788.42,924.91 788.95,925.25 789.47,923.56 789.99,923.37 790.52,924.69 791.04,923.95 791.56,924.6 792.09,924.13 792.61,924.96 793.13,925.57 793.66,925.63 794.18,924.24 794.7,923.06 795.23,924.32 795.75,924.82 796.27,923.27 796.8,924.34 797.32,924.42 797.85,924.33 798.37,924.57 798.89,924.68 799.42,925.4 799.94,924.17 800.46,924.55 800.99,923.73 801.51,924.72 802.03,925.69 802.56,924.55 803.08,923.41 803.6,924.73 804.13,925.05 804.65,925.24 805.17,925.15 805.7,924.68 806.22,925.23 806.75,923.54 807.27,924.66 807.79,924.42 808.32,923.57 808.84,923.53 809.36,924.62 809.89,924.28 810.41,924.02 810.93,924.61 811.46,925.61 811.98,834.9 812.5,822.43 813.03,804.25 813.55,790.74 814.07,775.12 814.6,765.82 815.12,758.74 815.64,750.37 816.17,745.87 816.69,744.28 817.22,741.68 817.74,738.93 818.26,738.1 818.79,735.97 819.31,734.79 819.83,730.69 820.36,722.67 820.88,722.27 821.4,721.4 821.93,718.29 822.45,715.89 822.97,710.31 823.5,707.58 824.02,708.9 824.54,702.38 825.07,702.26 825.59,695.74 826.11,696.16 826.64,690.6 827.16,692.9 827.69,690.21 828.21,686.55 828.73,682.46 829.26,680.96 829.78,682.2 830.3,676.64 830.83,674.41 831.35,672.83 831.87,670.81 832.4,663.33 832.92,665.51 833.44,664.21 833.97,658.79 834.49,657.57 835.01,655.74 835.54,651.72 836.06,650.21 836.58,648.46 837.11,645.31 837.63,645.04 838.15,645.42 838.68,643.54 839.2,642.65 839.73,639.97 840.25,641.63 840.77,642.21 841.3,637.18 841.82,639.23 842.34,639.56 842.87,633.65 843.39,634.89 843.91,631.29 844.44,632.41 844.96,632.61 845.48,631.82 846.01,629.24 846.53,627.69 847.05,627.81 847.58,625.63 848.1,627.24 848.62,622.83 849.15,625.37 849.67,620.63 850.2,617.37 850.72,615.2 851.24,612.65 851.77,618.49 852.29,612.76 852.81,611.26 853.34,611.54 853.86,722.16 854.38,725.96 854.91,732.75 855.43,746.62 855.95,747.43 856.48,750.23 857,757.79 857.52,757.98 858.05,764.04 858.57,766.61 859.1,771.43 859.62,778.61 860.14,790.15 860.67,796.4 861.19,806.6 861.71,810.74 862.24,815.44 862.76,825.52 863.28,838.94 863.81,841.78 864.33,848.78 864.85,850.81 865.38,854.3 865.9,855.29 866.42,860.36 866.95,867.23 867.47,869.07 867.99,867.57 868.52,872.61 869.04,872.58 869.57,877.23 870.09,882.09 870.61,880.75 871.14,887.04 871.66,891.71 872.18,884.74 872.71,894.67 873.23,890.75 873.75,891.51 874.28,894.52 874.8,899.66 875.32,895.17 875.85,901.51 876.37,902.4 876.89,901.35 877.42,899.89 877.94,901.83 878.46,901.59 878.99,905.03 879.51,905.18 880.03,907.88 880.56,906.76 881.08,905.4 881.61,907.83 882.13,906.72 882.65,909.45 883.18,909.98 883.7,909.12 884.22,910.07 884.75,908.85 885.27,910.14 885.79,907.25 886.32,911.79 886.84,912.18 887.36,914.27 887.89,912.38 888.41,911.32 888.93,914.66 889.46,913.52 889.98,912.2 890.5,914.28 891.03,914.63 891.55,913.96 892.08,914.78 892.6,914.85 893.12,914.61 893.65,914.87 894.17,916.06 894.69,916.4 895.22,916.11 895.74,916.59 896.26,917.92 896.79,916.12 897.31,917.11 897.83,916.85 898.36,918.25 898.88,916.87 899.4,918.24 899.93,918.11 900.45,919.1 900.98,918.49 901.5,918.69 902.02,918.82 902.55,918.58 903.07,918.98 903.59,918.55 904.12,919.61 904.64,920.1 905.16,919.62 905.69,919.36 906.21,919.11 906.73,919.53 907.26,921.3 907.78,920.09 908.3,919.54 908.83,920.57 909.35,921.08 909.87,920.7 910.4,921.36 910.92,920.78 911.45,921.33 911.97,920.58 912.49,921.29 913.02,922.2 913.54,921.49 914.06,921.41 914.59,922.5 915.11,922.54 915.63,923.86 916.16,921.95 916.68,818.9 917.2,811.43 917.73,800.17 918.25,788.34 918.77,779.37 919.3,775.03 919.82,767.86 920.34,765.26 920.87,759.93 921.39,749.52 921.91,744.8 922.44,740.53 922.96,732.6 923.49,732.4 924.01,726.63 924.53,719.23 925.06,713.49 925.58,713.58 926.1,706.49 926.63,707.93 927.15,702.72 927.67,700.65 928.2,700.57 928.72,693.62 929.24,689.14 929.77,688.32 930.29,684.96 930.81,678.53 931.34,680.64 931.86,677.63 932.38,672.29 932.91,669.94 933.43,661.18 933.96,660.15 934.48,659.64 935,656.43 935.53,646.76 936.05,652.03 936.57,650.42 937.1,646.36 937.62,643.95 938.14,643.21 938.67,644.07 939.19,643.13 939.71,638 940.24,638 940.76,639.99 941.28,632.7 941.81,632.19 942.33,632.96 942.86,631.6 943.38,629.12 943.9,629.59 944.43,629.5 944.95,624.49 945.47,626.75 946,621.46 946.52,623.96 947.04,619.82 947.57,618.67 948.09,613.48 948.61,618.48 949.14,618.33 949.66,615.96 950.18,616.35 950.71,614.62 951.23,611.88 951.75,610.56 952.28,608.13 952.8,612.65 953.33,605.01 953.85,605.92 954.37,610.1 954.9,614.11 955.42,609.09 955.94,608.46 956.47,613.22 956.99,608.02 957.51,608.47 958.04,718.48 958.56,725.1 959.08,734.53 959.61,748.08 960.13,755.55 960.65,763.92 961.18,769.34 961.7,771.84 962.22,774.88 962.75,781.27 963.27,789.42 963.8,789.21 964.32,801.46 964.84,807 965.37,812.69 965.89,824.88 966.41,835.84 966.94,843.98 967.46,844.06 967.98,851.15 968.51,854.01 969.03,856.79 969.55,862.11 970.08,865.69 970.6,869.93 971.12,877.3 971.65,876.86 972.17,876.65 972.69,879.69 973.22,881.22 973.74,885.01 974.26,886.96 974.79,888.06 975.31,893.87 975.84,894.7 976.36,899.39 976.88,895.61 977.41,899.01 977.93,899.21 978.45,897.91 978.98,899.76 979.5,903.01 980.02,902.02 980.55,907.48 981.07,904.27 981.59,905.6 982.12,909.98 982.64,904.38 983.16,909.3 983.69,906.96 984.21,909.85 984.74,907.39 985.26,907.22 985.78,912.23 986.31,914.16 986.83,911.64 987.35,909.98 987.88,912.95 988.4,913.83 988.92,911.86 989.45,919.06 989.97,914.95 990.49,916.76 991.02,913.94 991.54,914.86 992.06,915.36 992.59,915.13 993.11,916.08 993.63,915.39 994.16,916.05 994.68,916.08 995.21,916.52 995.73,915.7 996.25,916.56 996.78,916.37 997.3,916.6 997.82,917.61 998.35,916.93 998.87,917.26 999.39,917.47 999.92,918.1 1000.44,918.29 1000.96,917.7 1001.49,916.98 1002.01,919.05 1002.53,918.35 1003.06,919.07 1003.58,918.5 1004.1,918.87 1004.63,918.62 1005.15,921.2 1005.67,919.95 1006.2,920.34 1006.72,919.91 1007.25,920.43 1007.77,920.51 1008.29,919.79 1008.82,919.14 1009.34,922.26 1009.86,920.78 1010.39,920.5 1010.91,920.81 1011.43,921.14 1011.96,921.89 1012.48,921.73 1013,920.78 1013.53,920.66 1014.05,921.38 1014.57,922.07 1015.1,921.58 1015.62,921.89 1016.14,921.49 1016.67,921.85 1017.19,922.41 1017.72,921.99 1018.24,922.94 1018.76,921.75 1019.29,921.6 1019.81,923.16 1020.33,922.22 1020.86,923.18 1021.38,822.86 1021.9,812.45 1022.43,807.41 1022.95,799.28 1023.47,797.05 1024,791.12 1024.52,783.21 1025.04,773.68 1025.57,765.03 1026.09,755.02 1026.62,748.13 1027.14,737.64 1027.66,730.62 1028.19,727.7 1028.71,723.83 1029.23,713.71 1029.76,707.52 1030.28,705.19 1030.8,702.7 1031.33,694.77 1031.85,687.65 1032.37,690.55 1032.9,681.43 1033.42,679.01 1033.94,676.13 1034.47,669.36 1034.99,669.39 1035.51,662.43 1036.04,656.9 1036.56,656.16 1037.09,655.51 1037.61,654.85 1038.13,651.56 1038.66,650.69 1039.18,641.5 1039.7,643.61 1040.23,643.59 1040.75,642.52 1041.27,640.51 1041.8,637.52 1042.32,638.13 1042.84,630.53 1043.37,634.35 1043.89,633.14 1044.41,629.56 1044.94,625.88 1045.46,624.87 1045.98,627.42 1046.51,624.58 1047.03,623.54 1047.56,621.51 1048.08,620.88 1048.6,622.25 1049.13,621.79 1049.65,617.68 1050.17,619.54 1050.7,613.21 1051.22,615.13 1051.74,616.59 1052.27,614.39 1052.79,614.09 1053.31,612.6 1053.84,609.63 1054.36,613.99 1054.88,614.2 1055.41,608.88 1055.93,609.33 1056.45,607.99 1056.98,606.8 1057.5,607.56 1058.03,604.96 1058.55,608.05 1059.07,605.59 1059.6,607.09 1060.12,607.38 1060.64,603.41 1061.17,603.29 1061.69,608.43 1062.21,606.61 1062.74,603.61 1063.26,601.97 1063.78,736.89 1064.31,746.22 1064.83,755.63 1065.35,753.71 1065.88,763.34 1066.4,767.34 1066.92,773.03 1067.45,777.8 1067.97,783.83 1068.49,791.16 1069.02,794.18 1069.54,800.86 1070.07,803.68 1070.59,813.66 1071.11,819.24 1071.64,822.62 1072.16,826.75 1072.68,834.27 1073.21,840.93 1073.73,844.14 1074.25,849.23 1074.78,848.41 1075.3,854.62 1075.82,857.7 1076.35,863.21 1076.87,868.01 1077.39,866.78 1077.92,867.93 1078.44,872.19 1078.96,875.34 1079.49,874.74 1080.01,879.43 1080.54,878.57 1081.06,883.13 1081.58,885.06 1082.11,883.13 1082.63,884.9 1083.15,882.85 1083.68,888.71 1084.2,889.32 1084.72,893.04 1085.25,895.86 1085.77,896.98 1086.29,893.55 1086.82,898.32 1087.34,894.76 1087.86,895.43 1088.39,900.31 1088.91,897.45 1089.43,901.68 1089.96,900.96 1090.48,904.94 1091.01,903.51 1091.53,908.54 1092.05,906.18 1092.58,909.34 1093.1,909.43 1093.62,908.53 1094.15,910.11 1094.67,911.14 1095.19,909.85 1095.72,910.06 1096.24,915.03 1096.76,911.26 1097.29,911.35 1097.81,914.67 1098.33,912.56 1098.86,916.46 1099.38,910.9 1099.9,914.35 1100.43,914.5 1100.95,913.93 1101.48,915.01 1102,914.76 1102.52,916.02 1103.05,915.92 1103.57,916.64 1104.09,916.08 1104.62,915.48 1105.14,916.17 1105.66,915.92 1106.19,917.3 1106.71,917.37 1107.23,917.27 1107.76,916.77 1108.28,917.06 1108.8,917.45 1109.33,917.19 1109.85,917.83 1110.38,917.9 1110.9,917.21 1111.42,918.55 1111.95,918.22 1112.47,917.46 1112.99,918.57 1113.52,918.33 1114.04,919.3 1114.56,917.81 1115.09,920.61 1115.61,920.03 1116.13,920.11 1116.66,918.54 1117.18,919.46 1117.7,919.97 1118.23,920.73 1118.75,919.8 1119.27,920.07 1119.8,920.7 1120.32,921.31 1120.85,921.17 1121.37,920.45 1121.89,920.49 1122.42,920.75 1122.94,921 1123.46,922.13 1123.99,921.08 1124.51,921.87 1125.03,921.29 1125.56,921.13 1126.08,799.05 1126.6,775.83 1127.13,759.67 1127.65,751.77 1128.17,746.45 1128.7,745.11 1129.22,732.82 1129.74,724.82 1130.27,715.96 1130.79,710.84 1131.32,701.31 1131.84,691.41 1132.36,679.72 1132.89,675.97 1133.41,667.23 1133.93,664.04 1134.46,657.12 1134.98,657 1135.5,649.39 1136.03,648.13 1136.55,644.91 1137.07,641.14 1137.6,638 1138.12,642.39 1138.64,635.26 1139.17,634.92 1139.69,635.54 1140.21,630.84 1140.74,632.3 1141.26,628.85 1141.79,631.65 1142.31,630.94 1142.83,625.12 1143.36,621.68 1143.88,623.41 1144.4,621.33 1144.93,622.66 1145.45,622.91 1145.97,619.04 1146.5,613.88 1147.02,619.51 1147.54,615.21 1148.07,616.87 1148.59,611.34 1149.11,608.58 1149.64,612.02 1150.16,609.27 1150.68,604.59 1151.21,606.56 1151.73,607.98 1152.26,607.16 1152.78,607.7 1153.3,600.93 1153.83,603.34 1154.35,598.84 1154.87,598.64 1155.4,601.4 1155.92,600.81 1156.44,597.9 1156.97,599.23 1157.49,599.03 1158.01,603.16 1158.54,597.91 1159.06,601.81 1159.58,604.93 1160.11,601.64 1160.63,599.66 1161.15,596.35 1161.68,601.81 1162.2,604.07 1162.72,597.01 1163.25,601.39 1163.77,602.5 1164.3,604.42 1164.82,604.46 1165.34,599.37 1165.87,603.2 1166.39,603.87 1166.91,603.87 1167.44,599.51 1167.96,721.16 1168.48,724.15 1169.01,730.3 1169.53,736.16 1170.05,745.28 1170.58,750.87 1171.1,759.48 1171.62,774.09 1172.15,787.49 1172.67,795.02 1173.19,796.4 1173.72,800.97 1174.24,803.61 1174.77,806.12 1175.29,812.1 1175.81,810.6 1176.34,815.22 1176.86,819.31 1177.38,822.1 1177.91,824.13 1178.43,829.55 1178.95,835.17 1179.48,834.82 1180,842.35 1180.52,847.27 1181.05,853.38 1181.57,854.34 1182.09,860.68 1182.62,863.45 1183.14,865.41 1183.66,870.37 1184.19,872.23 1184.71,877.33 1185.24,881.87 1185.76,883.99 1186.28,886.08 1186.81,885.23 1187.33,888.04 1187.85,890.33 1188.38,888.96 1188.9,891.73 1189.42,894.03 1189.95,897.28 1190.47,894.14 1190.99,895.47 1191.52,896.73 1192.04,898.57 1192.56,900.2 1193.09,899.67 1193.61,899.43 1194.13,900.91 1194.66,901.65 1195.18,903.04 1195.71,902.02 1196.23,902.92 1196.75,905.67 1197.28,903.12 1197.8,903.69 1198.32,904.26 1198.85,906.85 1199.37,907.57 1199.89,910.17 1200.42,906.67 1200.94,913.3 1201.46,910.12 1201.99,910.49 1202.51,908.42 1203.03,910.67 1203.56,913.12 1204.08,914.49 1204.61,913.38 1205.13,911.96 1205.65,912.38 1206.18,913.21 1206.7,914.52 1207.22,913.8 1207.75,911.52 1208.27,916.23 1208.79,914.15 1209.32,913.41 1209.84,914.34 1210.36,915.23 1210.89,914.77 1211.41,915.91 1211.93,915.67 1212.46,914.92 1212.98,914.94 1213.5,917.45 1214.03,916.14 1214.55,915.56 1215.08,917.35 1215.6,917.05 1216.12,916.46 1216.65,917.92 1217.17,917.51 1217.69,918.02 1218.22,919.38 1218.74,918.12 1219.26,918.62 1219.79,918.08 1220.31,917.5 1220.83,918.55 1221.36,919.36 1221.88,918.98 1222.4,919.28 1222.93,918.89 1223.45,920.57 1223.97,920.52 1224.5,921.19 1225.02,919.62 1225.55,920.12 1226.07,920.61 1226.59,920.75 1227.12,920.74 1227.64,921.04 1228.16,920.73 1228.69,920.91 1229.21,919.78 1229.73,920.53 1230.26,921.32 1230.78,921.23 1231.3,920.17 1231.83,920.7 1232.35,920.86 1232.87,920.65 1233.4,920.16 1233.92,922 1234.44,921.76 1234.97,922.45 1235.49,921.09 1236.01,921.69 1236.54,921.93 1237.06,922.04 1237.59,921.18 1238.11,921.76 1238.63,922.05 1239.16,920.97 1239.68,922.48 1240.2,922.67 1240.73,920.27 1241.25,922.19 1241.77,922.35 1242.3,922.51 1242.82,922.18 1243.34,921.65 1243.87,921.71 1244.39,921.88 1244.91,922.45 1245.44,923.26 1245.96,922.17 1246.49,921.43 1247.01,921.75 1247.53,922.58 1248.06,922 1248.58,922.79 1249.1,922.62 1249.63,923.4 1250.15,922.86 1250.67,922.6 1251.2,922.83 1251.72,922.27 1252.24,921.6 1252.77,921.99 1253.29,923.05 1253.81,923.36 1254.34,923.34 1254.86,923.57 1255.38,922.96 1255.91,922.75 1256.43,922.93 1256.95,922.95 1257.48,923 1258,923.22 1258.53,923.63 1259.05,922.1 1259.57,922.55 1260.1,923.82 1260.62,923.84 1261.14,923.67 1261.67,923.3 1262.19,922.55 1262.71,922.73 1263.24,922.72 1263.76,922.74 1264.28,922.75 1264.81,923.01 1265.33,923.21 1265.85,923.6 1266.38,924.65 1266.9,923.65 1267.42,922.45 1267.95,923.96 1268.47,924.04 1269,923.02 1269.52,923.63 1270.04,924.01 1270.57,922.74 1271.09,923.36 1271.61,923.29 1272.14,924.15 1272.66,923.5 1273.18,923.6 1273.71,923.37 1274.23,923.15 1274.75,923.19 1275.28,923.81 1275.8,923.5" fill="none" stroke="#ff0000" stroke-width="1.8" stroke-linejoin="round" />
<path d="M767.6 923.41a2.5 2.5 0 1 0 5.0 0a2.5 2.5 0 1 0 -5.0 0M768.12 924.78a2.5 2.5 0 1 0 5.0 0a2.5 2.5 0 1 0 -5.0 0M768.65 924.46a2.5 2.5 0 1 0 5.0 0a2.5 2.5 0 1 0 -5.0 0M769.17 924.23a2.5 2.5 0 1 0 5.0 0a2.5 2.5 0 1 0 -5.0 0M769.69 924.99a2.5 2.5 0 1 0 5.0 0a2.5 2.5 0 1 0 -5.0 0M770.22 924.48a2.5 2.5 0 1 0 5.0 0a2.5 2.5 0 1 0 -5.0 0M770.74 924.49a2.5 2.5 0 1 0 5.0 0a2.5 2.5 0 1 0 -5.0 0M771.26 925.6a2.5 2.5 0 1 0 5.0 0a2.5 2.5 0 1 0 -5.0 0M771.79 923.84a2.5 2.5 0 1 0 5.0 0a2.5 2.5 0 1 0 -5.0 0M772.31 924.11a2.5 2.5 0 1 0 5.0 0a2.5 2.5 0 1 0 -5.0 0M772.84 924.88a2.5 2.5 0 1 0 5.0 0a2.5 2.5 0 1 0 -5.0 0M773.36 924.59a2.5 2.5 0 1 0 5.0 0a2.5 2.5 0 1 0 -5.0 0M773.88 924.17a2.5 2.5 0 1 0 5.0 0a2.5 2.5 0 1 0 -5.0 0M774.41 924.65a2.5 2.5 0 1 0 5.0 0a2.5 2.5 0 1 0 -5.0 0M774.93 924.64a2.5 2.5 0 1 0 5.0 0a2.5 2.5 0 1 0 -5.0 0M775.45 925.41a2.5 2.5 0 1 0 5.0 0a2.5 2.5 0 1 0 -5.0 0M775.98 924.13a2.5 2.5 0 1 0 5.0 0a2.5 2.5 0 1 0 -5.0 0M776.5 924.41a2.5 2.5 0 1 0 5.0 0a2.5 2.5 0 1 0 -5.0 0M777.02 924.31a2.5 2.5 0 1 0 5.0 0a2.5 2.5 0 1 0 -5.0 0M777.55 925.45a2.5 2.5 0 1 0 5.0 0a2.5 2.5 0 1 0 -5.0 0M778.07 923.44a2.5 2.5 0 1 0 5.0 0a2.5 2.5 0 1 0 -5.0 0M778.59 924.39a2.5 2.5 0 1 0 5.0 0a2.5 2.5 0 1 0 -5.0 0M779.12 924.73a2.5 2.5 0 1 0 5.0 0a2.5 2.5 0 1 0 -5.0 0M779.64 923.2a2.5 2.5 0 1 0 5.0 0a2.5 2.5 0 1 0 -5.0 0M780.16 924.51a2.5 2.5 0 1 0 5.0 0a2.5 2.5 0 1 0 -5.0 0M780.69 925.41a2.5 2.5 0 1 0 5.0 0a2.5 2.5 0 1 0 -5.0 0M781.21 924.74a2.5 2.5 0 1 0 5.0 0a2.5 2.5 0 1 0 -5.0 0M781.73 925.94a2.5 2.5 0 1 0 5.0 0a2.5 2.5 0 1 0 -5.0 0M782.26 923.82a2.5 2.5 0 1 0 5.0 0a2.5 2.5 0 1 0 -5.0 0M782.78 924.75a2.5 2.5 0 1 0 5.0 0a2.5 2.5 0 1 0 -5.0 0M783.31 924.96a2.5 2.5 0 1 0 5.0 0a2.5 2.5 0 1 0 -5.0 0M783.83 923.81a2.5 2.5 0 1 0 5.0 0a2.5 2.5 0 1 0 -5.0 0M784.35 925.53a2.5 2.5 0 1 0 5.0 0a2.5 2.5 0 1 0 -5.0 0M784.88 924.15a2.5 2.5 0 1 0 5.0 0a2.5 2.5 0 1 0 -5.0 0M785.4 925.79a2.5 2.5 0 1 0 5.0 0a2.5 2.5 0 1 0 -5.0 0M785.92 924.91a2.5 2.5 0 1 0 5.0 0a2.5 2.5 0 1 0 -5.0 0M786.45 925.25a2.5 2.5 0 1 0 5.0 0a2.5 2.5 0 1 0 -5.0 0M786.97 923.56a2.5 2.5 0 1 0 5.0 0a2.5 2.5 0 1 0 -5.0 0M787.49 923.37a2.5 2.5 0 1 0 5.0 0a2.5 2.5 0 1 0 -5.0 0M788.02 924.69a2.5 2.5 0 1 0 5.0 0a2.5 2.5 0 1 0 -5.0 0M788.54 923.95a2.5 2.5 0 1 0 5.0 0a2.5 2.5 0 1 0 -5.0 0M789.06 924.6a2.5 2.5 0 1 0 5.0 0a2.5 2.5 0 1 0 -5.0 0M789.59 924.13a2.5 2.5 0 1 0 5.0 0a2.5 2.5 0 1 0 -5.0 0M790.11 924.96a2.5 2.5 0 1 0 5.0 0a2.5 2.5 0 1 0 -5.0 0M790.63 925.57a2.5 2.5 0 1 0 5.0 0a2.5 2.5 0 1 0 -5.0 0M791.16 925.63a2.5 2.5 0 1 0 5.0 0a2.5 2.5 0 1 0 -5.0 0M791.68 924.24a2.5 2.5 0 1 0 5.0 0a2.5 2.5 0 1 0 -5.0 0M792.2 923.06a2.5 2.5 0 1 0 5.0 0a2.5 2.5 0 1 0 -5.0 0M792.73 924.32a2.5 2.5 0 1 0 5.0 0a2.5 2.5 0 1 0 -5.0 0M793.25 924.82a2.5 2.5 0 1 0 5.0 0a2.5 2.5 0 1 0 -5.0 0M793.77 923.27a2.5 2.5 0 1 0 5.0 0a2.5 2.5 0 1 0 -5.0 0M794.3 924.34a2.5 2.5 0 1 0 5.0 0a2.5 2.5 0 1 0 -5.0 0M794.82 924.42a2.5 2.5 0 1 0 5.0 0a2.5 2.5 0 1 0 -5.0 0M795.35 924.33a2.5 2.5 0 1 0 5.0 0a2.5 2.5 0 1 0 -5.0 0M795.87 924.57a2.5 2.5 0 1 0 5.0 0a2.5 2.5 0 1 0 -5.0 0M796.39 924.68a2.5 2.5 0 1 0 5.0 0a2.5 2.5 0 1 0 -5.0 0M796.92 925.4a2.5 2.5 0 1 0 5.0 0a2.5 2.5 0 1 0 -5.0 0M797.44 924.17a2.5 2.5 0 1 0 5.0 0a2.5 2.5 0 1 0 -5.0 0M797.96 924.55a2.5 2.5 0 1 0 5.0 0a2.5 2.5 0 1 0 -5.0 0M798.49 923.73a2.5 2.5 0 1 0 5.0 0a2.5 2.5 0 1 0 -5.0 0M799.01 924.72a2.5 2.5 0 1 0 5.0 0a2.5 2.5 0 1 0 -5.0 0M799.53 925.69a2.5 2.5 0 1 0 5.0 0a2.5 2.5 0 1 0 -5.0 0M800.06 924.55a2.5 2.5 0 1 0 5.0 0a2.5 2.5 0 1 0 -5.0 0M800.58 923.41a2.5 2.5 0 1 0 5.0 0a2.5 2.5 0 1 0 -5.0 0M801.1 924.73a2.5 2.5 0 1 0 5.0 0a2.5 2.5 0 1 0 -5.0 0M801.63 925.05a2.5 2.5 0 1 0 5.0 0a2.5 2.5 0 1 0 -5.0 0M802.15 925.24a2.5 2.5 0 1 0 5.0 0a2.5 2.5 0 1 0 -5.0 0M802.67 925.15a2.5 2.5 0 1 0 5.0 0a2.5 2.5 0 1 0 -5.0 0M803.2 924.68a2.5 2.5 0 1 0 5.0 0a2.5 2.5 0 1 0 -5.0 0M803.72 925.23a2.5 2.5 0 1 0 5.0 0a2.5 2.5 0 1 0 -5.0 0M804.25 923.54a2.5 2.5 0 1 0 5.0 0a2.5 2.5 0 1 0 -5.0 0M804.77 924.66a2.5 2.5 0 1 0 5.0 0a2.5 2.5 0 1 0 -5.0 0M805.29 924.42a2.5 2.5 0 1 0 5.0 0a2.5 2.5 0 1 0 -5.0 0M805.82 923.57a2.5 2.5 0 1 0 5.0 0a2.5 2.5 0 1 0 -5.0 0M806.34 923.53a2.5 2.5 0 1 0 5.0 0a2.5 2.5 0 1 0 -5.0 0M806.86 924.62a2.5 2.5 0 1 0 5.0 0a2.5 2.5 0 1 0 -5.0 0M807.39 924.28a2.5 2.5 0 1 0 5.0 0a2.5 2.5 0 1 0 -5.0 0M807.91 924.02a2.5 2.5 0 1 0 5.0 0a2.5 2.5 0 1 0 -5.0 0M808.43 924.61a2.5 2.5 0 1 0 5.0 0a2.5 2.5 0 1 0 -5.0 0M808.96 925.61a2.5 2.5 0 1 0 5.0 0a2.5 2.5 0 1 0 -5.0 0M809.48 834.9a2.5 2.5 0 1 0 5.0 0a2.5 2.5 0 1 0 -5.0 0M810 822.43a2.5 2.5 0 1 0 5.0 0a2.5 2.5 0 1 0 -5.0 0M810.53 804.25a2.5 2.5 0 1 0 5.0 0a2.5 2.5 0 1 0 -5.0 0M811.05 790.74a2.5 2.5 0 1 0 5.0 0a2.5 2.5 0 1 0 -5.0 0M811.57 775.12a2.5 2.5 0 1 0 5.0 0a2.5 2.5 0 1 0 -5.0 0M812.1 765.82a2.5 2.5 0 1 0 5.0 0a2.5 2.5 0 1 0 -5.0 0M812.62 758.74a2.5 2.5 0 1 0 5.0 0a2.5 2.5 0 1 0 -5.0 0M813.14 750.37a2.5 2.5 0 1 0 5.0 0a2.5 2.5 0 1 0 -5.0 0M813.67 745.87a2.5 2.5 0 1 0 5.0 0a2.5 2.5 0 1 0 -5.0 0M814.19 744.28a2.5 2.5 0 1 0 5.0 0a2.5 2.5 0 1 0 -5.0 0M814.72 741.68a2.5 2.5 0 1 0 5.0 0a2.5 2.5 0 1 0 -5.0 0M815.24 738.93a2.5 2.5 0 1 0 5.0 0a2.5 2.5 0 1 0 -5.0 0M815.76 738.1a2.5 2.5 0 1 0 5.0 0a2.5 2.5 0 1 0 -5.0 0M816.29 735.97a2.5 2.5 0 1 0 5.0 0a2.5 2.5 0 1 0 -5.0 0M816.81 734.79a2.5 2.5 0 1 0 5.0 0a2.5 2.5 0 1 0 -5.0 0M817.33 730.69a2.5 2.5 0 1 0 5.0 0a2.5 2.5 0 1 0 -5.0 0M817.86 722.67a2.5 2.5 0 1 0 5.0 0a2.5 2.5 0 1 0 -5.0 0M818.38 722.27a2.5 2.5 0 1 0 5.0 0a2.5 2.5 0 1 0 -5.0 0M818.9 721.4a2.5 2.5 0 1 0 5.0 0a2.5 2.5 0 1 0 -5.0 0M819.43 718.29a2.5 2.5 0 1 0 5.0 0a2.5 2.5 0 1 0 -5.0 0M819.95 715.89a2.5 2.5 0 1 0 5.0 0a2.5 2.5 0 1 0 -5.0 0M820.47 710.31a2.5 2.5 0 1 0 5.0 0a2.5 2.5 0 1 0 -5.0 0M821 707.58a2.5 2.5 0 1 0 5.0 0a2.5 2.5 0 1 0 -5.0 0M821.52 708.9a2.5 2.5 0 1 0 5.0 0a2.5 2.5 0 1 0 -5.0 0M822.04 702.38a2.5 2.5 0 1 0 5.0 0a2.5 2.5 0 1 0 -5.0 0M822.57 702.26a2.5 2.5 0 1 0 5.0 0a2.5 2.5 0 1 0 -5.0 0M823.09 695.74a2.5 2.5 0 1 0 5.0 0a2.5 2.5 0 1 0 -5.0 0M823.61 696.16a2.5 2.5 0 1 0 5.0 0a2.5 2.5 0 1 0 -5.0 0M824.14 690.6a2.5 2.5 0 1 0 5.0 0a2.5 2.5 0 1 0 -5.0 0M824.66 692.9a2.5 2.5 0 1 0 5.0 0a2.5 2.5 0 1 0 -5.0 0M825.19 690.21a2.5 2.5 0 1 0 5.0 0a2.5 2.5 0 1 0 -5.0 0M825.71 686.55a2.5 2.5 0 1 0 5.0 0a2.5 2.5 0 1 0 -5.0 0M826.23 682.46a2.5 2.5 0 1 0 5.0 0a2.5 2.5 0 1 0 -5.0 0M826.76 680.96a2.5 2.5 0 1 0 5.0 0a2.5 2.5 0 1 0 -5.0 0M827.28 682.2a2.5 2.5 0 1 0 5.0 0a2.5 2.5 0 1 0 -5.0 0M827.8 676.64a2.5 2.5 0 1 0 5.0 0a2.5 2.5 0 1 0 -5.0 0M828.33 674.41a2.5 2.5 0 1 0 5.0 0a2.5 2.5 0 1 0 -5.0 0M828.85 672.83a2.5 2.5 0 1 0 5.0 0a2.5 2.5 0 1 0 -5.0 0M829.37 670.81a2.5 2.5 0 1 0 5.0 0a2.5 2.5 0 1 0 -5.0 0M829.9 663.33a2.5 2.5 0 1 0 5.0 0a2.5 2.5 0 1 0 -5.0 0M830.42 665.51a2.5 2.5 0 1 0 5.0 0a2.5 2.5 0 1 0 -5.0 0M830.94 664.21a2.5 2.5 0 1 0 5.0 0a2.5 2.5 0 1 0 -5.0 0M831.47 658.79a2.5 2.5 0 1 0 5.0 0a2.5 2.5 0 1 0 -5.0 0M831.99 657.57a2.5 2.5 0 1 0 5.0 0a2.5 2.5 0 1 0 -5.0 0M832.51 655.74a2.5 2.5 0 1 0 5.0 0a2.5 2.5 0 1 0 -5.0 0M833.04 651.72a2.5 2.5 0 1 0 5.0 0a2.5 2.5 0 1 0 -5.0 0M833.56 650.21a2.5 2.5 0 1 0 5.0 0a2.5 2.5 0 1 0 -5.0 0M834.08 648.46a2.5 2.5 0 1 0 5.0 0a2.5 2.5 0 1 0 -5.0 0M834.61 645.31a2.5 2.5 0 1 0 5.0 0a2.5 2.5 0 1 0 -5.0 0M835.13 645.04a2.5 2.5 0 1 0 5.0 0a2.5 2.5 0 1 0 -5.0 0M835.65 645.42a2.5 2.5 0 1 0 5.0 0a2.5 2.5 0 1 0 -5.0 0M836.18 643.54a2.5 2.5 0 1 0 5.0 0a2.5 2.5 0 1 0 -5.0 0M836.7 642.65a2.5 2.5 0 1 0 5.0 0a2.5 2.5 0 1 0 -5.0 0M837.23 639.97a2.5 2.5 0 1 0 5.0 0a2.5 2.5 0 1 0 -5.0 0M837.75 641.63a2.5 2.5 0 1 0 5.0 0a2.5 2.5 0 1 0 -5.0 0M838.27 642.21a2.5 2.5 0 1 0 5.0 0a2.5 2.5 0 1 0 -5.0 0M838.8 637.18a2.5 2.5 0 1 0 5.0 0a2.5 2.5 0 1 0 -5.0 0M839.32 639.23a2.5 2.5 0 1 0 5.0 0a2.5 2.5 0 1 0 -5.0 0M839.84 639.56a2.5 2.5 0 1 0 5.0 0a2.5 2.5 0 1 0 -5.0 0M840.37 633.65a2.5 2.5 0 1 0 5.0 0a2.5 2.5 0 1 0 -5.0 0M840.89 634.89a2.5 2.5 0 1 0 5.0 0a2.5 2.5 0 1 0 -5.0 0M841.41 631.29a2.5 2.5 0 1 0 5.0 0a2.5 2.5 0 1 0 -5.0 0M841.94 632.41a2.5 2.5 0 1 0 5.0 0a2.5 2.5 0 1 0 -5.0 0M842.46 632.61a2.5 2.5 0 1 0 5.0 0a2.5 2.5 0 1 0 -5.0 0M842.98 631.82a2.5 2.5 0 1 0 5.0 0a2.5 2.5 0 1 0 -5.0 0M843.51 629.24a2.5 2.5 0 1 0 5.0 0a2.5 2.5 0 1 0 -5.0 0M844.03 627.69a2.5 2.5 0 1 0 5.0 0a2.5 2.5 0 1 0 -5.0 0M844.55 627.81a2.5 2.5 0 1 0 5.0 0a2.5 2.5 0 1 0 -5.0 0M845.08 625.63a2.5 2.5 0 1 0 5.0 0a2.5 2.5 0 1 0 -5.0 0M845.6 627.24a2.5 2.5 0 1 0 5.0 0a2.5 2.5 0 1 0 -5.0 0M846.12 622.83a2.5 2.5 0 1 0 5.0 0a2.5 2.5 0 1 0 -5.0 0M846.65 625.37a2.5 2.5 0 1 0 5.0 0a2.5 2.5 0 1 0 -5.0 0M847.17 620.63a2.5 2.5 0 1 0 5.0 0a2.5 2.5 0 1 0 -5.0 0M847.7 617.37a2.5 2.5 0 1 0 5.0 0a2.5 2.5 0 1 0 -5.0 0M848.22 615.2a2.5 2.5 0 1 0 5.0 0a2.5 2.5 0 1 0 -5.0 0M848.74 612.65a2.5 2.5 0 1 0 5.0 0a2.5 2.5 0 1 0 -5.0 0M849.27 618.49a2.5 2.5 0 1 0 5.0 0a2.5 2.5 0 1 0 -5.0 0M849.79 612.76a2.5 2.5 0 1 0 5.0 0a2.5 2.5 0 1 0 -5.0 0M850.31 611.26a2.5 2.5 0 1 0 5.0 0a2.5 2.5 0 1 0 -5.0 0M850.84 611.54a2.5 2.5 0 1 0 5.0 0a2.5 2.5 0 1 0 -5.0 0M851.36 722.16a2.5 2.5 0 1 0 5.0 0a2.5 2.5 0 1 0 -5.0 0M851.88 725.96a2.5 2.5 0 1 0 5.0 0a2.5 2.5 0 1 0 -5.0 0M852.41 732.75a2.5 2.5 0 1 0 5.0 0a2.5 2.5 0 1 0 -5.0 0M852.93 746.62a2.5 2.5 0 1 0 5.0 0a2.5 2.5 0 1 0 -5.0 0M853.45 747.43a2.5 2.5 0 1 0 5.0 0a2.5 2.5 0 1 0 -5.0 0M853.98 750.23a2.5 2.5 0 1 0 5.0 0a2.5 2.5 0 1 0 -5.0 0M854.5 757.79a2.5 2.5 0 1 0 5.0 0a2.5 2.5 0 1 0 -5.0 0M855.02 757.98a2.5 2.5 0 1 0 5.0 0a2.5 2.5 0 1 0 -5.0 0M855.55 764.04a2.5 2.5 0 1 0 5.0 0a2.5 2.5 0 1 0 -5.0 0M856.07 766.61a2.5 2.5 0 1 0 5.0 0a2.5 2.5 0 1 0 -5.0 0M856.6 771.43a2.5 2.5 0 1 0 5.0 0a2.5 2.5 0 1 0 -5.0 0M857.12 778.61a2.5 2.5 0 1 0 5.0 0a2.5 2.5 0 1 0 -5.0 0M857.64 790.15a2.5 2.5 0 1 0 5.0 0a2.5 2.5 0 1 0 -5.0 0M858.17 796.4a2.5 2.5 0 1 0 5.0 0a2.5 2.5 0 1 0 -5.0 0M858.69 806.6a2.5 2.5 0 1 0 5.0 0a2.5 2.5 0 1 0 -5.0 0M859.21 810.74a2.5 2.5 0 1 0 5.0 0a2.5 2.5 0 1 0 -5.0 0M859.74 815.44a2.5 2.5 0 1 0 5.0 0a2.5 2.5 0 1 0 -5.0 0M860.26 825.52a2.5 2.5 0 1 0 5.0 0a2.5 2.5 0 1 0 -5.0 0M860.78 838.94a2.5 2.5 0 1 0 5.0 0a2.5 2.5 0 1 0 -5.0 0M861.31 841.78a2.5 2.5 0 1 0 5.0 0a2.5 2.5 0 1 0 -5.0 0M861.83 848.78a2.5 2.5 0 1 0 5.0 0a2.5 2.5 0 1 0 -5.0 0M862.35 850.81a2.5 2.5 0 1 0 5.0 0a2.5 2.5 0 1 0 -5.0 0M862.88 854.3a2.5 2.5 0 1 0 5.0 0a2.5 2.5 0 1 0 -5.0 0M863.4 855.29a2.5 2.5 0 1 0 5.0 0a2.5 2.5 0 1 0 -5.0 0M863.92 860.36a2.5 2.5 0 1 0 5.0 0a2.5 2.5 0 1 0 -5.0 0M864.45 867.23a2.5 2.5 0 1 0 5.0 0a2.5 2.5 0 1 0 -5.0 0M864.97 869.07a2.5 2.5 0 1 0 5.0 0a2.5 2.5 0 1 0 -5.0 0M865.49 867.57a2.5 2.5 0 1 0 5.0 0a2.5 2.5 0 1 0 -5.0 0M866.02 872.61a2.5 2.5 0 1 0 5.0 0a2.5 2.5 0 1 0 -5.0 0M866.54 872.58a2.5 2.5 0 1 0 5.0 0a2.5 2.5 0 1 0 -5.0 0M867.07 877.23a2.5 2.5 0 1 0 5.0 0a2.5 2.5 0 1 0 -5.0 0M867.59 882.09a2.5 2.5 0 1 0 5.0 0a2.5 2.5 0 1 0 -5.0 0M868.11 880.75a2.5 2.5 0 1 0 5.0 0a2.5 2.5 0 1 0 -5.0 0M868.64 887.04a2.5 2.5 0 1 0 5.0 0a2.5 2.5 0 1 0 -5.0 0M869.16 891.71a2.5 2.5 0 1 0 5.0 0a2.5 2.5 0 1 0 -5.0 0M869.68 884.74a2.5 2.5 0 1 0 5.0 0a2.5 2.5 0 1 0 -5.0 0M870.21 894.67a2.5 2.5 0 1 0 5.0 0a2.5 2.5 0 1 0 -5.0 0M870.73 890.75a2.5 2.5 0 1 0 5.0 0a2.5 2.5 0 1 0 -5.0 0M871.25 891.51a2.5 2.5 0 1 0 5.0 0a2.5 2.5 0 1 0 -5.0 0M871.78 894.52a2.5 2.5 0 1 0 5.0 0a2.5 2.5 0 1 0 -5.0 0M872.3 899.66a2.5 2.5 0 1 0 5.0 0a2.5 2.5 0 1 0 -5.0 0M872.82 895.17a2.5 2.5 0 1 0 5.0 0a2.5 2.5 0 1 0 -5.0 0M873.35 901.51a2.5 2.5 0 1 0 5.0 0a2.5 2.5 0 1 0 -5.0 0M873.87 902.4a2.5 2.5 0 1 0 5.0 0a2.5 2.5 0 1 0 -5.0 0M874.39 901.35a2.5 2.5 0 1 0 5.0 0a2.5 2.5 0 1 0 -5.0 0M874.92 899.89a2.5 2.5 0 1 0 5.0 0a2.5 2.5 0 1 0 -5.0 0M875.44 901.83a2.5 2.5 0 1 0 5.0 0a2.5 2.5 0 1 0 -5.0 0M875.96 901.59a2.5 2.5 0 1 0 5.0 0a2.5 2.5 0 1 0 -5.0 0M876.49 905.03a2.5 2.5 0 1 0 5.0 0a2.5 2.5 0 1 0 -5.0 0M877.01 905.18a2.5 2.5 0 1 0 5.0 0a2.5 2.5 0 1 0 -5.0 0M877.53 907.88a2.5 2.5 0 1 0 5.0 0a2.5 2.5 0 1 0 -5.0 0M878.06 906.76a2.5 2.5 0 1 0 5.0 0a2.5 2.5 0 1 0 -5.0 0M878.58 905.4a2.5 2.5 0 1 0 5.0 0a2.5 2.5 0 1 0 -5.0 0M879.11 907.83a2.5 2.5 0 1 0 5.0 0a2.5 2.5 0 1 0 -5.0 0M879.63 906.72a2.5 2.5 0 1 0 5.0 0a2.5 2.5 0 1 0 -5.0 0M880.15 909.45a2.5 2.5 0 1 0 5.0 0a2.5 2.5 0 1 0 -5.0 0M880.68 909.98a2.5 2.5 0 1 0 5.0 0a2.5 2.5 0 1 0 -5.0 0M881.2 909.12a2.5 2.5 0 1 0 5.0 0a2.5 2.5 0 1 0 -5.0 0M881.72 910.07a2.5 2.5 0 1 0 5.0 0a2.5 2.5 0 1 0 -5.0 0M882.25 908.85a2.5 2.5 0 1 0 5.0 0a2.5 2.5 0 1 0 -5.0 0M882.77 910.14a2.5 2.5 0 1 0 5.0 0a2.5 2.5 0 1 0 -5.0 0M883.29 907.25a2.5 2.5 0 1 0 5.0 0a2.5 2.5 0 1 0 -5.0 0M883.82 911.79a2.5 2.5 0 1 0 5.0 0a2.5 2.5 0 1 0 -5.0 0M884.34 912.18a2.5 2.5 0 1 0 5.0 0a2.5 2.5 0 1 0 -5.0 0M884.86 914.27a2.5 2.5 0 1 0 5.0 0a2.5 2.5 0 1 0 -5.0 0M885.39 912.38a2.5 2.5 0 1 0 5.0 0a2.5 2.5 0 1 0 -5.0 0M885.91 911.32a2.5 2.5 0 1 0 5.0 0a2.5 2.5 0 1 0 -5.0 0M886.43 914.66a2.5 2.5 0 1 0 5.0 0a2.5 2.5 0 1 0 -5.0 0M886.96 913.52a2.5 2.5 0 1 0 5.0 0a2.5 2.5 0 1 0 -5.0 0M887.48 912.2a2.5 2.5 0 1 0 5.0 0a2.5 2.5 0 1 0 -5.0 0M888 914.28a2.5 2.5 0 1 0 5.0 0a2.5 2.5 0 1 0 -5.0 0M888.53 914.63a2.5 2.5 0 1 0 5.0 0a2.5 2.5 0 1 0 -5.0 0M889.05 913.96a2.5 2.5 0 1 0 5.0 0a2.5 2.5 0 1 0 -5.0 0M889.58 914.78a2.5 2.5 0 1 0 5.0 0a2.5 2.5 0 1 0 -5.0 0M890.1 914.85a2.5 2.5 0 1 0 5.0 0a2.5 2.5 0 1 0 -5.0 0M890.62 914.61a2.5 2.5 0 1 0 5.0 0a2.5 2.5 0 1 0 -5.0 0M891.15 914.87a2.5 2.5 0 1 0 5.0 0a2.5 2.5 0 1 0 -5.0 0M891.67 916.06a2.5 2.5 0 1 0 5.0 0a2.5 2.5 0 1 0 -5.0 0M892.19 916.4a2.5 2.5 0 1 0 5.0 0a2.5 2.5 0 1 0 -5.0 0M892.72 916.11a2.5 2.5 0 1 0 5.0 0a2.5 2.5 0 1 0 -5.0 0M893.24 916.59a2.5 2.5 0 1 0 5.0 0a2.5 2.5 0 1 0 -5.0 0M893.76 917.92a2.5 2.5 0 1 0 5.0 0a2.5 2.5 0 1 0 -5.0 0M894.29 916.12a2.5 2.5 0 1 0 5.0 0a2.5 2.5 0 1 0 -5.0 0M894.81 917.11a2.5 2.5 0 1 0 5.0 0a2.5 2.5 0 1 0 -5.0 0M895.33 916.85a2.5 2.5 0 1 0 5.0 0a2.5 2.5 0 1 0 -5.0 0M895.86 918.25a2.5 2.5 0 1 0 5.0 0a2.5 2.5 0 1 0 -5.0 0M896.38 916.87a2.5 2.5 0 1 0 5.0 0a2.5 2.5 0 1 0 -5.0 0M896.9 918.24a2.5 2.5 0 1 0 5.0 0a2.5 2.5 0 1 0 -5.0 0M897.43 918.11a2.5 2.5 0 1 0 5.0 0a2.5 2.5 0 1 0 -5.0 0M897.95 919.1a2.5 2.5 0 1 0 5.0 0a2.5 2.5 0 1 0 -5.0 0M898.48 918.49a2.5 2.5 0 1 0 5.0 0a2.5 2.5 0 1 0 -5.0 0M899 918.69a2.5 2.5 0 1 0 5.0 0a2.5 2.5 0 1 0 -5.0 0M899.52 918.82a2.5 2.5 0 1 0 5.0 0a2.5 2.5 0 1 0 -5.0 0M900.05 918.58a2.5 2.5 0 1 0 5.0 0a2.5 2.5 0 1 0 -5.0 0M900.57 918.98a2.5 2.5 0 1 0 5.0 0a2.5 2.5 0 1 0 -5.0 0M901.09 918.55a2.5 2.5 0 1 0 5.0 0a2.5 2.5 0 1 0 -5.0 0M901.62 919.61a2.5 2.5 0 1 0 5.0 0a2.5 2.5 0 1 0 -5.0 0M902.14 920.1a2.5 2.5 0 1 0 5.0 0a2.5 2.5 0 1 0 -5.0 0M902.66 919.62a2.5 2.5 0 1 0 5.0 0a2.5 2.5 0 1 0 -5.0 0M903.19 919.36a2.5 2.5 0 1 0 5.0 0a2.5 2.5 0 1 0 -5.0 0M903.71 919.11a2.5 2.5 0 1 0 5.0 0a2.5 2.5 0 1 0 -5.0 0M904.23 919.53a2.5 2.5 0 1 0 5.0 0a2.5 2.5 0 1 0 -5.0 0M904.76 921.3a2.5 2.5 0 1 0 5.0 0a2.5 2.5 0 1 0 -5.0 0M905.28 920.09a2.5 2.5 0 1 0 5.0 0a2.5 2.5 0 1 0 -5.0 0M905.8 919.54a2.5 2.5 0 1 0 5.0 0a2.5 2.5 0 1 0 -5.0 0M906.33 920.57a2.5 2.5 0 1 0 5.0 0a2.5 2.5 0 1 0 -5.0 0M906.85 921.08a2.5 2.5 0 1 0 5.0 0a2.5 2.5 0 1 0 -5.0 0M907.37 920.7a2.5 2.5 0 1 0 5.0 0a2.5 2.5 0 1 0 -5.0 0M907.9 921.36a2.5 2.5 0 1 0 5.0 0a2.5 2.5 0 1 0 -5.0 0M908.42 920.78a2.5 2.5 0 1 0 5.0 0a2.5 2.5 0 1 0 -5.0 0M908.95 921.33a2.5 2.5 0 1 0 5.0 0a2.5 2.5 0 1 0 -5.0 0M909.47 920.58a2.5 2.5 0 1 0 5.0 0a2.5 2.5 0 1 0 -5.0 0M909.99 921.29a2.5 2.5 0 1 0 5.0 0a2.5 2.5 0 1 0 -5.0 0M910.52 922.2a2.5 2.5 0 1 0 5.0 0a2.5 2.5 0 1 0 -5.0 0M911.04 921.49a2.5 2.5 0 1 0 5.0 0a2.5 2.5 0 1 0 -5.0 0M911.56 921.41a2.5 2.5 0 1 0 5.0 0a2.5 2.5 0 1 0 -5.0 0M912.09 922.5a2.5 2.5 0 1 0 5.0 0a2.5 2.5 0 1 0 -5.0 0M912.61 922.54a2.5 2.5 0 1 0 5.0 0a2.5 2.5 0 1 0 -5.0 0M913.13 923.86a2.5 2.5 0 1 0 5.0 0a2.5 2.5 0 1 0 -5.0 0M913.66 921.95a2.5 2.5 0 1 0 5.0 0a2.5 2.5 0 1 0 -5.0 0M914.18 818.9a2.5 2.5 0 1 0 5.0 0a2.5 2.5 0 1 0 -5.0 0M914.7 811.43a2.5 2.5 0 1 0 5.0 0a2.5 2.5 0 1 0 -5.0 0M915.23 800.17a2.5 2.5 0 1 0 5.0 0a2.5 2.5 0 1 0 -5.0 0M915.75 788.34a2.5 2.5 0 1 0 5.0 0a2.5 2.5 0 1 0 -5.0 0M916.27 779.37a2.5 2.5 0 1 0 5.0 0a2.5 2.5 0 1 0 -5.0 0M916.8 775.03a2.5 2.5 0 1 0 5.0 0a2.5 2.5 0 1 0 -5.0 0M917.32 767.86a2.5 2.5 0 1 0 5.0 0a2.5 2.5 0 1 0 -5.0 0M917.84 765.26a2.5 2.5 0 1 0 5.0 0a2.5 2.5 0 1 0 -5.0 0M918.37 759.93a2.5 2.5 0 1 0 5.0 0a2.5 2.5 0 1 0 -5.0 0M918.89 749.52a2.5 2.5 0 1 0 5.0 0a2.5 2.5 0 1 0 -5.0 0M919.41 744.8a2.5 2.5 0 1 0 5.0 0a2.5 2.5 0 1 0 -5.0 0M919.94 740.53a2.5 2.5 0 1 0 5.0 0a2.5 2.5 0 1 0 -5.0 0M920.46 732.6a2.5 2.5 0 1 0 5.0 0a2.5 2.5 0 1 0 -5.0 0M920.99 732.4a2.5 2.5 0 1 0 5.0 0a2.5 2.5 0 1 0 -5.0 0M921.51 726.63a2.5 2.5 0 1 0 5.0 0a2.5 2.5 0 1 0 -5.0 0M922.03 719.23a2.5 2.5 0 1 0 5.0 0a2.5 2.5 0 1 0 -5.0 0M922.56 713.49a2.5 2.5 0 1 0 5.0 0a2.5 2.5 0 1 0 -5.0 0M923.08 713.58a2.5 2.5 0 1 0 5.0 0a2.5 2.5 0 1 0 -5.0 0M923.6 706.49a2.5 2.5 0 1 0 5.0 0a2.5 2.5 0 1 0 -5.0 0M924.13 707.93a2.5 2.5 0 1 0 5.0 0a2.5 2.5 0 1 0 -5.0 0M924.65 702.72a2.5 2.5 0 1 0 5.0 0a2.5 2.5 0 1 0 -5.0 0M925.17 700.65a2.5 2.5 0 1 0 5.0 0a2.5 2.5 0 1 0 -5.0 0M925.7 700.57a2.5 2.5 0 1 0 5.0 0a2.5 2.5 0 1 0 -5.0 0M926.22 693.62a2.5 2.5 0 1 0 5.0 0a2.5 2.5 0 1 0 -5.0 0M926.74 689.14a2.5 2.5 0 1 0 5.0 0a2.5 2.5 0 1 0 -5.0 0M927.27 688.32a2.5 2.5 0 1 0 5.0 0a2.5 2.5 0 1 0 -5.0 0M927.79 684.96a2.5 2.5 0 1 0 5.0 0a2.5 2.5 0 1 0 -5.0 0M928.31 678.53a2.5 2.5 0 1 0 5.0 0a2.5 2.5 0 1 0 -5.0 0M928.84 680.64a2.5 2.5 0 1 0 5.0 0a2.5 2.5 0 1 0 -5.0 0M929.36 677.63a2.5 2.5 0 1 0 5.0 0a2.5 2.5 0 1 0 -5.0 0M929.88 672.29a2.5 2.5 0 1 0 5.0 0a2.5 2.5 0 1 0 -5.0 0M930.41 669.94a2.5 2.5 0 1 0 5.0 0a2.5 2.5 0 1 0 -5.0 0M930.93 661.18a2.5 2.5 0 1 0 5.0 0a2.5 2.5 0 1 0 -5.0 0M931.46 660.15a2.5 2.5 0 1 0 5.0 0a2.5 2.5 0 1 0 -5.0 0M931.98 659.64a2.5 2.5 0 1 0 5.0 0a2.5 2.5 0 1 0 -5.0 0M932.5 656.43a2.5 2.5 0 1 0 5.0 0a2.5 2.5 0 1 0 -5.0 0M933.03 646.76a2.5 2.5 0 1 0 5.0 0a2.5 2.5 0 1 0 -5.0 0M933.55 652.03a2.5 2.5 0 1 0 5.0 0a2.5 2.5 0 1 0 -5.0 0M934.07 650.42a2.5 2.5 0 1 0 5.0 0a2.5 2.5 0 1 0 -5.0 0M934.6 646.36a2.5 2.5 0 1 0 5.0 0a2.5 2.5 0 1 0 -5.0 0M935.12 643.95a2.5 2.5 0 1 0 5.0 0a2.5 2.5 0 1 0 -5.0 0M935.64 643.21a2.5 2.5 0 1 0 5.0 0a2.5 2.5 0 1 0 -5.0 0M936.17 644.07a2.5 2.5 0 1 0 5.0 0a2.5 2.5 0 1 0 -5.0 0M936.69 643.13a2.5 2.5 0 1 0 5.0 0a2.5 2.5 0 1 0 -5.0 0M937.21 638a2.5 2.5 0 1 0 5.0 0a2.5 2.5 0 1 0 -5.0 0M937.74 638a2.5 2.5 0 1 0 5.0 0a2.5 2.5 0 1 0 -5.0 0M938.26 639.99a2.5 2.5 0 1 0 5.0 0a2.5 2.5 0 1 0 -5.0 0M938.78 632.7a2.5 2.5 0 1 0 5.0 0a2.5 2.5 0 1 0 -5.0 0M939.31 632.19a2.5 2.5 0 1 0 5.0 0a2.5 2.5 0 1 0 -5.0 0M939.83 632.96a2.5 2.5 0 1 0 5.0 0a2.5 2.5 0 1 0 -5.0 0M940.36 631.6a2.5 2.5 0 1 0 5.0 0a2.5 2.5 0 1 0 -5.0 0M940.88 629.12a2.5 2.5 0 1 0 5.0 0a2.5 2.5 0 1 0 -5.0 0M941.4 629.59a2.5 2.5 0 1 0 5.0 0a2.5 2.5 0 1 0 -5.0 0M941.93 629.5a2.5 2.5 0 1 0 5.0 0a2.5 2.5 0 1 0 -5.0 0M942.45 624.49a2.5 2.5 0 1 0 5.0 0a2.5 2.5 0 1 0 -5.0 0M942.97 626.75a2.5 2.5 0 1 0 5.0 0a2.5 2.5 0 1 0 -5.0 0M943.5 621.46a2.5 2.5 0 1 0 5.0 0a2.5 2.5 0 1 0 -5.0 0M944.02 623.96a2.5 2.5 0 1 0 5.0 0a2.5 2.5 0 1 0 -5.0 0M944.54 619.82a2.5 2.5 0 1 0 5.0 0a2.5 2.5 0 1 0 -5.0 0M945.07 618.67a2.5 2.5 0 1 0 5.0 0a2.5 2.5 0 1 0 -5.0 0M945.59 613.48a2.5 2.5 0 1 0 5.0 0a2.5 2.5 0 1 0 -5.0 0M946.11 618.48a2.5 2.5 0 1 0 5.0 0a2.5 2.5 0 1 0 -5.0 0M946.64 618.33a2.5 2.5 0 1 0 5.0 0a2.5 2.5 0 1 0 -5.0 0M947.16 615.96a2.5 2.5 0 1 0 5.0 0a2.5 2.5 0 1 0 -5.0 0M947.68 616.35a2.5 2.5 0 1 0 5.0 0a2.5 2.5 0 1 0 -5.0 0M948.21 614.62a2.5 2.5 0 1 0 5.0 0a2.5 2.5 0 1 0 -5.0 0M948.73 611.88a2.5 2.5 0 1 0 5.0 0a2.5 2.5 0 1 0 -5.0 0M949.25 610.56a2.5 2.5 0 1 0 5.0 0a2.5 2.5 0 1 0 -5.0 0M949.78 608.13a2.5 2.5 0 1 0 5.0 0a2.5 2.5 0 1 0 -5.0 0M950.3 612.65a2.5 2.5 0 1 0 5.0 0a2.5 2.5 0 1 0 -5.0 0M950.83 605.01a2.5 2.5 0 1 0 5.0 0a2.5 2.5 0 1 0 -5.0 0M951.35 605.92a2.5 2.5 0 1 0 5.0 0a2.5 2.5 0 1 0 -5.0 0M951.87 610.1a2.5 2.5 0 1 0 5.0 0a2.5 2.5 0 1 0 -5.0 0M952.4 614.11a2.5 2.5 0 1 0 5.0 0a2.5 2.5 0 1 0 -5.0 0M952.92 609.09a2.5 2.5 0 1 0 5.0 0a2.5 2.5 0 1 0 -5.0 0M953.44 608.46a2.5 2.5 0 1 0 5.0 0a2.5 2.5 0 1 0 -5.0 0M953.97 613.22a2.5 2.5 0 1 0 5.0 0a2.5 2.5 0 1 0 -5.0 0M954.49 608.02a2.5 2.5 0 1 0 5.0 0a2.5 2.5 0 1 0 -5.0 0M955.01 608.47a2.5 2.5 0 1 0 5.0 0a2.5 2.5 0 1 0 -5.0 0M955.54 718.48a2.5 2.5 0 1 0 5.0 0a2.5 2.5 0 1 0 -5.0 0M956.06 725.1a2.5 2.5 0 1 0 5.0 0a2.5 2.5 0 1 0 -5.0 0M956.58 734.53a2.5 2.5 0 1 0 5.0 0a2.5 2.5 0 1 0 -5.0 0M957.11 748.08a2.5 2.5 0 1 0 5.0 0a2.5 2.5 0 1 0 -5.0 0M957.63 755.55a2.5 2.5 0 1 0 5.0 0a2.5 2.5 0 1 0 -5.0 0M958.15 763.92a2.5 2.5 0 1 0 5.0 0a2.5 2.5 0 1 0 -5.0 0M958.68 769.34a2.5 2.5 0 1 0 5.0 0a2.5 2.5 0 1 0 -5.0 0M959.2 771.84a2.5 2.5 0 1 0 5.0 0a2.5 2.5 0 1 0 -5.0 0M959.72 774.88a2.5 2.5 0 1 0 5.0 0a2.5 2.5 0 1 0 -5.0 0M960.25 781.27a2.5 2.5 0 1 0 5.0 0a2.5 2.5 0 1 0 -5.0 0M960.77 789.42a2.5 2.5 0 1 0 5.0 0a2.5 2.5 0 1 0 -5.0 0M961.3 789.21a2.5 2.5 0 1 0 5.0 0a2.5 2.5 0 1 0 -5.0 0M961.82 801.46a2.5 2.5 0 1 0 5.0 0a2.5 2.5 0 1 0 -5.0 0M962.34 807a2.5 2.5 0 1 0 5.0 0a2.5 2.5 0 1 0 -5.0 0M962.87 812.69a2.5 2.5 0 1 0 5.0 0a2.5 2.5 0 1 0 -5.0 0M963.39 824.88a2.5 2.5 0 1 0 5.0 0a2.5 2.5 0 1 0 -5.0 0M963.91 835.84a2.5 2.5 0 1 0 5.0 0a2.5 2.5 0 1 0 -5.0 0M964.44 843.98a2.5 2.5 0 1 0 5.0 0a2.5 2.5 0 1 0 -5.0 0M964.96 844.06a2.5 2.5 0 1 0 5.0 0a2.5 2.5 0 1 0 -5.0 0M965.48 851.15a2.5 2.5 0 1 0 5.0 0a2.5 2.5 0 1 0 -5.0 0M966.01 854.01a2.5 2.5 0 1 0 5.0 0a2.5 2.5 0 1 0 -5.0 0M966.53 856.79a2.5 2.5 0 1 0 5.0 0a2.5 2.5 0 1 0 -5.0 0M967.05 862.11a2.5 2.5 0 1 0 5.0 0a2.5 2.5 0 1 0 -5.0 0M967.58 865.69a2.5 2.5 0 1 0 5.0 0a2.5 2.5 0 1 0 -5.0 0M968.1 869.93a2.5 2.5 0 1 0 5.0 0a2.5 2.5 0 1 0 -5.0 0M968.62 877.3a2.5 2.5 0 1 0 5.0 0a2.5 2.5 0 1 0 -5.0 0M969.15 876.86a2.5 2.5 0 1 0 5.0 0a2.5 2.5 0 1 0 -5.0 0M969.67 876.65a2.5 2.5 0 1 0 5.0 0a2.5 2.5 0 1 0 -5.0 0M970.19 879.69a2.5 2.5 0 1 0 5.0 0a2.5 2.5 0 1 0 -5.0 0M970.72 881.22a2.5 2.5 0 1 0 5.0 0a2.5 2.5 0 1 0 -5.0 0M971.24 885.01a2.5 2.5 0 1 0 5.0 0a2.5 2.5 0 1 0 -5.0 0M971.76 886.96a2.5 2.5 0 1 0 5.0 0a2.5 2.5 0 1 0 -5.0 0M972.29 888.06a2.5 2.5 0 1 0 5.0 0a2.5 2.5 0 1 0 -5.0 0M972.81 893.87a2.5 2.5 0 1 0 5.0 0a2.5 2.5 0 1 0 -5.0 0M973.34 894.7a2.5 2.5 0 1 0 5.0 0a2.5 2.5 0 1 0 -5.0 0M973.86 899.39a2.5 2.5 0 1 0 5.0 0a2.5 2.5 0 1 0 -5.0 0M974.38 895.61a2.5 2.5 0 1 0 5.0 0a2.5 2.5 0 1 0 -5.0 0M974.91 899.01a2.5 2.5 0 1 0 5.0 0a2.5 2.5 0 1 0 -5.0 0M975.43 899.21a2.5 2.5 0 1 0 5.0 0a2.5 2.5 0 1 0 -5.0 0M975.95 897.91a2.5 2.5 0 1 0 5.0 0a2.5 2.5 0 1 0 -5.0 0M976.48 899.76a2.5 2.5 0 1 0 5.0 0a2.5 2.5 0 1 0 -5.0 0M977 903.01a2.5 2.5 0 1 0 5.0 0a2.5 2.5 0 1 0 -5.0 0M977.52 902.02a2.5 2.5 0 1 0 5.0 0a2.5 2.5 0 1 0 -5.0 0M978.05 907.48a2.5 2.5 0 1 0 5.0 0a2.5 2.5 0 1 0 -5.0 0M978.57 904.27a2.5 2.5 0 1 0 5.0 0a2.5 2.5 0 1 0 -5.0 0M979.09 905.6a2.5 2.5 0 1 0 5.0 0a2.5 2.5 0 1 0 -5.0 0M979.62 909.98a2.5 2.5 0 1 0 5.0 0a2.5 2.5 0 1 0 -5.0 0M980.14 904.38a2.5 2.5 0 1 0 5.0 0a2.5 2.5 0 1 0 -5.0 0M980.66 909.3a2.5 2.5 0 1 0 5.0 0a2.5 2.5 0 1 0 -5.0 0M981.19 906.96a2.5 2.5 0 1 0 5.0 0a2.5 2.5 0 1 0 -5.0 0M981.71 909.85a2.5 2.5 0 1 0 5.0 0a2.5 2.5 0 1 0 -5.0 0M982.24 907.39a2.5 2.5 0 1 0 5.0 0a2.5 2.5 0 1 0 -5.0 0M982.76 907.22a2.5 2.5 0 1 0 5.0 0a2.5 2.5 0 1 0 -5.0 0M983.28 912.23a2.5 2.5 0 1 0 5.0 0a2.5 2.5 0 1 0 -5.0 0M983.81 914.16a2.5 2.5 0 1 0 5.0 0a2.5 2.5 0 1 0 -5.0 0M984.33 911.64a2.5 2.5 0 1 0 5.0 0a2.5 2.5 0 1 0 -5.0 0M984.85 909.98a2.5 2.5 0 1 0 5.0 0a2.5 2.5 0 1 0 -5.0 0M985.38 912.95a2.5 2.5 0 1 0 5.0 0a2.5 2.5 0 1 0 -5.0 0M985.9 913.83a2.5 2.5 0 1 0 5.0 0a2.5 2.5 0 1 0 -5.0 0M986.42 911.86a2.5 2.5 0 1 0 5.0 0a2.5 2.5 0 1 0 -5.0 0M986.95 919.06a2.5 2.5 0 1 0 5.0 0a2.5 2.5 0 1 0 -5.0 0M987.47 914.95a2.5 2.5 0 1 0 5.0 0a2.5 2.5 0 1 0 -5.0 0M987.99 916.76a2.5 2.5 0 1 0 5.0 0a2.5 2.5 0 1 0 -5.0 0M988.52 913.94a2.5 2.5 0 1 0 5.0 0a2.5 2.5 0 1 0 -5.0 0M989.04 914.86a2.5 2.5 0 1 0 5.0 0a2.5 2.5 0 1 0 -5.0 0M989.56 915.36a2.5 2.5 0 1 0 5.0 0a2.5 2.5 0 1 0 -5.0 0M990.09 915.13a2.5 2.5 0 1 0 5.0 0a2.5 2.5 0 1 0 -5.0 0M990.61 916.08a2.5 2.5 0 1 0 5.0 0a2.5 2.5 0 1 0 -5.0 0M991.13 915.39a2.5 2.5 0 1 0 5.0 0a2.5 2.5 0 1 0 -5.0 0M991.66 916.05a2.5 2.5 0 1 0 5.0 0a2.5 2.5 0 1 0 -5.0 0M992.18 916.08a2.5 2.5 0 1 0 5.0 0a2.5 2.5 0 1 0 -5.0 0M992.71 916.52a2.5 2.5 0 1 0 5.0 0a2.5 2.5 0 1 0 -5.0 0M993.23 915.7a2.5 2.5 0 1 0 5.0 0a2.5 2.5 0 1 0 -5.0 0M993.75 916.56a2.5 2.5 0 1 0 5.0 0a2.5 2.5 0 1 0 -5.0 0M994.28 916.37a2.5 2.5 0 1 0 5.0 0a2.5 2.5 0 1 0 -5.0 0M994.8 916.6a2.5 2.5 0 1 0 5.0 0a2.5 2.5 0 1 0 -5.0 0M995.32 917.61a2.5 2.5 0 1 0 5.0 0a2.5 2.5 0 1 0 -5.0 0M995.85 916.93a2.5 2.5 0 1 0 5.0 0a2.5 2.5 0 1 0 -5.0 0M996.37 917.26a2.5 2.5 0 1 0 5.0 0a2.5 2.5 0 1 0 -5.0 0M996.89 917.47a2.5 2.5 0 1 0 5.0 0a2.5 2.5 0 1 0 -5.0 0M997.42 918.1a2.5 2.5 0 1 0 5.0 0a2.5 2.5 0 1 0 -5.0 0M997.94 918.29a2.5 2.5 0 1 0 5.0 0a2.5 2.5 0 1 0 -5.0 0M998.46 917.7a2.5 2.5 0 1 0 5.0 0a2.5 2.5 0 1 0 -5.0 0M998.99 916.98a2.5 2.5 0 1 0 5.0 0a2.5 2.5 0 1 0 -5.0 0M999.51 919.05a2.5 2.5 0 1 0 5.0 0a2.5 2.5 0 1 0 -5.0 0M1000.03 918.35a2.5 2.5 0 1 0 5.0 0a2.5 2.5 0 1 0 -5.0 0M1000.56 919.07a2.5 2.5 0 1 0 5.0 0a2.5 2.5 0 1 0 -5.0 0M1001.08 918.5a2.5 2.5 0 1 0 5.0 0a2.5 2.5 0 1 0 -5.0 0M1001.6 918.87a2.5 2.5 0 1 0 5.0 0a2.5 2.5 0 1 0 -5.0 0M1002.13 918.62a2.5 2.5 0 1 0 5.0 0a2.5 2.5 0 1 0 -5.0 0M1002.65 921.2a2.5 2.5 0 1 0 5.0 0a2.5 2.5 0 1 0 -5.0 0M1003.17 919.95a2.5 2.5 0 1 0 5.0 0a2.5 2.5 0 1 0 -5.0 0M1003.7 920.34a2.5 2.5 0 1 0 5.0 0a2.5 2.5 0 1 0 -5.0 0M1004.22 919.91a2.5 2.5 0 1 0 5.0 0a2.5 2.5 0 1 0 -5.0 0M1004.75 920.43a2.5 2.5 0 1 0 5.0 0a2.5 2.5 0 1 0 -5.0 0M1005.27 920.51a2.5 2.5 0 1 0 5.0 0a2.5 2.5 0 1 0 -5.0 0M1005.79 919.79a2.5 2.5 0 1 0 5.0 0a2.5 2.5 0 1 0 -5.0 0M1006.32 919.14a2.5 2.5 0 1 0 5.0 0a2.5 2.5 0 1 0 -5.0 0M1006.84 922.26a2.5 2.5 0 1 0 5.0 0a2.5 2.5 0 1 0 -5.0 0M1007.36 920.78a2.5 2.5 0 1 0 5.0 0a2.5 2.5 0 1 0 -5.0 0M1007.89 920.5a2.5 2.5 0 1 0 5.0 0a2.5 2.5 0 1 0 -5.0 0M1008.41 920.81a2.5 2.5 0 1 0 5.0 0a2.5 2.5 0 1 0 -5.0 0M1008.93 921.14a2.5 2.5 0 1 0 5.0 0a2.5 2.5 0 1 0 -5.0 0M1009.46 921.89a2.5 2.5 0 1 0 5.0 0a2.5 2.5 0 1 0 -5.0 0M1009.98 921.73a2.5 2.5 0 1 0 5.0 0a2.5 2.5 0 1 0 -5.0 0M1010.5 920.78a2.5 2.5 0 1 0 5.0 0a2.5 2.5 0 1 0 -5.0 0M1011.03 920.66a2.5 2.5 0 1 0 5.0 0a2.5 2.5 0 1 0 -5.0 0M1011.55 921.38a2.5 2.5 0 1 0 5.0 0a2.5 2.5 0 1 0 -5.0 0M1012.07 922.07a2.5 2.5 0 1 0 5.0 0a2.5 2.5 0 1 0 -5.0 0M1012.6 921.58a2.5 2.5 0 1 0 5.0 0a2.5 2.5 0 1 0 -5.0 0M1013.12 921.89a2.5 2.5 0 1 0 5.0 0a2.5 2.5 0 1 0 -5.0 0M1013.64 921.49a2.5 2.5 0 1 0 5.0 0a2.5 2.5 0 1 0 -5.0 0M1014.17 921.85a2.5 2.5 0 1 0 5.0 0a2.5 2.5 0 1 0 -5.0 0M1014.69 922.41a2.5 2.5 0 1 0 5.0 0a2.5 2.5 0 1 0 -5.0 0M1015.22 921.99a2.5 2.5 0 1 0 5.0 0a2.5 2.5 0 1 0 -5.0 0M1015.74 922.94a2.5 2.5 0 1 0 5.0 0a2.5 2.5 0 1 0 -5.0 0M1016.26 921.75a2.5 2.5 0 1 0 5.0 0a2.5 2.5 0 1 0 -5.0 0M1016.79 921.6a2.5 2.5 0 1 0 5.0 0a2.5 2.5 0 1 0 -5.0 0M1017.31 923.16a2.5 2.5 0 1 0 5.0 0a2.5 2.5 0 1 0 -5.0 0M1017.83 922.22a2.5 2.5 0 1 0 5.0 0a2.5 2.5 0 1 0 -5.0 0M1018.36 923.18a2.5 2.5 0 1 0 5.0 0a2.5 2.5 0 1 0 -5.0 0M1018.88 822.86a2.5 2.5 0 1 0 5.0 0a2.5 2.5 0 1 0 -5.0 0M1019.4 812.45a2.5 2.5 0 1 0 5.0 0a2.5 2.5 0 1 0 -5.0 0M1019.93 807.41a2.5 2.5 0 1 0 5.0 0a2.5 2.5 0 1 0 -5.0 0M1020.45 799.28a2.5 2.5 0 1 0 5.0 0a2.5 2.5 0 1 0 -5.0 0M1020.97 797.05a2.5 2.5 0 1 0 5.0 0a2.5 2.5 0 1 0 -5.0 0M1021.5 791.12a2.5 2.5 0 1 0 5.0 0a2.5 2.5 0 1 0 -5.0 0M1022.02 783.21a2.5 2.5 0 1 0 5.0 0a2.5 2.5 0 1 0 -5.0 0M1022.54 773.68a2.5 2.5 0 1 0 5.0 0a2.5 2.5 0 1 0 -5.0 0M1023.07 765.03a2.5 2.5 0 1 0 5.0 0a2.5 2.5 0 1 0 -5.0 0M1023.59 755.02a2.5 2.5 0 1 0 5.0 0a2.5 2.5 0 1 0 -5.0 0M1024.12 748.13a2.5 2.5 0 1 0 5.0 0a2.5 2.5 0 1 0 -5.0 0M1024.64 737.64a2.5 2.5 0 1 0 5.0 0a2.5 2.5 0 1 0 -5.0 0M1025.16 730.62a2.5 2.5 0 1 0 5.0 0a2.5 2.5 0 1 0 -5.0 0M1025.69 727.7a2.5 2.5 0 1 0 5.0 0a2.5 2.5 0 1 0 -5.0 0M1026.21 723.83a2.5 2.5 0 1 0 5.0 0a2.5 2.5 0 1 0 -5.0 0M1026.73 713.71a2.5 2.5 0 1 0 5.0 0a2.5 2.5 0 1 0 -5.0 0M1027.26 707.52a2.5 2.5 0 1 0 5.0 0a2.5 2.5 0 1 0 -5.0 0M1027.78 705.19a2.5 2.5 0 1 0 5.0 0a2.5 2.5 0 1 0 -5.0 0M1028.3 702.7a2.5 2.5 0 1 0 5.0 0a2.5 2.5 0 1 0 -5.0 0M1028.83 694.77a2.5 2.5 0 1 0 5.0 0a2.5 2.5 0 1 0 -5.0 0M1029.35 687.65a2.5 2.5 0 1 0 5.0 0a2.5 2.5 0 1 0 -5.0 0M1029.87 690.55a2.5 2.5 0 1 0 5.0 0a2.5 2.5 0 1 0 -5.0 0M1030.4 681.43a2.5 2.5 0 1 0 5.0 0a2.5 2.5 0 1 0 -5.0 0M1030.92 679.01a2.5 2.5 0 1 0 5.0 0a2.5 2.5 0 1 0 -5.0 0M1031.44 676.13a2.5 2.5 0 1 0 5.0 0a2.5 2.5 0 1 0 -5.0 0M1031.97 669.36a2.5 2.5 0 1 0 5.0 0a2.5 2.5 0 1 0 -5.0 0M1032.49 669.39a2.5 2.5 0 1 0 5.0 0a2.5 2.5 0 1 0 -5.0 0M1033.01 662.43a2.5 2.5 0 1 0 5.0 0a2.5 2.5 0 1 0 -5.0 0M1033.54 656.9a2.5 2.5 0 1 0 5.0 0a2.5 2.5 0 1 0 -5.0 0M1034.06 656.16a2.5 2.5 0 1 0 5.0 0a2.5 2.5 0 1 0 -5.0 0M1034.59 655.51a2.5 2.5 0 1 0 5.0 0a2.5 2.5 0 1 0 -5.0 0M1035.11 654.85a2.5 2.5 0 1 0 5.0 0a2.5 2.5 0 1 0 -5.0 0M1035.63 651.56a2.5 2.5 0 1 0 5.0 0a2.5 2.5 0 1 0 -5.0 0M1036.16 650.69a2.5 2.5 0 1 0 5.0 0a2.5 2.5 0 1 0 -5.0 0M1036.68 641.5a2.5 2.5 0 1 0 5.0 0a2.5 2.5 0 1 0 -5.0 0M1037.2 643.61a2.5 2.5 0 1 0 5.0 0a2.5 2.5 0 1 0 -5.0 0M1037.73 643.59a2.5 2.5 0 1 0 5.0 0a2.5 2.5 0 1 0 -5.0 0M1038.25 642.52a2.5 2.5 0 1 0 5.0 0a2.5 2.5 0 1 0 -5.0 0M1038.77 640.51a2.5 2.5 0 1 0 5.0 0a2.5 2.5 0 1 0 -5.0 0M1039.3 637.52a2.5 2.5 0 1 0 5.0 0a2.5 2.5 0 1 0 -5.0 0M1039.82 638.13a2.5 2.5 0 1 0 5.0 0a2.5 2.5 0 1 0 -5.0 0M1040.34 630.53a2.5 2.5 0 1 0 5.0 0a2.5 2.5 0 1 0 -5.0 0M1040.87 634.35a2.5 2.5 0 1 0 5.0 0a2.5 2.5 0 1 0 -5.0 0M1041.39 633.14a2.5 2.5 0 1 0 5.0 0a2.5 2.5 0 1 0 -5.0 0M1041.91 629.56a2.5 2.5 0 1 0 5.0 0a2.5 2.5 0 1 0 -5.0 0M1042.44 625.88a2.5 2.5 0 1 0 5.0 0a2.5 2.5 0 1 0 -5.0 0M1042.96 624.87a2.5 2.5 0 1 0 5.0 0a2.5 2.5 0 1 0 -5.0 0M1043.48 627.42a2.5 2.5 0 1 0 5.0 0a2.5 2.5 0 1 0 -5.0 0M1044.01 624.58a2.5 2.5 0 1 0 5.0 0a2.5 2.5 0 1 0 -5.0 0M1044.53 623.54a2.5 2.5 0 1 0 5.0 0a2.5 2.5 0 1 0 -5.0 0M1045.06 621.51a2.5 2.5 0 1 0 5.0 0a2.5 2.5 0 1 0 -5.0 0M1045.58 620.88a2.5 2.5 0 1 0 5.0 0a2.5 2.5 0 1 0 -5.0 0M1046.1 622.25a2.5 2.5 0 1 0 5.0 0a2.5 2.5 0 1 0 -5.0 0M1046.63 621.79a2.5 2.5 0 1 0 5.0 0a2.5 2.5 0 1 0 -5.0 0M1047.15 617.68a2.5 2.5 0 1 0 5.0 0a2.5 2.5 0 1 0 -5.0 0M1047.67 619.54a2.5 2.5 0 1 0 5.0 0a2.5 2.5 0 1 0 -5.0 0M1048.2 613.21a2.5 2.5 0 1 0 5.0 0a2.5 2.5 0 1 0 -5.0 0M1048.72 615.13a2.5 2.5 0 1 0 5.0 0a2.5 2.5 0 1 0 -5.0 0M1049.24 616.59a2.5 2.5 0 1 0 5.0 0a2.5 2.5 0 1 0 -5.0 0M1049.77 614.39a2.5 2.5 0 1 0 5.0 0a2.5 2.5 0 1 0 -5.0 0M1050.29 614.09a2.5 2.5 0 1 0 5.0 0a2.5 2.5 0 1 0 -5.0 0M1050.81 612.6a2.5 2.5 0 1 0 5.0 0a2.5 2.5 0 1 0 -5.0 0M1051.34 609.63a2.5 2.5 0 1 0 5.0 0a2.5 2.5 0 1 0 -5.0 0M1051.86 613.99a2.5 2.5 0 1 0 5.0 0a2.5 2.5 0 1 0 -5.0 0M1052.38 614.2a2.5 2.5 0 1 0 5.0 0a2.5 2.5 0 1 0 -5.0 0M1052.91 608.88a2.5 2.5 0 1 0 5.0 0a2.5 2.5 0 1 0 -5.0 0M1053.43 609.33a2.5 2.5 0 1 0 5.0 0a2.5 2.5 0 1 0 -5.0 0M1053.95 607.99a2.5 2.5 0 1 0 5.0 0a2.5 2.5 0 1 0 -5.0 0M1054.48 606.8a2.5 2.5 0 1 0 5.0 0a2.5 2.5 0 1 0 -5.0 0M1055 607.56a2.5 2.5 0 1 0 5.0 0a2.5 2.5 0 1 0 -5.0 0M1055.53 604.96a2.5 2.5 0 1 0 5.0 0a2.5 2.5 0 1 0 -5.0 0M1056.05 608.05a2.5 2.5 0 1 0 5.0 0a2.5 2.5 0 1 0 -5.0 0M1056.57 605.59a2.5 2.5 0 1 0 5.0 0a2.5 2.5 0 1 0 -5.0 0M1057.1 607.09a2.5 2.5 0 1 0 5.0 0a2.5 2.5 0 1 0 -5.0 0M1057.62 607.38a2.5 2.5 0 1 0 5.0 0a2.5 2.5 0 1 0 -5.0 0M1058.14 603.41a2.5 2.5 0 1 0 5.0 0a2.5 2.5 0 1 0 -5.0 0M1058.67 603.29a2.5 2.5 0 1 0 5.0 0a2.5 2.5 0 1 0 -5.0 0M1059.19 608.43a2.5 2.5 0 1 0 5.0 0a2.5 2.5 0 1 0 -5.0 0M1059.71 606.61a2.5 2.5 0 1 0 5.0 0a2.5 2.5 0 1 0 -5.0 0M1060.24 603.61a2.5 2.5 0 1 0 5.0 0a2.5 2.5 0 1 0 -5.0 0M1060.76 601.97a2.5 2.5 0 1 0 5.0 0a2.5 2.5 0 1 0 -5.0 0M1061.28 736.89a2.5 2.5 0 1 0 5.0 0a2.5 2.5 0 1 0 -5.0 0M1061.81 746.22a2.5 2.5 0 1 0 5.0 0a2.5 2.5 0 1 0 -5.0 0M1062.33 755.63a2.5 2.5 0 1 0 5.0 0a2.5 2.5 0 1 0 -5.0 0M1062.85 753.71a2.5 2.5 0 1 0 5.0 0a2.5 2.5 0 1 0 -5.0 0M1063.38 763.34a2.5 2.5 0 1 0 5.0 0a2.5 2.5 0 1 0 -5.0 0M1063.9 767.34a2.5 2.5 0 1 0 5.0 0a2.5 2.5 0 1 0 -5.0 0M1064.42 773.03a2.5 2.5 0 1 0 5.0 0a2.5 2.5 0 1 0 -5.0 0M1064.95 777.8a2.5 2.5 0 1 0 5.0 0a2.5 2.5 0 1 0 -5.0 0M1065.47 783.83a2.5 2.5 0 1 0 5.0 0a2.5 2.5 0 1 0 -5.0 0M1065.99 791.16a2.5 2.5 0 1 0 5.0 0a2.5 2.5 0 1 0 -5.0 0M1066.52 794.18a2.5 2.5 0 1 0 5.0 0a2.5 2.5 0 1 0 -5.0 0M1067.04 800.86a2.5 2.5 0 1 0 5.0 0a2.5 2.5 0 1 0 -5.0 0M1067.57 803.68a2.5 2.5 0 1 0 5.0 0a2.5 2.5 0 1 0 -5.0 0M1068.09 813.66a2.5 2.5 0 1 0 5.0 0a2.5 2.5 0 1 0 -5.0 0M1068.61 819.24a2.5 2.5 0 1 0 5.0 0a2.5 2.5 0 1 0 -5.0 0M1069.14 822.62a2.5 2.5 0 1 0 5.0 0a2.5 2.5 0 1 0 -5.0 0M1069.66 826.75a2.5 2.5 0 1 0 5.0 0a2.5 2.5 0 1 0 -5.0 0M1070.18 834.27a2.5 2.5 0 1 0 5.0 0a2.5 2.5 0 1 0 -5.0 0M1070.71 840.93a2.5 2.5 0 1 0 5.0 0a2.5 2.5 0 1 0 -5.0 0M1071.23 844.14a2.5 2.5 0 1 0 5.0 0a2.5 2.5 0 1 0 -5.0 0M1071.75 849.23a2.5 2.5 0 1 0 5.0 0a2.5 2.5 0 1 0 -5.0 0M1072.28 848.41a2.5 2.5 0 1 0 5.0 0a2.5 2.5 0 1 0 -5.0 0M1072.8 854.62a2.5 2.5 0 1 0 5.0 0a2.5 2.5 0 1 0 -5.0 0M1073.32 857.7a2.5 2.5 0 1 0 5.0 0a2.5 2.5 0 1 0 -5.0 0M1073.85 863.21a2.5 2.5 0 1 0 5.0 0a2.5 2.5 0 1 0 -5.0 0M1074.37 868.01a2.5 2.5 0 1 0 5.0 0a2.5 2.5 0 1 0 -5.0 0M1074.89 866.78a2.5 2.5 0 1 0 5.0 0a2.5 2.5 0 1 0 -5.0 0M1075.42 867.93a2.5 2.5 0 1 0 5.0 0a2.5 2.5 0 1 0 -5.0 0M1075.94 872.19a2.5 2.5 0 1 0 5.0 0a2.5 2.5 0 1 0 -5.0 0M1076.46 875.34a2.5 2.5 0 1 0 5.0 0a2.5 2.5 0 1 0 -5.0 0M1076.99 874.74a2.5 2.5 0 1 0 5.0 0a2.5 2.5 0 1 0 -5.0 0M1077.51 879.43a2.5 2.5 0 1 0 5.0 0a2.5 2.5 0 1 0 -5.0 0M1078.04 878.57a2.5 2.5 0 1 0 5.0 0a2.5 2.5 0 1 0 -5.0 0M1078.56 883.13a2.5 2.5 0 1 0 5.0 0a2.5 2.5 0 1 0 -5.0 0M1079.08 885.06a2.5 2.5 0 1 0 5.0 0a2.5 2.5 0 1 0 -5.0 0M1079.61 883.13a2.5 2.5 0 1 0 5.0 0a2.5 2.5 0 1 0 -5.0 0M1080.13 884.9a2.5 2.5 0 1 0 5.0 0a2.5 2.5 0 1 0 -5.0 0M1080.65 882.85a2.5 2.5 0 1 0 5.0 0a2.5 2.5 0 1 0 -5.0 0M1081.18 888.71a2.5 2.5 0 1 0 5.0 0a2.5 2.5 0 1 0 -5.0 0M1081.7 889.32a2.5 2.5 0 1 0 5.0 0a2.5 2.5 0 1 0 -5.0 0M1082.22 893.04a2.5 2.5 0 1 0 5.0 0a2.5 2.5 0 1 0 -5.0 0M1082.75 895.86a2.5 2.5 0 1 0 5.0 0a2.5 2.5 0 1 0 -5.0 0M1083.27 896.98a2.5 2.5 0 1 0 5.0 0a2.5 2.5 0 1 0 -5.0 0M1083.79 893.55a2.5 2.5 0 1 0 5.0 0a2.5 2.5 0 1 0 -5.0 0M1084.32 898.32a2.5 2.5 0 1 0 5.0 0a2.5 2.5 0 1 0 -5.0 0M1084.84 894.76a2.5 2.5 0 1 0 5.0 0a2.5 2.5 0 1 0 -5.0 0M1085.36 895.43a2.5 2.5 0 1 0 5.0 0a2.5 2.5 0 1 0 -5.0 0M1085.89 900.31a2.5 2.5 0 1 0 5.0 0a2.5 2.5 0 1 0 -5.0 0M1086.41 897.45a2.5 2.5 0 1 0 5.0 0a2.5 2.5 0 1 0 -5.0 0M1086.93 901.68a2.5 2.5 0 1 0 5.0 0a2.5 2.5 0 1 0 -5.0 0M1087.46 900.96a2.5 2.5 0 1 0 5.0 0a2.5 2.5 0 1 0 -5.0 0M1087.98 904.94a2.5 2.5 0 1 0 5.0 0a2.5 2.5 0 1 0 -5.0 0M1088.51 903.51a2.5 2.5 0 1 0 5.0 0a2.5 2.5 0 1 0 -5.0 0M1089.03 908.54a2.5 2.5 0 1 0 5.0 0a2.5 2.5 0 1 0 -5.0 0M1089.55 906.18a2.5 2.5 0 1 0 5.0 0a2.5 2.5 0 1 0 -5.0 0M1090.08 909.34a2.5 2.5 0 1 0 5.0 0a2.5 2.5 0 1 0 -5.0 0M1090.6 909.43a2.5 2.5 0 1 0 5.0 0a2.5 2.5 0 1 0 -5.0 0M1091.12 908.53a2.5 2.5 0 1 0 5.0 0a2.5 2.5 0 1 0 -5.0 0M1091.65 910.11a2.5 2.5 0 1 0 5.0 0a2.5 2.5 0 1 0 -5.0 0M1092.17 911.14a2.5 2.5 0 1 0 5.0 0a2.5 2.5 0 1 0 -5.0 0M1092.69 909.85a2.5 2.5 0 1 0 5.0 0a2.5 2.5 0 1 0 -5.0 0M1093.22 910.06a2.5 2.5 0 1 0 5.0 0a2.5 2.5 0 1 0 -5.0 0M1093.74 915.03a2.5 2.5 0 1 0 5.0 0a2.5 2.5 0 1 0 -5.0 0M1094.26 911.26a2.5 2.5 0 1 0 5.0 0a2.5 2.5 0 1 0 -5.0 0M1094.79 911.35a2.5 2.5 0 1 0 5.0 0a2.5 2.5 0 1 0 -5.0 0M1095.31 914.67a2.5 2.5 0 1 0 5.0 0a2.5 2.5 0 1 0 -5.0 0M1095.83 912.56a2.5 2.5 0 1 0 5.0 0a2.5 2.5 0 1 0 -5.0 0M1096.36 916.46a2.5 2.5 0 1 0 5.0 0a2.5 2.5 0 1 0 -5.0 0M1096.88 910.9a2.5 2.5 0 1 0 5.0 0a2.5 2.5 0 1 0 -5.0 0M1097.4 914.35a2.5 2.5 0 1 0 5.0 0a2.5 2.5 0 1 0 -5.0 0M1097.93 914.5a2.5 2.5 0 1 0 5.0 0a2.5 2.5 0 1 0 -5.0 0M1098.45 913.93a2.5 2.5 0 1 0 5.0 0a2.5 2.5 0 1 0 -5.0 0M1098.98 915.01a2.5 2.5 0 1 0 5.0 0a2.5 2.5 0 1 0 -5.0 0M1099.5 914.76a2.5 2.5 0 1 0 5.0 0a2.5 2.5 0 1 0 -5.0 0M1100.02 916.02a2.5 2.5 0 1 0 5.0 0a2.5 2.5 0 1 0 -5.0 0M1100.55 915.92a2.5 2.5 0 1 0 5.0 0a2.5 2.5 0 1 0 -5.0 0M1101.07 916.64a2.5 2.5 0 1 0 5.0 0a2.5 2.5 0 1 0 -5.0 0M1101.59 916.08a2.5 2.5 0 1 0 5.0 0a2.5 2.5 0 1 0 -5.0 0M1102.12 915.48a2.5 2.5 0 1 0 5.0 0a2.5 2.5 0 1 0 -5.0 0M1102.64 916.17a2.5 2.5 0 1 0 5.0 0a2.5 2.5 0 1 0 -5.0 0M1103.16 915.92a2.5 2.5 0 1 0 5.0 0a2.5 2.5 0 1 0 -5.0 0M1103.69 917.3a2.5 2.5 0 1 0 5.0 0a2.5 2.5 0 1 0 -5.0 0M1104.21 917.37a2.5 2.5 0 1 0 5.0 0a2.5 2.5 0 1 0 -5.0 0M1104.73 917.27a2.5 2.5 0 1 0 5.0 0a2.5 2.5 0 1 0 -5.0 0M1105.26 916.77a2.5 2.5 0 1 0 5.0 0a2.5 2.5 0 1 0 -5.0 0M1105.78 917.06a2.5 2.5 0 1 0 5.0 0a2.5 2.5 0 1 0 -5.0 0M1106.3 917.45a2.5 2.5 0 1 0 5.0 0a2.5 2.5 0 1 0 -5.0 0M1106.83 917.19a2.5 2.5 0 1 0 5.0 0a2.5 2.5 0 1 0 -5.0 0M1107.35 917.83a2.5 2.5 0 1 0 5.0 0a2.5 2.5 0 1 0 -5.0 0M1107.88 917.9a2.5 2.5 0 1 0 5.0 0a2.5 2.5 0 1 0 -5.0 0M1108.4 917.21a2.5 2.5 0 1 0 5.0 0a2.5 2.5 0 1 0 -5.0 0M1108.92 918.55a2.5 2.5 0 1 0 5.0 0a2.5 2.5 0 1 0 -5.0 0M1109.45 918.22a2.5 2.5 0 1 0 5.0 0a2.5 2.5 0 1 0 -5.0 0M1109.97 917.46a2.5 2.5 0 1 0 5.0 0a2.5 2.5 0 1 0 -5.0 0M1110.49 918.57a2.5 2.5 0 1 0 5.0 0a2.5 2.5 0 1 0 -5.0 0M1111.02 918.33a2.5 2.5 0 1 0 5.0 0a2.5 2.5 0 1 0 -5.0 0M1111.54 919.3a2.5 2.5 0 1 0 5.0 0a2.5 2.5 0 1 0 -5.0 0M1112.06 917.81a2.5 2.5 0 1 0 5.0 0a2.5 2.5 0 1 0 -5.0 0M1112.59 920.61a2.5 2.5 0 1 0 5.0 0a2.5 2.5 0 1 0 -5.0 0M1113.11 920.03a2.5 2.5 0 1 0 5.0 0a2.5 2.5 0 1 0 -5.0 0M1113.63 920.11a2.5 2.5 0 1 0 5.0 0a2.5 2.5 0 1 0 -5.0 0M1114.16 918.54a2.5 2.5 0 1 0 5.0 0a2.5 2.5 0 1 0 -5.0 0M1114.68 919.46a2.5 2.5 0 1 0 5.0 0a2.5 2.5 0 1 0 -5.0 0M1115.2 919.97a2.5 2.5 0 1 0 5.0 0a2.5 2.5 0 1 0 -5.0 0M1115.73 920.73a2.5 2.5 0 1 0 5.0 0a2.5 2.5 0 1 0 -5.0 0M1116.25 919.8a2.5 2.5 0 1 0 5.0 0a2.5 2.5 0 1 0 -5.0 0M1116.77 920.07a2.5 2.5 0 1 0 5.0 0a2.5 2.5 0 1 0 -5.0 0M1117.3 920.7a2.5 2.5 0 1 0 5.0 0a2.5 2.5 0 1 0 -5.0 0M1117.82 921.31a2.5 2.5 0 1 0 5.0 0a2.5 2.5 0 1 0 -5.0 0M1118.35 921.17a2.5 2.5 0 1 0 5.0 0a2.5 2.5 0 1 0 -5.0 0M1118.87 920.45a2.5 2.5 0 1 0 5.0 0a2.5 2.5 0 1 0 -5.0 0M1119.39 920.49a2.5 2.5 0 1 0 5.0 0a2.5 2.5 0 1 0 -5.0 0M1119.92 920.75a2.5 2.5 0 1 0 5.0 0a2.5 2.5 0 1 0 -5.0 0M1120.44 921a2.5 2.5 0 1 0 5.0 0a2.5 2.5 0 1 0 -5.0 0M1120.96 922.13a2.5 2.5 0 1 0 5.0 0a2.5 2.5 0 1 0 -5.0 0M1121.49 921.08a2.5 2.5 0 1 0 5.0 0a2.5 2.5 0 1 0 -5.0 0M1122.01 921.87a2.5 2.5 0 1 0 5.0 0a2.5 2.5 0 1 0 -5.0 0M1122.53 921.29a2.5 2.5 0 1 0 5.0 0a2.5 2.5 0 1 0 -5.0 0M1123.06 921.13a2.5 2.5 0 1 0 5.0 0a2.5 2.5 0 1 0 -5.0 0M1123.58 799.05a2.5 2.5 0 1 0 5.0 0a2.5 2.5 0 1 0 -5.0 0M1124.1 775.83a2.5 2.5 0 1 0 5.0 0a2.5 2.5 0 1 0 -5.0 0M1124.63 759.67a2.5 2.5 0 1 0 5.0 0a2.5 2.5 0 1 0 -5.0 0M1125.15 751.77a2.5 2.5 0 1 0 5.0 0a2.5 2.5 0 1 0 -5.0 0M1125.67 746.45a2.5 2.5 0 1 0 5.0 0a2.5 2.5 0 1 0 -5.0 0M1126.2 745.11a2.5 2.5 0 1 0 5.0 0a2.5 2.5 0 1 0 -5.0 0M1126.72 732.82a2.5 2.5 0 1 0 5.0 0a2.5 2.5 0 1 0 -5.0 0M1127.24 724.82a2.5 2.5 0 1 0 5.0 0a2.5 2.5 0 1 0 -5.0 0M1127.77 715.96a2.5 2.5 0 1 0 5.0 0a2.5 2.5 0 1 0 -5.0 0M1128.29 710.84a2.5 2.5 0 1 0 5.0 0a2.5 2.5 0 1 0 -5.0 0M1128.82 701.31a2.5 2.5 0 1 0 5.0 0a2.5 2.5 0 1 0 -5.0 0M1129.34 691.41a2.5 2.5 0 1 0 5.0 0a2.5 2.5 0 1 0 -5.0 0M1129.86 679.72a2.5 2.5 0 1 0 5.0 0a2.5 2.5 0 1 0 -5.0 0M1130.39 675.97a2.5 2.5 0 1 0 5.0 0a2.5 2.5 0 1 0 -5.0 0M1130.91 667.23a2.5 2.5 0 1 0 5.0 0a2.5 2.5 0 1 0 -5.0 0M1131.43 664.04a2.5 2.5 0 1 0 5.0 0a2.5 2.5 0 1 0 -5.0 0M1131.96 657.12a2.5 2.5 0 1 0 5.0 0a2.5 2.5 0 1 0 -5.0 0M1132.48 657a2.5 2.5 0 1 0 5.0 0a2.5 2.5 0 1 0 -5.0 0M1133 649.39a2.5 2.5 0 1 0 5.0 0a2.5 2.5 0 1 0 -5.0 0M1133.53 648.13a2.5 2.5 0 1 0 5.0 0a2.5 2.5 0 1 0 -5.0 0M1134.05 644.91a2.5 2.5 0 1 0 5.0 0a2.5 2.5 0 1 0 -5.0 0M1134.57 641.14a2.5 2.5 0 1 0 5.0 0a2.5 2.5 0 1 0 -5.0 0M1135.1 638a2.5 2.5 0 1 0 5.0 0a2.5 2.5 0 1 0 -5.0 0M1135.62 642.39a2.5 2.5 0 1 0 5.0 0a2.5 2.5 0 1 0 -5.0 0M1136.14 635.26a2.5 2.5 0 1 0 5.0 0a2.5 2.5 0 1 0 -5.0 0M1136.67 634.92a2.5 2.5 0 1 0 5.0 0a2.5 2.5 0 1 0 -5.0 0M1137.19 635.54a2.5 2.5 0 1 0 5.0 0a2.5 2.5 0 1 0 -5.0 0M1137.71 630.84a2.5 2.5 0 1 0 5.0 0a2.5 2.5 0 1 0 -5.0 0M1138.24 632.3a2.5 2.5 0 1 0 5.0 0a2.5 2.5 0 1 0 -5.0 0M1138.76 628.85a2.5 2.5 0 1 0 5.0 0a2.5 2.5 0 1 0 -5.0 0M1139.29 631.65a2.5 2.5 0 1 0 5.0 0a2.5 2.5 0 1 0 -5.0 0M1139.81 630.94a2.5 2.5 0 1 0 5.0 0a2.5 2.5 0 1 0 -5.0 0M1140.33 625.12a2.5 2.5 0 1 0 5.0 0a2.5 2.5 0 1 0 -5.0 0M1140.86 621.68a2.5 2.5 0 1 0 5.0 0a2.5 2.5 0 1 0 -5.0 0M1141.38 623.41a2.5 2.5 0 1 0 5.0 0a2.5 2.5 0 1 0 -5.0 0M1141.9 621.33a2.5 2.5 0 1 0 5.0 0a2.5 2.5 0 1 0 -5.0 0M1142.43 622.66a2.5 2.5 0 1 0 5.0 0a2.5 2.5 0 1 0 -5.0 0M1142.95 622.91a2.5 2.5 0 1 0 5.0 0a2.5 2.5 0 1 0 -5.0 0M1143.47 619.04a2.5 2.5 0 1 0 5.0 0a2.5 2.5 0 1 0 -5.0 0M1144 613.88a2.5 2.5 0 1 0 5.0 0a2.5 2.5 0 1 0 -5.0 0M1144.52 619.51a2.5 2.5 0 1 0 5.0 0a2.5 2.5 0 1 0 -5.0 0M1145.04 615.21a2.5 2.5 0 1 0 5.0 0a2.5 2.5 0 1 0 -5.0 0M1145.57 616.87a2.5 2.5 0 1 0 5.0 0a2.5 2.5 0 1 0 -5.0 0M1146.09 611.34a2.5 2.5 0 1 0 5.0 0a2.5 2.5 0 1 0 -5.0 0M1146.61 608.58a2.5 2.5 0 1 0 5.0 0a2.5 2.5 0 1 0 -5.0 0M1147.14 612.02a2.5 2.5 0 1 0 5.0 0a2.5 2.5 0 1 0 -5.0 0M1147.66 609.27a2.5 2.5 0 1 0 5.0 0a2.5 2.5 0 1 0 -5.0 0M1148.18 604.59a2.5 2.5 0 1 0 5.0 0a2.5 2.5 0 1 0 -5.0 0M1148.71 606.56a2.5 2.5 0 1 0 5.0 0a2.5 2.5 0 1 0 -5.0 0M1149.23 607.98a2.5 2.5 0 1 0 5.0 0a2.5 2.5 0 1 0 -5.0 0M1149.76 607.16a2.5 2.5 0 1 0 5.0 0a2.5 2.5 0 1 0 -5.0 0M1150.28 607.7a2.5 2.5 0 1 0 5.0 0a2.5 2.5 0 1 0 -5.0 0M1150.8 600.93a2.5 2.5 0 1 0 5.0 0a2.5 2.5 0 1 0 -5.0 0M1151.33 603.34a2.5 2.5 0 1 0 5.0 0a2.5 2.5 0 1 0 -5.0 0M1151.85 598.84a2.5 2.5 0 1 0 5.0 0a2.5 2.5 0 1 0 -5.0 0M1152.37 598.64a2.5 2.5 0 1 0 5.0 0a2.5 2.5 0 1 0 -5.0 0M1152.9 601.4a2.5 2.5 0 1 0 5.0 0a2.5 2.5 0 1 0 -5.0 0M1153.42 600.81a2.5 2.5 0 1 0 5.0 0a2.5 2.5 0 1 0 -5.0 0M1153.94 597.9a2.5 2.5 0 1 0 5.0 0a2.5 2.5 0 1 0 -5.0 0M1154.47 599.23a2.5 2.5 0 1 0 5.0 0a2.5 2.5 0 1 0 -5.0 0M1154.99 599.03a2.5 2.5 0 1 0 5.0 0a2.5 2.5 0 1 0 -5.0 0M1155.51 603.16a2.5 2.5 0 1 0 5.0 0a2.5 2.5 0 1 0 -5.0 0M1156.04 597.91a2.5 2.5 0 1 0 5.0 0a2.5 2.5 0 1 0 -5.0 0M1156.56 601.81a2.5 2.5 0 1 0 5.0 0a2.5 2.5 0 1 0 -5.0 0M1157.08 604.93a2.5 2.5 0 1 0 5.0 0a2.5 2.5 0 1 0 -5.0 0M1157.61 601.64a2.5 2.5 0 1 0 5.0 0a2.5 2.5 0 1 0 -5.0 0M1158.13 599.66a2.5 2.5 0 1 0 5.0 0a2.5 2.5 0 1 0 -5.0 0M1158.65 596.35a2.5 2.5 0 1 0 5.0 0a2.5 2.5 0 1 0 -5.0 0M1159.18 601.81a2.5 2.5 0 1 0 5.0 0a2.5 2.5 0 1 0 -5.0 0M1159.7 604.07a2.5 2.5 0 1 0 5.0 0a2.5 2.5 0 1 0 -5.0 0M1160.22 597.01a2.5 2.5 0 1 0 5.0 0a2.5 2.5 0 1 0 -5.0 0M1160.75 601.39a2.5 2.5 0 1 0 5.0 0a2.5 2.5 0 1 0 -5.0 0M1161.27 602.5a2.5 2.5 0 1 0 5.0 0a2.5 2.5 0 1 0 -5.0 0M1161.8 604.42a2.5 2.5 0 1 0 5.0 0a2.5 2.5 0 1 0 -5.0 0M1162.32 604.46a2.5 2.5 0 1 0 5.0 0a2.5 2.5 0 1 0 -5.0 0M1162.84 599.37a2.5 2.5 0 1 0 5.0 0a2.5 2.5 0 1 0 -5.0 0M1163.37 603.2a2.5 2.5 0 1 0 5.0 0a2.5 2.5 0 1 0 -5.0 0M1163.89 603.87a2.5 2.5 0 1 0 5.0 0a2.5 2.5 0 1 0 -5.0 0M1164.41 603.87a2.5 2.5 0 1 0 5.0 0a2.5 2.5 0 1 0 -5.0 0M1164.94 599.51a2.5 2.5 0 1 0 5.0 0a2.5 2.5 0 1 0 -5.0 0M1165.46 721.16a2.5 2.5 0 1 0 5.0 0a2.5 2.5 0 1 0 -5.0 0M1165.98 724.15a2.5 2.5 0 1 0 5.0 0a2.5 2.5 0 1 0 -5.0 0M1166.51 730.3a2.5 2.5 0 1 0 5.0 0a2.5 2.5 0 1 0 -5.0 0M1167.03 736.16a2.5 2.5 0 1 0 5.0 0a2.5 2.5 0 1 0 -5.0 0M1167.55 745.28a2.5 2.5 0 1 0 5.0 0a2.5 2.5 0 1 0 -5.0 0M1168.08 750.87a2.5 2.5 0 1 0 5.0 0a2.5 2.5 0 1 0 -5.0 0M1168.6 759.48a2.5 2.5 0 1 0 5.0 0a2.5 2.5 0 1 0 -5.0 0M1169.12 774.09a2.5 2.5 0 1 0 5.0 0a2.5 2.5 0 1 0 -5.0 0M1169.65 787.49a2.5 2.5 0 1 0 5.0 0a2.5 2.5 0 1 0 -5.0 0M1170.17 795.02a2.5 2.5 0 1 0 5.0 0a2.5 2.5 0 1 0 -5.0 0M1170.69 796.4a2.5 2.5 0 1 0 5.0 0a2.5 2.5 0 1 0 -5.0 0M1171.22 800.97a2.5 2.5 0 1 0 5.0 0a2.5 2.5 0 1 0 -5.0 0M1171.74 803.61a2.5 2.5 0 1 0 5.0 0a2.5 2.5 0 1 0 -5.0 0M1172.27 806.12a2.5 2.5 0 1 0 5.0 0a2.5 2.5 0 1 0 -5.0 0M1172.79 812.1a2.5 2.5 0 1 0 5.0 0a2.5 2.5 0 1 0 -5.0 0M1173.31 810.6a2.5 2.5 0 1 0 5.0 0a2.5 2.5 0 1 0 -5.0 0M1173.84 815.22a2.5 2.5 0 1 0 5.0 0a2.5 2.5 0 1 0 -5.0 0M1174.36 819.31a2.5 2.5 0 1 0 5.0 0a2.5 2.5 0 1 0 -5.0 0M1174.88 822.1a2.5 2.5 0 1 0 5.0 0a2.5 2.5 0 1 0 -5.0 0M1175.41 824.13a2.5 2.5 0 1 0 5.0 0a2.5 2.5 0 1 0 -5.0 0M1175.93 829.55a2.5 2.5 0 1 0 5.0 0a2.5 2.5 0 1 0 -5.0 0M1176.45 835.17a2.5 2.5 0 1 0 5.0 0a2.5 2.5 0 1 0 -5.0 0M1176.98 834.82a2.5 2.5 0 1 0 5.0 0a2.5 2.5 0 1 0 -5.0 0M1177.5 842.35a2.5 2.5 0 1 0 5.0 0a2.5 2.5 0 1 0 -5.0 0M1178.02 847.27a2.5 2.5 0 1 0 5.0 0a2.5 2.5 0 1 0 -5.0 0M1178.55 853.38a2.5 2.5 0 1 0 5.0 0a2.5 2.5 0 1 0 -5.0 0M1179.07 854.34a2.5 2.5 0 1 0 5.0 0a2.5 2.5 0 1 0 -5.0 0M1179.59 860.68a2.5 2.5 0 1 0 5.0 0a2.5 2.5 0 1 0 -5.0 0M1180.12 863.45a2.5 2.5 0 1 0 5.0 0a2.5 2.5 0 1 0 -5.0 0M1180.64 865.41a2.5 2.5 0 1 0 5.0 0a2.5 2.5 0 1 0 -5.0 0M1181.16 870.37a2.5 2.5 0 1 0 5.0 0a2.5 2.5 0 1 0 -5.0 0M1181.69 872.23a2.5 2.5 0 1 0 5.0 0a2.5 2.5 0 1 0 -5.0 0M1182.21 877.33a2.5 2.5 0 1 0 5.0 0a2.5 2.5 0 1 0 -5.0 0M1182.74 881.87a2.5 2.5 0 1 0 5.0 0a2.5 2.5 0 1 0 -5.0 0M1183.26 883.99a2.5 2.5 0 1 0 5.0 0a2.5 2.5 0 1 0 -5.0 0M1183.78 886.08a2.5 2.5 0 1 0 5.0 0a2.5 2.5 0 1 0 -5.0 0M1184.31 885.23a2.5 2.5 0 1 0 5.0 0a2.5 2.5 0 1 0 -5.0 0M1184.83 888.04a2.5 2.5 0 1 0 5.0 0a2.5 2.5 0 1 0 -5.0 0M1185.35 890.33a2.5 2.5 0 1 0 5.0 0a2.5 2.5 0 1 0 -5.0 0M1185.88 888.96a2.5 2.5 0 1 0 5.0 0a2.5 2.5 0 1 0 -5.0 0M1186.4 891.73a2.5 2.5 0 1 0 5.0 0a2.5 2.5 0 1 0 -5.0 0M1186.92 894.03a2.5 2.5 0 1 0 5.0 0a2.5 2.5 0 1 0 -5.0 0M1187.45 897.28a2.5 2.5 0 1 0 5.0 0a2.5 2.5 0 1 0 -5.0 0M1187.97 894.14a2.5 2.5 0 1 0 5.0 0a2.5 2.5 0 1 0 -5.0 0M1188.49 895.47a2.5 2.5 0 1 0 5.0 0a2.5 2.5 0 1 0 -5.0 0M1189.02 896.73a2.5 2.5 0 1 0 5.0 0a2.5 2.5 0 1 0 -5.0 0M1189.54 898.57a2.5 2.5 0 1 0 5.0 0a2.5 2.5 0 1 0 -5.0 0M1190.06 900.2a2.5 2.5 0 1 0 5.0 0a2.5 2.5 0 1 0 -5.0 0M1190.59 899.67a2.5 2.5 0 1 0 5.0 0a2.5 2.5 0 1 0 -5.0 0M1191.11 899.43a2.5 2.5 0 1 0 5.0 0a2.5 2.5 0 1 0 -5.0 0M1191.63 900.91a2.5 2.5 0 1 0 5.0 0a2.5 2.5 0 1 0 -5.0 0M1192.16 901.65a2.5 2.5 0 1 0 5.0 0a2.5 2.5 0 1 0 -5.0 0M1192.68 903.04a2.5 2.5 0 1 0 5.0 0a2.5 2.5 0 1 0 -5.0 0M1193.21 902.02a2.5 2.5 0 1 0 5.0 0a2.5 2.5 0 1 0 -5.0 0M1193.73 902.92a2.5 2.5 0 1 0 5.0 0a2.5 2.5 0 1 0 -5.0 0M1194.25 905.67a2.5 2.5 0 1 0 5.0 0a2.5 2.5 0 1 0 -5.0 0M1194.78 903.12a2.5 2.5 0 1 0 5.0 0a2.5 2.5 0 1 0 -5.0 0M1195.3 903.69a2.5 2.5 0 1 0 5.0 0a2.5 2.5 0 1 0 -5.0 0M1195.82 904.26a2.5 2.5 0 1 0 5.0 0a2.5 2.5 0 1 0 -5.0 0M1196.35 906.85a2.5 2.5 0 1 0 5.0 0a2.5 2.5 0 1 0 -5.0 0M1196.87 907.57a2.5 2.5 0 1 0 5.0 0a2.5 2.5 0 1 0 -5.0 0M1197.39 910.17a2.5 2.5 0 1 0 5.0 0a2.5 2.5 0 1 0 -5.0 0M1197.92 906.67a2.5 2.5 0 1 0 5.0 0a2.5 2.5 0 1 0 -5.0 0M1198.44 913.3a2.5 2.5 0 1 0 5.0 0a2.5 2.5 0 1 0 -5.0 0M1198.96 910.12a2.5 2.5 0 1 0 5.0 0a2.5 2.5 0 1 0 -5.0 0M1199.49 910.49a2.5 2.5 0 1 0 5.0 0a2.5 2.5 0 1 0 -5.0 0M1200.01 908.42a2.5 2.5 0 1 0 5.0 0a2.5 2.5 0 1 0 -5.0 0M1200.53 910.67a2.5 2.5 0 1 0 5.0 0a2.5 2.5 0 1 0 -5.0 0M1201.06 913.12a2.5 2.5 0 1 0 5.0 0a2.5 2.5 0 1 0 -5.0 0M1201.58 914.49a2.5 2.5 0 1 0 5.0 0a2.5 2.5 0 1 0 -5.0 0M1202.11 913.38a2.5 2.5 0 1 0 5.0 0a2.5 2.5 0 1 0 -5.0 0M1202.63 911.96a2.5 2.5 0 1 0 5.0 0a2.5 2.5 0 1 0 -5.0 0M1203.15 912.38a2.5 2.5 0 1 0 5.0 0a2.5 2.5 0 1 0 -5.0 0M1203.68 913.21a2.5 2.5 0 1 0 5.0 0a2.5 2.5 0 1 0 -5.0 0M1204.2 914.52a2.5 2.5 0 1 0 5.0 0a2.5 2.5 0 1 0 -5.0 0M1204.72 913.8a2.5 2.5 0 1 0 5.0 0a2.5 2.5 0 1 0 -5.0 0M1205.25 911.52a2.5 2.5 0 1 0 5.0 0a2.5 2.5 0 1 0 -5.0 0M1205.77 916.23a2.5 2.5 0 1 0 5.0 0a2.5 2.5 0 1 0 -5.0 0M1206.29 914.15a2.5 2.5 0 1 0 5.0 0a2.5 2.5 0 1 0 -5.0 0M1206.82 913.41a2.5 2.5 0 1 0 5.0 0a2.5 2.5 0 1 0 -5.0 0M1207.34 914.34a2.5 2.5 0 1 0 5.0 0a2.5 2.5 0 1 0 -5.0 0M1207.86 915.23a2.5 2.5 0 1 0 5.0 0a2.5 2.5 0 1 0 -5.0 0M1208.39 914.77a2.5 2.5 0 1 0 5.0 0a2.5 2.5 0 1 0 -5.0 0M1208.91 915.91a2.5 2.5 0 1 0 5.0 0a2.5 2.5 0 1 0 -5.0 0M1209.43 915.67a2.5 2.5 0 1 0 5.0 0a2.5 2.5 0 1 0 -5.0 0M1209.96 914.92a2.5 2.5 0 1 0 5.0 0a2.5 2.5 0 1 0 -5.0 0M1210.48 914.94a2.5 2.5 0 1 0 5.0 0a2.5 2.5 0 1 0 -5.0 0M1211 917.45a2.5 2.5 0 1 0 5.0 0a2.5 2.5 0 1 0 -5.0 0M1211.53 916.14a2.5 2.5 0 1 0 5.0 0a2.5 2.5 0 1 0 -5.0 0M1212.05 915.56a2.5 2.5 0 1 0 5.0 0a2.5 2.5 0 1 0 -5.0 0M1212.58 917.35a2.5 2.5 0 1 0 5.0 0a2.5 2.5 0 1 0 -5.0 0M1213.1 917.05a2.5 2.5 0 1 0 5.0 0a2.5 2.5 0 1 0 -5.0 0M1213.62 916.46a2.5 2.5 0 1 0 5.0 0a2.5 2.5 0 1 0 -5.0 0M1214.15 917.92a2.5 2.5 0 1 0 5.0 0a2.5 2.5 0 1 0 -5.0 0M1214.67 917.51a2.5 2.5 0 1 0 5.0 0a2.5 2.5 0 1 0 -5.0 0M1215.19 918.02a2.5 2.5 0 1 0 5.0 0a2.5 2.5 0 1 0 -5.0 0M1215.72 919.38a2.5 2.5 0 1 0 5.0 0a2.5 2.5 0 1 0 -5.0 0M1216.24 918.12a2.5 2.5 0 1 0 5.0 0a2.5 2.5 0 1 0 -5.0 0M1216.76 918.62a2.5 2.5 0 1 0 5.0 0a2.5 2.5 0 1 0 -5.0 0M1217.29 918.08a2.5 2.5 0 1 0 5.0 0a2.5 2.5 0 1 0 -5.0 0M1217.81 917.5a2.5 2.5 0 1 0 5.0 0a2.5 2.5 0 1 0 -5.0 0M1218.33 918.55a2.5 2.5 0 1 0 5.0 0a2.5 2.5 0 1 0 -5.0 0M1218.86 919.36a2.5 2.5 0 1 0 5.0 0a2.5 2.5 0 1 0 -5.0 0M1219.38 918.98a2.5 2.5 0 1 0 5.0 0a2.5 2.5 0 1 0 -5.0 0M1219.9 919.28a2.5 2.5 0 1 0 5.0 0a2.5 2.5 0 1 0 -5.0 0M1220.43 918.89a2.5 2.5 0 1 0 5.0 0a2.5 2.5 0 1 0 -5.0 0M1220.95 920.57a2.5 2.5 0 1 0 5.0 0a2.5 2.5 0 1 0 -5.0 0M1221.47 920.52a2.5 2.5 0 1 0 5.0 0a2.5 2.5 0 1 0 -5.0 0M1222 921.19a2.5 2.5 0 1 0 5.0 0a2.5 2.5 0 1 0 -5.0 0M1222.52 919.62a2.5 2.5 0 1 0 5.0 0a2.5 2.5 0 1 0 -5.0 0M1223.05 920.12a2.5 2.5 0 1 0 5.0 0a2.5 2.5 0 1 0 -5.0 0M1223.57 920.61a2.5 2.5 0 1 0 5.0 0a2.5 2.5 0 1 0 -5.0 0M1224.09 920.75a2.5 2.5 0 1 0 5.0 0a2.5 2.5 0 1 0 -5.0 0M1224.62 920.74a2.5 2.5 0 1 0 5.0 0a2.5 2.5 0 1 0 -5.0 0M1225.14 921.04a2.5 2.5 0 1 0 5.0 0a2.5 2.5 0 1 0 -5.0 0M1225.66 920.73a2.5 2.5 0 1 0 5.0 0a2.5 2.5 0 1 0 -5.0 0M1226.19 920.91a2.5 2.5 0 1 0 5.0 0a2.5 2.5 0 1 0 -5.0 0M1226.71 919.78a2.5 2.5 0 1 0 5.0 0a2.5 2.5 0 1 0 -5.0 0M1227.23 920.53a2.5 2.5 0 1 0 5.0 0a2.5 2.5 0 1 0 -5.0 0M1227.76 921.32a2.5 2.5 0 1 0 5.0 0a2.5 2.5 0 1 0 -5.0 0M1228.28 921.23a2.5 2.5 0 1 0 5.0 0a2.5 2.5 0 1 0 -5.0 0M1228.8 920.17a2.5 2.5 0 1 0 5.0 0a2.5 2.5 0 1 0 -5.0 0M1229.33 920.7a2.5 2.5 0 1 0 5.0 0a2.5 2.5 0 1 0 -5.0 0M1229.85 920.86a2.5 2.5 0 1 0 5.0 0a2.5 2.5 0 1 0 -5.0 0M1230.37 920.65a2.5 2.5 0 1 0 5.0 0a2.5 2.5 0 1 0 -5.0 0M1230.9 920.16a2.5 2.5 0 1 0 5.0 0a2.5 2.5 0 1 0 -5.0 0M1231.42 922a2.5 2.5 0 1 0 5.0 0a2.5 2.5 0 1 0 -5.0 0M1231.94 921.76a2.5 2.5 0 1 0 5.0 0a2.5 2.5 0 1 0 -5.0 0M1232.47 922.45a2.5 2.5 0 1 0 5.0 0a2.5 2.5 0 1 0 -5.0 0M1232.99 921.09a2.5 2.5 0 1 0 5.0 0a2.5 2.5 0 1 0 -5.0 0M1233.51 921.69a2.5 2.5 0 1 0 5.0 0a2.5 2.5 0 1 0 -5.0 0M1234.04 921.93a2.5 2.5 0 1 0 5.0 0a2.5 2.5 0 1 0 -5.0 0M1234.56 922.04a2.5 2.5 0 1 0 5.0 0a2.5 2.5 0 1 0 -5.0 0M1235.09 921.18a2.5 2.5 0 1 0 5.0 0a2.5 2.5 0 1 0 -5.0 0M1235.61 921.76a2.5 2.5 0 1 0 5.0 0a2.5 2.5 0 1 0 -5.0 0M1236.13 922.05a2.5 2.5 0 1 0 5.0 0a2.5 2.5 0 1 0 -5.0 0M1236.66 920.97a2.5 2.5 0 1 0 5.0 0a2.5 2.5 0 1 0 -5.0 0M1237.18 922.48a2.5 2.5 0 1 0 5.0 0a2.5 2.5 0 1 0 -5.0 0M1237.7 922.67a2.5 2.5 0 1 0 5.0 0a2.5 2.5 0 1 0 -5.0 0M1238.23 920.27a2.5 2.5 0 1 0 5.0 0a2.5 2.5 0 1 0 -5.0 0M1238.75 922.19a2.5 2.5 0 1 0 5.0 0a2.5 2.5 0 1 0 -5.0 0M1239.27 922.35a2.5 2.5 0 1 0 5.0 0a2.5 2.5 0 1 0 -5.0 0M1239.8 922.51a2.5 2.5 0 1 0 5.0 0a2.5 2.5 0 1 0 -5.0 0M1240.32 922.18a2.5 2.5 0 1 0 5.0 0a2.5 2.5 0 1 0 -5.0 0M1240.84 921.65a2.5 2.5 0 1 0 5.0 0a2.5 2.5 0 1 0 -5.0 0M1241.37 921.71a2.5 2.5 0 1 0 5.0 0a2.5 2.5 0 1 0 -5.0 0M1241.89 921.88a2.5 2.5 0 1 0 5.0 0a2.5 2.5 0 1 0 -5.0 0M1242.41 922.45a2.5 2.5 0 1 0 5.0 0a2.5 2.5 0 1 0 -5.0 0M1242.94 923.26a2.5 2.5 0 1 0 5.0 0a2.5 2.5 0 1 0 -5.0 0M1243.46 922.17a2.5 2.5 0 1 0 5.0 0a2.5 2.5 0 1 0 -5.0 0M1243.99 921.43a2.5 2.5 0 1 0 5.0 0a2.5 2.5 0 1 0 -5.0 0M1244.51 921.75a2.5 2.5 0 1 0 5.0 0a2.5 2.5 0 1 0 -5.0 0M1245.03 922.58a2.5 2.5 0 1 0 5.0 0a2.5 2.5 0 1 0 -5.0 0M1245.56 922a2.5 2.5 0 1 0 5.0 0a2.5 2.5 0 1 0 -5.0 0M1246.08 922.79a2.5 2.5 0 1 0 5.0 0a2.5 2.5 0 1 0 -5.0 0M1246.6 922.62a2.5 2.5 0 1 0 5.0 0a2.5 2.5 0 1 0 -5.0 0M1247.13 923.4a2.5 2.5 0 1 0 5.0 0a2.5 2.5 0 1 0 -5.0 0M1247.65 922.86a2.5 2.5 0 1 0 5.0 0a2.5 2.5 0 1 0 -5.0 0M1248.17 922.6a2.5 2.5 0 1 0 5.0 0a2.5 2.5 0 1 0 -5.0 0M1248.7 922.83a2.5 2.5 0 1 0 5.0 0a2.5 2.5 0 1 0 -5.0 0M1249.22 922.27a2.5 2.5 0 1 0 5.0 0a2.5 2.5 0 1 0 -5.0 0M1249.74 921.6a2.5 2.5 0 1 0 5.0 0a2.5 2.5 0 1 0 -5.0 0M1250.27 921.99a2.5 2.5 0 1 0 5.0 0a2.5 2.5 0 1 0 -5.0 0M1250.79 923.05a2.5 2.5 0 1 0 5.0 0a2.5 2.5 0 1 0 -5.0 0M1251.31 923.36a2.5 2.5 0 1 0 5.0 0a2.5 2.5 0 1 0 -5.0 0M1251.84 923.34a2.5 2.5 0 1 0 5.0 0a2.5 2.5 0 1 0 -5.0 0M1252.36 923.57a2.5 2.5 0 1 0 5.0 0a2.5 2.5 0 1 0 -5.0 0M1252.88 922.96a2.5 2.5 0 1 0 5.0 0a2.5 2.5 0 1 0 -5.0 0M1253.41 922.75a2.5 2.5 0 1 0 5.0 0a2.5 2.5 0 1 0 -5.0 0M1253.93 922.93a2.5 2.5 0 1 0 5.0 0a2.5 2.5 0 1 0 -5.0 0M1254.45 922.95a2.5 2.5 0 1 0 5.0 0a2.5 2.5 0 1 0 -5.0 0M1254.98 923a2.5 2.5 0 1 0 5.0 0a2.5 2.5 0 1 0 -5.0 0M1255.5 923.22a2.5 2.5 0 1 0 5.0 0a2.5 2.5 0 1 0 -5.0 0M1256.03 923.63a2.5 2.5 0 1 0 5.0 0a2.5 2.5 0 1 0 -5.0 0M1256.55 922.1a2.5 2.5 0 1 0 5.0 0a2.5 2.5 0 1 0 -5.0 0M1257.07 922.55a2.5 2.5 0 1 0 5.0 0a2.5 2.5 0 1 0 -5.0 0M1257.6 923.82a2.5 2.5 0 1 0 5.0 0a2.5 2.5 0 1 0 -5.0 0M1258.12 923.84a2.5 2.5 0 1 0 5.0 0a2.5 2.5 0 1 0 -5.0 0M1258.64 923.67a2.5 2.5 0 1 0 5.0 0a2.5 2.5 0 1 0 -5.0 0M1259.17 923.3a2.5 2.5 0 1 0 5.0 0a2.5 2.5 0 1 0 -5.0 0M1259.69 922.55a2.5 2.5 0 1 0 5.0 0a2.5 2.5 0 1 0 -5.0 0M1260.21 922.73a2.5 2.5 0 1 0 5.0 0a2.5 2.5 0 1 0 -5.0 0M1260.74 922.72a2.5 2.5 0 1 0 5.0 0a2.5 2.5 0 1 0 -5.0 0M1261.26 922.74a2.5 2.5 0 1 0 5.0 0a2.5 2.5 0 1 0 -5.0 0M1261.78 922.75a2.5 2.5 0 1 0 5.0 0a2.5 2.5 0 1 0 -5.0 0M1262.31 923.01a2.5 2.5 0 1 0 5.0 0a2.5 2.5 0 1 0 -5.0 0M1262.83 923.21a2.5 2.5 0 1 0 5.0 0a2.5 2.5 0 1 0 -5.0 0M1263.35 923.6a2.5 2.5 0 1 0 5.0 0a2.5 2.5 0 1 0 -5.0 0M1263.88 924.65a2.5 2.5 0 1 0 5.0 0a2.5 2.5 0 1 0 -5.0 0M1264.4 923.65a2.5 2.5 0 1 0 5.0 0a2.5 2.5 0 1 0 -5.0 0M1264.92 922.45a2.5 2.5 0 1 0 5.0 0a2.5 2.5 0 1 0 -5.0 0M1265.45 923.96a2.5 2.5 0 1 0 5.0 0a2.5 2.5 0 1 0 -5.0 0M1265.97 924.04a2.5 2.5 0 1 0 5.0 0a2.5 2.5 0 1 0 -5.0 0M1266.5 923.02a2.5 2.5 0 1 0 5.0 0a2.5 2.5 0 1 0 -5.0 0M1267.02 923.63a2.5 2.5 0 1 0 5.0 0a2.5 2.5 0 1 0 -5.0 0M1267.54 924.01a2.5 2.5 0 1 0 5.0 0a2.5 2.5 0 1 0 -5.0 0M1268.07 922.74a2.5 2.5 0 1 0 5.0 0a2.5 2.5 0 1 0 -5.0 0M1268.59 923.36a2.5 2.5 0 1 0 5.0 0a2.5 2.5 0 1 0 -5.0 0M1269.11 923.29a2.5 2.5 0 1 0 5.0 0a2.5 2.5 0 1 0 -5.0 0M1269.64 924.15a2.5 2.5 0 1 0 5.0 0a2.5 2.5 0 1 0 -5.0 0M1270.16 923.5a2.5 2.5 0 1 0 5.0 0a2.5 2.5 0 1 0 -5.0 0M1270.68 923.6a2.5 2.5 0 1 0 5.0 0a2.5 2.5 0 1 0 -5.0 0M1271.21 923.37a2.5 2.5 0 1 0 5.0 0a2.5 2.5 0 1 0 -5.0 0M1271.73 923.15a2.5 2.5 0 1 0 5.0 0a2.5 2.5 0 1 0 -5.0 0M1272.25 923.19a2.5 2.5 0 1 0 5.0 0a2.5 2.5 0 1 0 -5.0 0M1272.78 923.81a2.5 2.5 0 1 0 5.0 0a2.5 2.5 0 1 0 -5.0 0M1273.3 923.5a2.5 2.5 0 1 0 5.0 0a2.5 2.5 0 1 0 -5.0 0" fill="none" stroke="#ff0000" stroke-width="3.0"/>
<path d="M811.46 925.61h0M811.98 834.9h0M812.5 822.43h0M813.03 804.25h0M813.55 790.74h0M814.07 775.12h0M814.6 765.82h0M815.12 758.74h0M815.64 750.37h0M819.31 734.79h0M819.83 730.69h0M822.45 715.89h0M824.02 708.9h0M824.54 702.38h0M825.07 702.26h0M828.21 686.55h0M829.78 682.2h0M831.87 670.81h0M833.44 664.21h0M835.01 655.74h0M841.82 639.23h0M842.34 639.56h0M849.15 625.37h0M851.77 618.49h0M852.81 611.26h0M853.34 611.54h0M854.38 725.96h0M854.91 732.75h0M856.48 750.23h0M857 757.79h0M857.52 757.98h0M858.57 766.61h0M859.1 771.43h0M859.62 778.61h0M860.14 790.15h0M860.67 796.4h0M861.19 806.6h0M861.71 810.74h0M862.24 815.44h0M862.76 825.52h0M863.81 841.78h0M865.9 855.29h0M866.42 860.36h0M867.99 867.57h0M868.52 872.61h0M869.04 872.58h0M870.61 880.75h0M872.18 884.74h0M875.32 895.17h0M885.79 907.25h0M916.16 921.95h0M916.68 818.9h0M917.2 811.43h0M917.73 800.17h0M918.25 788.34h0M918.77 779.37h0M919.3 775.03h0M920.34 765.26h0M920.87 759.93h0M921.39 749.52h0M921.91 744.8h0M922.44 740.53h0M922.96 732.6h0M923.49 732.4h0M924.01 726.63h0M924.53 719.23h0M925.06 713.49h0M925.58 713.58h0M926.63 707.93h0M927.67 700.65h0M928.2 700.57h0M928.72 693.62h0M930.29 684.96h0M931.86 677.63h0M932.91 669.94h0M935 656.43h0M936.57 650.42h0M940.76 639.99h0M946.52 623.96h0M956.47 613.22h0M956.99 608.02h0M957.51 608.47h0M958.04 718.48h0M958.56 725.1h0M959.08 734.53h0M959.61 748.08h0M960.13 755.55h0M960.65 763.92h0M962.22 774.88h0M962.75 781.27h0M963.27 789.42h0M963.8 789.21h0M964.32 801.46h0M964.84 807h0M965.37 812.69h0M965.89 824.88h0M966.41 835.84h0M966.94 843.98h0M967.46 844.06h0M969.03 856.79h0M970.08 865.69h0M970.6 869.93h0M974.79 888.06h0M1020.86 923.18h0M1021.38 822.86h0M1021.9 812.45h0M1022.43 807.41h0M1023.47 797.05h0M1024 791.12h0M1024.52 783.21h0M1025.04 773.68h0M1025.57 765.03h0M1026.09 755.02h0M1026.62 748.13h0M1027.14 737.64h0M1028.71 723.83h0M1029.23 713.71h0M1030.8 702.7h0M1031.33 694.77h0M1032.37 690.55h0M1033.94 676.13h0M1034.47 669.36h0M1034.99 669.39h0M1035.51 662.43h0M1037.09 655.51h0M1038.66 650.69h0M1054.36 613.99h0M1054.88 614.2h0M1063.26 601.97h0M1063.78 736.89h0M1064.31 746.22h0M1065.35 753.71h0M1065.88 763.34h0M1066.4 767.34h0M1066.92 773.03h0M1067.45 777.8h0M1067.97 783.83h0M1069.02 794.18h0M1070.07 803.68h0M1070.59 813.66h0M1071.64 822.62h0M1072.16 826.75h0M1072.68 834.27h0M1073.73 844.14h0M1074.78 848.41h0M1075.82 857.7h0M1077.92 867.93h0M1080.54 878.57h0M1083.15 882.85h0M1083.68 888.71h0M1125.03 921.29h0M1125.56 921.13h0M1126.08 799.05h0M1126.6 775.83h0M1127.13 759.67h0M1127.65 751.77h0M1128.7 745.11h0M1129.22 732.82h0M1129.74 724.82h0M1130.27 715.96h0M1130.79 710.84h0M1131.32 701.31h0M1131.84 691.41h0M1132.89 675.97h0M1133.93 664.04h0M1134.46 657.12h0M1134.98 657h0M1138.12 642.39h0M1141.79 631.65h0M1142.31 630.94h0M1148.07 616.87h0M1152.26 607.16h0M1152.78 607.7h0M1166.39 603.87h0M1166.91 603.87h0M1167.44 599.51h0M1168.48 724.15h0M1169.01 730.3h0M1169.53 736.16h0M1170.05 745.28h0M1170.58 750.87h0M1171.1 759.48h0M1171.62 774.09h0M1172.15 787.49h0M1173.19 796.4h0M1174.77 806.12h0M1175.81 810.6h0M1176.34 815.22h0M1177.91 824.13h0M1178.43 829.55h0M1178.95 835.17h0M1179.48 834.82h0M1180 842.35h0M1180.52 847.27h0M1181.57 854.34h0M1183.14 865.41h0M1184.19 872.23h0M1184.71 877.33h0M1275.28 923.81h0M1275.8 923.5h0" fill="none" stroke="#fff" stroke-width="1.8" stroke-linecap="round" />
</g>
<text x="1339" y="554" font-size="41" text-anchor="start" fill="#000" font-weight="bold">f</text>
<line x1="1433.4" y1="559.6" x2="1433.4" y2="938.2" stroke="#000" stroke-width="2" />
<line x1="1432.4" y1="937.2" x2="1946.3" y2="937.2" stroke="#000" stroke-width="2" />
<line x1="1432.4" y1="560.6" x2="1946.3" y2="560.6" stroke="#000" stroke-width="2" />
<line x1="1945.3" y1="560.6" x2="1945.3" y2="938.2" stroke="#000" stroke-width="1.4" />
<line x1="1433.4" y1="937.2" x2="1441.4" y2="937.2" stroke="#000" stroke-width="2" />
<text transform="translate(1421.2,945.4) scale(1.045,1)" x="0" y="0" font-size="23.4" text-anchor="end" fill="#000" >0</text>
<line x1="1433.4" y1="895.36" x2="1438" y2="895.36" stroke="#000" stroke-width="2" />
<line x1="1433.4" y1="853.51" x2="1441.4" y2="853.51" stroke="#000" stroke-width="2" />
<text transform="translate(1421.2,861.71) scale(1.045,1)" x="0" y="0" font-size="23.4" text-anchor="end" fill="#000" >40</text>
<line x1="1433.4" y1="811.67" x2="1438" y2="811.67" stroke="#000" stroke-width="2" />
<line x1="1433.4" y1="769.82" x2="1441.4" y2="769.82" stroke="#000" stroke-width="2" />
<text transform="translate(1421.2,778.02) scale(1.045,1)" x="0" y="0" font-size="23.4" text-anchor="end" fill="#000" >80</text>
<line x1="1433.4" y1="727.98" x2="1438" y2="727.98" stroke="#000" stroke-width="2" />
<line x1="1433.4" y1="686.14" x2="1441.4" y2="686.14" stroke="#000" stroke-width="2" />
<text transform="translate(1421.2,694.34) scale(1.045,1)" x="0" y="0" font-size="23.4" text-anchor="end" fill="#000" >120</text>
<line x1="1433.4" y1="644.29" x2="1438" y2="644.29" stroke="#000" stroke-width="2" />
<line x1="1433.4" y1="602.45" x2="1441.4" y2="602.45" stroke="#000" stroke-width="2" />
<text transform="translate(1421.2,610.65) scale(1.045,1)" x="0" y="0" font-size="23.4" text-anchor="end" fill="#000" >160</text>
<line x1="1433.4" y1="560.6" x2="1438" y2="560.6" stroke="#000" stroke-width="2" />
<line x1="1432.9" y1="937.2" x2="1432.9" y2="929.2" stroke="#000" stroke-width="2" />
<text transform="translate(1432.9,966.7) scale(1.045,1)" x="0" y="0" font-size="23.4" text-anchor="middle" fill="#000" >0</text>
<line x1="1494.8" y1="937.2" x2="1494.8" y2="932.2" stroke="#000" stroke-width="2" />
<line x1="1556.7" y1="937.2" x2="1556.7" y2="929.2" stroke="#000" stroke-width="2" />
<text transform="translate(1556.7,966.7) scale(1.045,1)" x="0" y="0" font-size="23.4" text-anchor="middle" fill="#000" >7</text>
<line x1="1618.6" y1="937.2" x2="1618.6" y2="932.2" stroke="#000" stroke-width="2" />
<line x1="1680.5" y1="937.2" x2="1680.5" y2="929.2" stroke="#000" stroke-width="2" />
<text transform="translate(1680.5,966.7) scale(1.045,1)" x="0" y="0" font-size="23.4" text-anchor="middle" fill="#000" >14</text>
<line x1="1742.41" y1="937.2" x2="1742.41" y2="932.2" stroke="#000" stroke-width="2" />
<line x1="1804.31" y1="937.2" x2="1804.31" y2="929.2" stroke="#000" stroke-width="2" />
<text transform="translate(1804.31,966.7) scale(1.045,1)" x="0" y="0" font-size="23.4" text-anchor="middle" fill="#000" >21</text>
<line x1="1866.21" y1="937.2" x2="1866.21" y2="932.2" stroke="#000" stroke-width="2" />
<line x1="1928.11" y1="937.2" x2="1928.11" y2="929.2" stroke="#000" stroke-width="2" />
<text transform="translate(1928.11,966.7) scale(1.045,1)" x="0" y="0" font-size="23.4" text-anchor="middle" fill="#000" >28</text>
<text x="1689.8" y="1005.7" font-size="23.7" text-anchor="middle" fill="#000" >Time (day)</text>
<text transform="translate(1349,749.2) rotate(-90)" x="0" y="0" font-size="23.7" text-anchor="middle" fill="#000">Responce (<tspan font-style="italic">R</tspan><tspan dy="8.8" font-size="16.6">a</tspan><tspan dy="-8.8">/</tspan><tspan font-style="italic">R</tspan><tspan dy="8.8" font-size="16.6">g</tspan><tspan dy="-8.8">)</tspan></text>
<polyline points="1450.59,647.64 1539.02,617.93 1680.5,624.63 1821.99,643.66 1928.11,637.18" fill="none" stroke="#0000ff" stroke-width="1.5" stroke-linejoin="round" stroke-dasharray="1.5 4.1"/>
<polyline points="1450.59,724.42 1539.02,719.82 1680.5,737.39 1821.99,722.33 1928.11,708.52" fill="none" stroke="#008080" stroke-width="1.5" stroke-linejoin="round" stroke-dasharray="1.5 4.1"/>
<polyline points="1450.59,816.27 1539.02,820.25 1680.5,816.27 1821.99,818.36 1928.11,801.63" fill="none" stroke="#ff0000" stroke-width="1.5" stroke-linejoin="round" stroke-dasharray="1.5 4.1"/>
<polyline points="1450.59,807.48 1539.02,821.29 1680.5,827.57 1821.99,833.22 1928.11,835.52" fill="none" stroke="#ff00ff" stroke-width="1.5" stroke-linejoin="round" stroke-dasharray="1.5 4.1"/>
<polyline points="1450.59,893.47 1539.02,889.29 1680.5,895.98 1821.99,898.08 1928.11,889.5" fill="none" stroke="#000000" stroke-width="1.5" stroke-linejoin="round" stroke-dasharray="1.5 4.1"/>
<circle cx="1450.59" cy="816.27" r="4.6" fill="#ff0000"/>
<circle cx="1539.02" cy="820.25" r="4.6" fill="#ff0000"/>
<circle cx="1680.5" cy="816.27" r="4.6" fill="#ff0000"/>
<circle cx="1821.99" cy="818.36" r="4.6" fill="#ff0000"/>
<circle cx="1928.11" cy="801.63" r="4.6" fill="#ff0000"/>
<polygon points="1455.65,801.98 1455.65,812.98 1445.53,807.48" fill="#ff00ff"/>
<polygon points="1544.08,815.79 1544.08,826.79 1533.96,821.29" fill="#ff00ff"/>
<polygon points="1685.56,822.07 1685.56,833.07 1675.44,827.57" fill="#ff00ff"/>
<polygon points="1827.05,827.72 1827.05,838.72 1816.93,833.22" fill="#ff00ff"/>
<polygon points="1933.17,830.02 1933.17,841.02 1923.05,835.52" fill="#ff00ff"/>
<rect x="1446.69" y="889.57" width="7.8" height="7.8" fill="#000000"/>
<rect x="1535.12" y="885.39" width="7.8" height="7.8" fill="#000000"/>
<rect x="1676.6" y="892.08" width="7.8" height="7.8" fill="#000000"/>
<rect x="1818.09" y="894.18" width="7.8" height="7.8" fill="#000000"/>
<rect x="1924.21" y="885.6" width="7.8" height="7.8" fill="#000000"/>
<polygon points="1444.79,719.32 1456.39,719.32 1450.59,729.53" fill="#008080"/>
<polygon points="1533.22,714.72 1544.82,714.72 1539.02,724.92" fill="#008080"/>
<polygon points="1674.7,732.29 1686.3,732.29 1680.5,742.5" fill="#008080"/>
<polygon points="1816.19,717.23 1827.79,717.23 1821.99,727.44" fill="#008080"/>
<polygon points="1922.31,703.42 1933.91,703.42 1928.11,713.63" fill="#008080"/>
<polygon points="1444.79,652.86 1456.39,652.86 1450.59,642.42" fill="#0000ff"/>
<polygon points="1533.22,623.15 1544.82,623.15 1539.02,612.71" fill="#0000ff"/>
<polygon points="1674.7,629.85 1686.3,629.85 1680.5,619.41" fill="#0000ff"/>
<polygon points="1816.19,648.88 1827.79,648.88 1821.99,638.44" fill="#0000ff"/>
<polygon points="1922.31,642.4 1933.91,642.4 1928.11,631.96" fill="#0000ff"/>
<text x="1826.6" y="603.7" font-size="19.6" text-anchor="start" fill="#0000ff" >SnO<tspan dy="8.3" font-size="13.8">2</tspan><tspan dy="-8.3">-3Ni</tspan></text>
<text x="1826.6" y="677.9" font-size="19.6" text-anchor="start" fill="#008080" >SnO<tspan dy="8.3" font-size="13.8">2</tspan><tspan dy="-8.3">-5Ni</tspan></text>
<text x="1826.6" y="786.5" font-size="19.6" text-anchor="start" fill="#ff0000" >SnO<tspan dy="8.3" font-size="13.8">2</tspan><tspan dy="-8.3">-1Ni</tspan></text>
<text x="1826.6" y="856.8" font-size="19.6" text-anchor="start" fill="#ff00ff" >SnO<tspan dy="8.3" font-size="13.8">2</tspan><tspan dy="-8.3">-10Ni</tspan></text>
<text x="1826.6" y="921.1" font-size="19.6" text-anchor="start" fill="#000000" >SnO<tspan dy="8.3" font-size="13.8">2</tspan></text>
</svg>
</body></html>
